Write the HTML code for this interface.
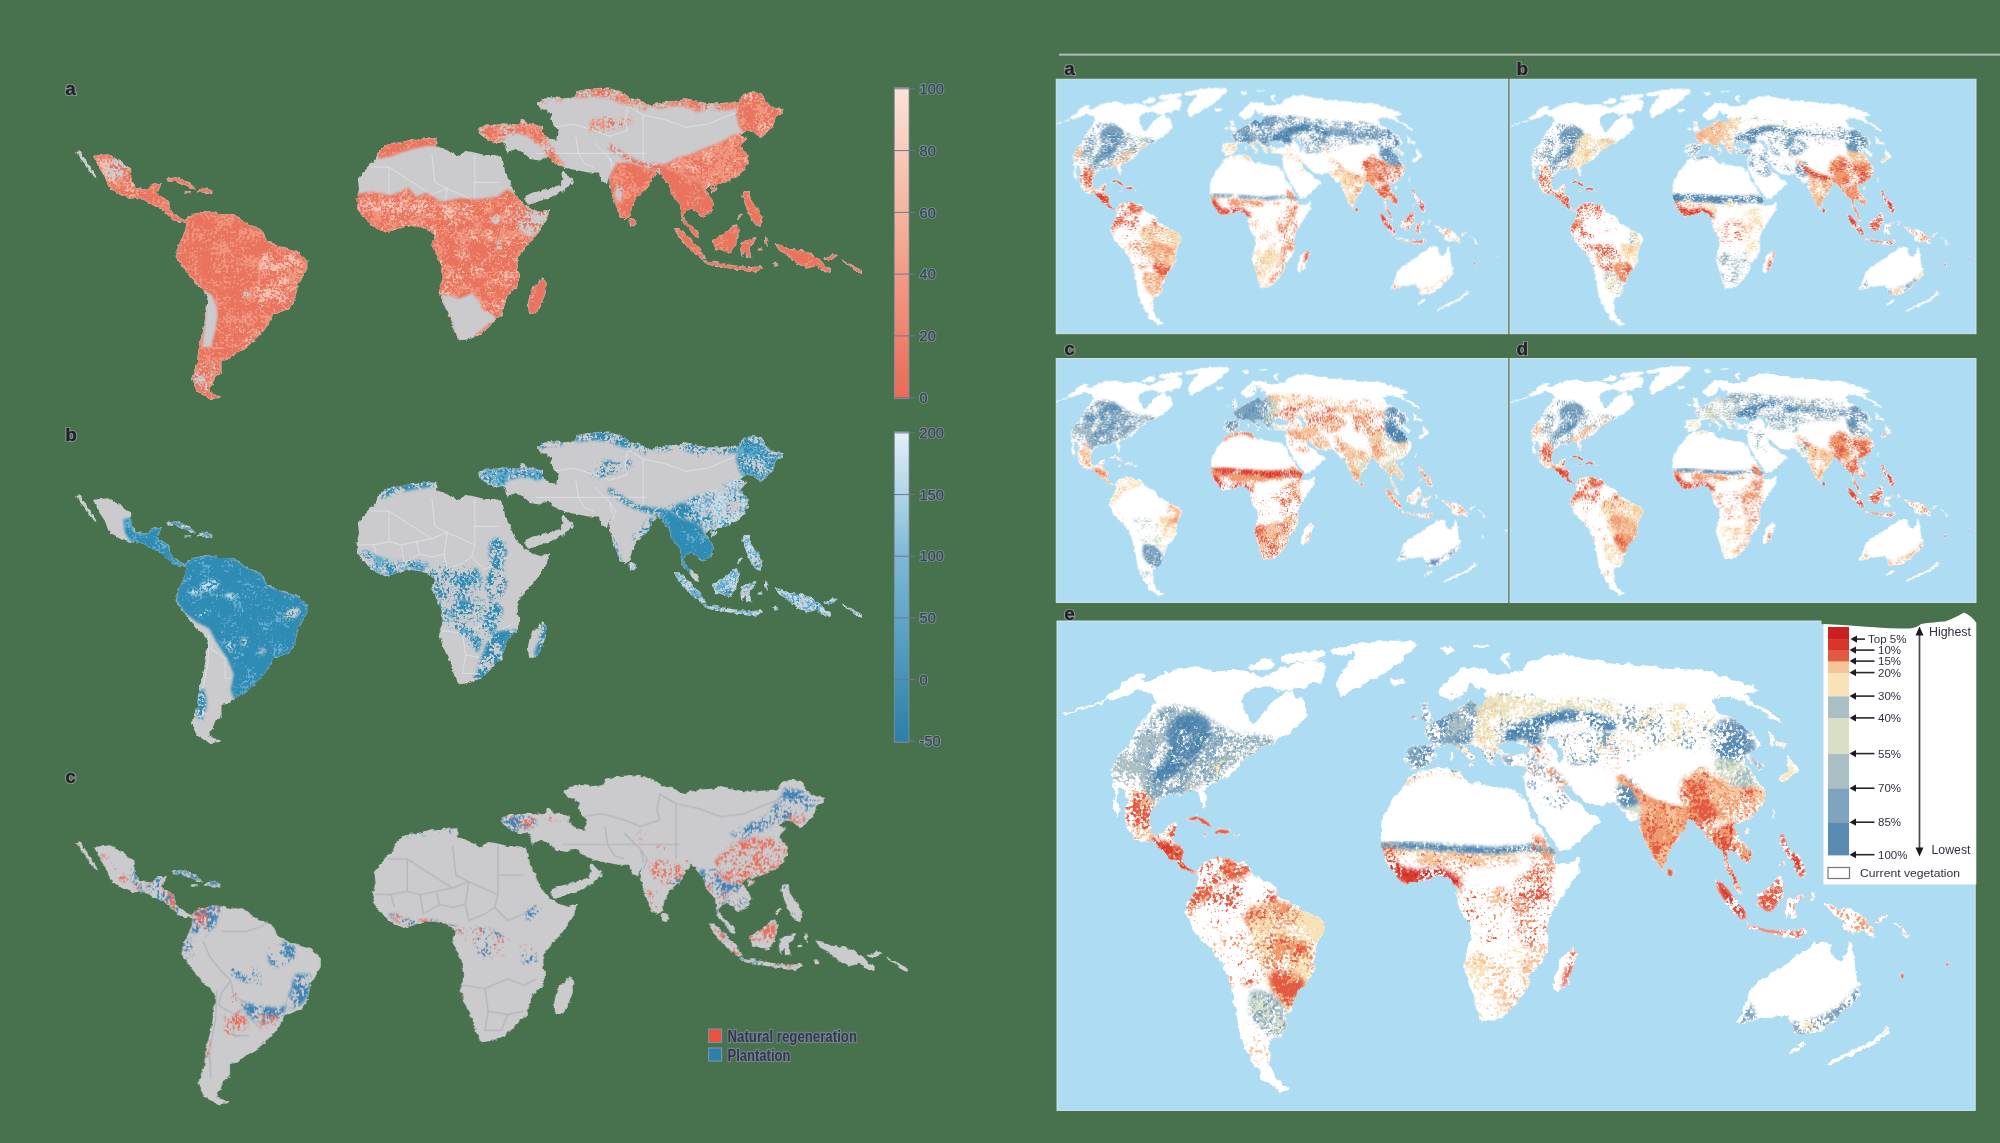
<!DOCTYPE html><html><head><meta charset="utf-8"><style>
html,body{margin:0;padding:0;background:#48714d;}
svg{display:block}
text{font-family:"Liberation Sans", sans-serif;}
</style></head><body>
<svg width="2000" height="1143" viewBox="0 0 2000 1143">
<defs>
<path id="landW" d="M1105.6,697.3 1113.0,692.4 1121.4,687.6 1120.3,683.0 1128.1,677.9 1142.4,672.5 1146.2,675.0 1140.3,680.0 1148.7,681.3 1159.2,675.8 1171.8,670.4 1184.4,668.7 1199.1,666.6 1209.6,670.4 1218.0,671.6 1230.6,670.0 1243.2,669.3 1248.4,673.7 1256.8,675.4 1266.3,675.0 1276.8,671.6 1281.0,667.5 1293.6,664.5 1308.2,661.2 1322.9,659.9 1326.3,668.3 1323.4,676.7 1319.2,681.9 1309.5,683.4 1305.3,688.4 1295.7,689.3 1288.3,690.3 1294.0,691.8 1294.8,698.9 1303.2,696.0 1305.3,708.2 1307.8,715.7 1301.9,722.9 1294.8,726.2 1291.5,731.3 1285.2,735.1 1280.5,738.0 1272.6,746.0 1266.3,744.3 1260.0,748.5 1251.6,754.4 1245.3,756.9 1239.0,764.9 1232.7,771.6 1228.5,775.8 1218.0,782.1 1209.6,786.3 1205.8,790.5 1205.8,798.9 1204.5,807.3 1201.2,807.3 1200.3,798.9 1197.0,792.6 1188.6,790.5 1180.2,794.7 1169.7,794.7 1159.2,801.0 1153.3,807.3 1151.2,813.6 1149.1,822.0 1151.2,830.4 1155.4,834.6 1163.4,832.5 1170.1,824.1 1177.2,822.0 1178.1,827.0 1174.3,832.5 1173.0,840.9 1180.2,845.1 1184.4,851.4 1183.1,854.2 1181.9,860.1 1185.4,866.0 1191.3,870.2 1196.1,871.2 1193.7,873.5 1187.8,873.1 1180.7,867.2 1173.6,861.3 1164.2,853.0 1154.7,844.7 1150.0,841.2 1142.4,842.6 1134.0,838.4 1128.1,830.0 1125.6,821.6 1123.9,809.0 1127.7,802.7 1125.6,792.6 1121.4,788.0 1113.0,783.8 1110.9,775.4 1113.0,764.9 1119.3,754.4 1127.7,746.0 1134.0,737.6 1138.2,727.1 1142.4,718.7 1150.8,710.3 1155.0,702.3 1152.9,696.0 1142.4,689.7 1129.8,693.9 1113.0,700.2ZM1113.0,784.2 1115.5,794.3 1112.1,803.1 1115.1,813.2 1117.6,816.5 1118.4,809.0 1116.3,800.6 1119.7,792.2 1117.6,785.0ZM1062.6,716.2 1077.3,710.7 1092.0,706.1 1106.7,700.8 1107.1,698.7 1092.0,704.0 1077.3,709.0 1062.6,714.9ZM1249.5,665.1 1260.0,659.9 1270.5,658.8 1275.1,664.1 1268.4,670.4 1255.8,671.6 1249.5,669.6ZM1281.0,657.0 1297.8,653.6 1310.3,651.5 1322.9,650.7 1325.5,655.7 1314.5,659.9 1301.9,662.0 1289.4,663.3 1281.0,661.2ZM1329.2,649.8 1343.9,646.5 1360.7,643.7 1364.9,646.2 1354.4,651.9 1343.9,654.9 1333.4,654.9ZM1343.9,646.5 1360.7,643.5 1377.5,641.4 1392.0,640.6 1410.9,641.0 1417.2,644.1 1409.8,651.5 1402.5,659.9 1392.0,668.3 1381.5,675.0 1368.9,681.3 1358.4,687.6 1350.0,691.0 1341.6,696.0 1336.6,685.5 1339.9,675.0 1348.3,664.5 1354.2,654.0ZM1187.5,818.4 1194.9,815.7 1203.3,818.4 1211.7,824.7 1212.7,827.9 1205.4,825.3 1197.0,820.5 1189.6,820.5ZM1213.8,832.1 1220.1,828.9 1228.5,830.0 1230.6,833.1 1222.2,834.6 1214.8,834.6ZM1202.2,833.1 1206.4,832.5 1206.4,835.2 1202.6,835.6ZM1234.8,833.1 1237.9,833.1 1237.9,835.2 1234.8,835.2ZM1196.1,870.7 1204.3,862.4 1216.1,856.5 1227.9,858.9 1239.7,861.3 1246.8,863.6 1251.6,870.7 1258.6,877.8 1270.4,882.5 1277.5,889.6 1279.9,896.7 1289.3,902.6 1301.1,908.5 1315.3,915.6 1323.6,921.5 1324.8,929.7 1320.0,939.2 1315.3,951.0 1314.1,962.8 1313.0,974.6 1305.9,984.1 1296.4,991.1 1294.1,1000.6 1291.7,1010.0 1284.6,1017.1 1287.0,1026.6 1281.1,1036.0 1272.8,1038.4 1268.1,1045.5 1270.4,1052.6 1268.1,1062.0 1272.8,1071.4 1277.5,1080.9 1289.3,1089.2 1282.3,1091.5 1270.4,1085.6 1261.0,1076.2 1253.9,1064.4 1246.8,1050.2 1239.7,1033.7 1237.4,1019.5 1235.0,1005.3 1231.5,991.1 1227.9,977.0 1223.2,965.2 1213.8,953.4 1202.0,941.6 1192.5,927.4 1186.6,915.6 1186.6,903.8 1192.5,894.3 1197.2,884.9ZM1405.6,760.7 1405.6,752.3 1407.1,748.1 1413.0,746.0 1423.5,745.6 1432.9,743.9 1428.1,737.6 1422.4,730.2 1425.6,726.0 1434.0,721.2 1442.4,717.6 1448.7,712.4 1455.0,709.2 1463.4,706.1 1467.6,702.3 1470.7,697.7 1473.9,702.9 1481.2,705.0 1487.5,700.8 1484.4,693.5 1476.0,689.3 1469.7,683.0 1466.5,691.4 1459.2,697.7 1450.8,701.0 1442.4,698.1 1438.2,693.5 1438.6,689.3 1450.8,676.7 1459.2,670.4 1471.8,667.5 1486.5,670.4 1497.0,675.0 1509.6,672.5 1524.3,668.7 1526.4,662.4 1539.0,659.9 1547.4,653.6 1560.0,654.6 1572.6,655.7 1585.2,659.1 1601.9,661.2 1622.9,664.1 1643.9,665.4 1664.9,667.5 1685.9,669.6 1700.0,668.7 1710.9,672.5 1729.8,677.9 1744.5,683.0 1755.0,687.2 1759.6,689.7 1750.8,693.9 1744.5,692.6 1748.7,698.9 1759.2,704.4 1767.6,710.7 1776.0,717.0 1782.3,723.3 1775.6,721.2 1763.4,712.8 1750.8,704.4 1740.3,700.2 1729.8,698.1 1719.3,696.8 1713.0,700.2 1713.4,706.5 1721.4,712.8 1734.0,719.1 1742.4,725.4 1752.9,733.8 1759.2,742.2 1760.4,746.4 1755.0,750.6 1750.8,748.5 1748.7,754.4 1755.0,756.9 1763.4,767.0 1759.6,771.6 1755.0,765.3 1750.8,760.7 1745.5,756.5 1744.5,762.8 1750.8,771.2 1757.1,779.6 1763.4,786.3 1765.9,794.7 1763.4,805.2 1755.0,813.6 1746.6,819.9 1738.2,824.1 1734.0,822.0 1734.4,826.8 1740.3,838.8 1748.7,849.3 1747.0,857.7 1751.1,848.3 1752.8,855.4 1748.0,863.0 1738.6,855.9 1729.1,848.8 1726.8,855.9 1731.5,867.7 1738.6,881.9 1742.4,893.7 1738.6,892.0 1729.1,874.8 1724.4,860.6 1719.7,848.8 1710.3,841.7 1703.2,832.3 1693.7,820.5 1688.5,820.0 1683.8,829.4 1674.4,843.6 1667.3,857.8 1661.8,870.1 1655.5,860.6 1648.4,846.5 1641.3,832.3 1638.9,820.0 1631.3,822.6 1628.2,817.4 1620.8,809.0 1615.0,803.1 1601.9,805.2 1587.3,803.1 1581.0,798.5 1572.6,790.1 1565.2,784.2 1561.6,784.8 1563.1,790.1 1568.4,796.8 1574.7,803.1 1583.1,805.2 1585.6,809.4 1596.1,815.7 1600.3,822.0 1587.3,834.6 1573.0,847.2 1560.4,851.4 1552.0,840.9 1539.4,822.0 1531.0,803.1 1527.4,800.1 1524.7,785.9 1524.7,767.4 1516.3,765.3 1505.8,765.3 1501.6,761.1 1501.6,754.8 1497.4,752.7 1493.2,756.9 1495.3,765.3 1489.0,763.2 1484.8,754.8 1476.4,746.4 1468.0,744.3 1464.4,746.0 1468.0,750.6 1476.4,759.0 1474.3,763.2 1468.0,756.9 1461.7,750.6 1455.4,748.5 1452.9,744.3 1448.7,744.3 1438.6,746.4 1434.0,748.5 1436.5,754.8 1430.2,763.2 1421.8,769.5 1411.3,767.4ZM1419.3,702.3 1428.1,704.4 1430.2,712.8 1432.3,721.2 1421.8,723.3 1419.7,717.0 1422.9,710.7ZM1409.2,714.9 1415.5,712.8 1416.6,719.1 1410.3,720.1ZM1388.8,680.3 1403.5,679.0 1405.0,683.2 1394.5,686.6ZM1440.3,647.7 1452.9,646.5 1455.4,651.9 1447.0,654.0ZM1501.2,655.1 1510.0,653.6 1505.8,660.3 1512.1,667.5 1504.7,665.4 1500.3,659.3ZM1472.8,645.2 1488.6,644.4 1488.6,646.5 1473.9,647.3ZM1450.8,752.3 1453.9,752.3 1453.9,759.6 1451.2,759.6ZM1467.6,764.9 1473.9,764.9 1471.8,768.0ZM1776.0,740.1 1786.9,743.9 1784.4,749.1 1777.0,746.0ZM1784.4,754.8 1795.3,763.2 1799.5,771.6 1793.2,775.8 1784.8,782.1 1778.5,782.1 1780.6,775.8 1789.0,769.5 1786.9,761.1ZM1767.6,729.2 1770.7,730.2 1776.0,746.0 1772.8,746.0ZM1771.4,810.0 1774.3,811.5 1773.9,817.4 1771.8,816.3ZM1745.5,828.9 1749.7,827.9 1750.4,832.1 1746.2,833.1ZM1402.5,786.3 1409.2,777.9 1419.7,771.6 1434.4,768.2 1449.1,767.0 1459.6,771.6 1464.4,776.4 1468.0,782.1 1484.8,784.2 1497.4,788.4 1510.0,788.4 1518.4,792.6 1524.7,798.9 1526.8,801.8 1530.1,815.7 1540.6,830.4 1549.0,843.0 1555.3,851.4 1553.9,863.9 1568.1,862.7 1579.9,858.0 1580.4,867.5 1573.3,879.3 1563.8,893.4 1554.4,907.6 1547.3,924.1 1548.5,938.3 1547.3,952.5 1540.2,964.3 1530.8,973.7 1528.4,987.9 1519.0,999.7 1507.2,1013.9 1493.0,1021.0 1481.2,1023.3 1476.5,1009.2 1472.9,995.0 1468.2,980.8 1463.5,966.7 1467.0,952.5 1471.7,938.3 1469.4,926.5 1462.3,914.7 1457.6,902.9 1457.6,888.7 1450.0,879.3 1441.0,875.9 1429.1,879.2 1417.3,882.7 1405.5,883.9 1396.1,878.0 1389.0,866.2 1383.1,854.4 1380.7,842.6 1379.4,847.2 1381.5,838.8 1380.7,826.2 1384.0,813.6 1392.4,798.9 1402.5,788.4ZM1572.8,947.8 1577.8,954.9 1573.0,969.0 1566.0,985.6 1557.7,992.6 1553.0,985.6 1556.5,971.4 1561.2,959.6 1568.3,952.5ZM1667.3,867.2 1673.2,870.8 1672.0,877.9 1667.3,875.5ZM1714.5,879.0 1721.6,881.4 1733.4,895.6 1745.2,909.7 1747.6,919.2 1740.5,919.2 1728.7,907.4 1719.2,893.2ZM1747.2,923.9 1761.4,927.5 1775.6,929.8 1789.8,931.0 1803.9,929.8 1807.5,932.2 1799.2,936.9 1785.0,935.7 1770.9,933.4 1756.7,931.0 1746.1,927.5ZM1756.7,895.6 1765.0,890.9 1775.6,879.1 1782.7,876.7 1783.9,883.8 1782.7,895.6 1778.0,905.0 1770.9,913.3 1762.6,910.9 1757.9,903.9ZM1787.4,900.3 1794.5,896.8 1803.9,895.6 1799.2,901.5 1793.3,905.0 1795.7,916.9 1792.1,919.2 1789.8,912.1 1786.2,919.2 1785.5,907.4ZM1795.7,936.9 1805.1,931.0 1807.5,933.4 1798.0,939.3ZM1811.0,893.2 1814.6,892.0 1813.4,901.5 1810.6,900.3ZM1779.1,834.2 1783.9,833.0 1786.2,843.6 1790.9,850.7 1799.2,855.4 1803.9,864.9 1806.3,874.3 1800.4,877.9 1795.7,870.8 1792.1,862.5 1787.4,855.4 1781.5,846.0ZM1778.0,867.2 1783.9,860.2 1785.0,862.5 1779.1,869.6ZM1822.8,902.7 1832.3,905.0 1841.7,909.8 1851.2,908.6 1860.6,913.3 1867.7,921.6 1872.4,931.0 1876.0,936.9 1870.1,935.7 1863.0,931.0 1853.5,933.4 1846.5,931.0 1841.7,921.6 1834.6,914.5 1827.6,909.8ZM1874.8,920.4 1886.6,914.5 1889.0,916.9 1879.5,922.8ZM1893.7,921.6 1900.8,927.5 1910.2,936.9 1907.9,938.1 1899.6,929.8 1892.5,923.5ZM1736.6,1023.1 1742.5,1013.7 1746.1,1001.9 1749.6,990.1 1759.1,980.6 1770.9,973.5 1782.7,966.5 1794.5,957.0 1806.3,951.1 1814.6,942.8 1822.8,941.7 1832.3,944.0 1828.7,952.3 1834.6,959.4 1841.7,961.7 1846.5,952.3 1850.0,940.5 1852.4,947.6 1854.7,961.7 1855.9,973.5 1859.4,985.4 1859.4,994.8 1851.2,1006.6 1841.7,1013.7 1832.3,1023.1 1822.8,1030.2 1811.0,1032.6 1799.2,1035.0 1793.3,1032.6 1792.1,1023.1 1789.8,1016.1 1778.0,1016.1 1763.8,1018.4 1752.0,1020.8 1742.5,1024.3ZM1788.6,1052.7 1794.5,1046.8 1803.9,1042.0 1806.3,1044.4 1799.2,1050.3 1790.9,1053.9ZM1900.5,974 1903.5,973 1905,977 1903.5,980 1900.8,978.5ZM1944.5,965.5 1947,963 1949.8,963.8 1948,966.5 1945.5,967ZM1826.4,1064.5 1834.6,1058.6 1851.2,1050.3 1865.4,1044.4 1874.8,1039.7 1884.3,1030.2 1889.0,1025.5 1890.2,1032.6 1886.6,1036.1 1879.5,1040.9 1870.1,1045.6 1853.5,1053.9 1839.4,1060.9 1828.7,1065.7Z"/>
<path id="holesW" d="M1241.5,698.1 1246.3,691.4 1260.0,688.0 1273.0,687.2 1281.8,691.0 1290.4,689.7 1279.9,696.0 1270.5,704.8 1262.5,713.6 1257.9,720.4 1251.1,723.3 1248.2,715.7 1243.6,706.5ZM1500.1,743.0 1509.6,740.9 1518.0,743.9 1528.5,746.0 1531.0,750.2 1524.7,754.4 1512.1,754.8 1503.7,751.4 1499.5,748.1ZM1547.4,738.8 1554.9,737.6 1558.3,743.9 1562.5,750.2 1564.6,758.6 1560.4,763.2 1557.0,756.5 1552.8,750.2 1549.5,743.9ZM1473.9,702.9 1476.0,692.4 1482.3,687.2 1486.5,689.3 1484.4,693.5 1487.5,700.8 1481.2,705.0Z"/>
<path id="landL" d="M92.9,155.8 108.2,154.2 120.4,160.4 131.2,169.5 131.2,180.3 135.8,187.9 148.0,189.4 152.6,183.3 161.8,183.3 157.2,194.0 167.9,200.2 171.0,210.9 178.6,217.0 184.8,220.1 192.4,214.0 209.3,210.9 221.5,214.0 233.8,214.0 246.0,223.1 261.3,229.3 267.5,241.5 282.8,247.6 298.1,252.2 307.3,259.9 307.3,269.1 298.1,284.4 295.0,299.7 288.9,308.9 273.6,315.0 264.4,330.3 252.1,342.6 246.0,348.7 233.8,354.8 229.2,359.4 221.5,361.0 221.5,373.2 215.4,376.3 212.3,385.5 209.3,391.6 221.5,397.7 209.3,399.2 197.0,391.6 190.9,379.3 197.0,364.0 198.5,345.7 203.1,330.3 206.2,312.0 207.7,296.6 203.1,290.5 190.9,278.3 181.7,266.0 175.6,256.8 178.6,244.6 184.8,232.3 186.3,223.1 178.6,221.6 172.5,220.1 166.4,214.0 160.3,207.8 151.1,204.8 141.9,198.6 129.6,198.6 117.4,194.0 108.2,186.4 105.1,177.2 99.0,168.0ZM76.0,151.2 80.6,152.1 88.3,163.4 95.9,175.7 96.6,178.7 91.3,174.1 83.7,163.4 78.2,155.8ZM166.4,178.7 175.6,177.2 184.8,180.3 194.0,186.4 194.6,190.1 186.3,185.8 177.1,181.8 167.9,181.8ZM197.0,190.1 204.7,187.9 212.3,190.1 212.3,193.1 203.1,193.1 197.6,193.1ZM184.8,191.0 190.9,191.0 190.9,193.4 184.8,193.4ZM388.2,143.6 400.9,142.3 411.1,139.0 426.3,138.5 436.4,138.0 436.4,146.1 446.6,149.9 459.3,156.3 464.4,150.7 474.5,152.5 484.7,155.0 494.8,155.0 502.4,157.6 505.0,171.5 510.1,181.7 515.1,194.4 521.5,202.0 529.1,208.3 540.5,212.1 549.4,209.1 546.9,219.7 540.5,229.9 532.9,240.1 522.7,250.2 517.7,257.8 517.7,270.5 520.2,275.6 517.7,285.7 507.5,295.9 505.0,303.5 502.4,313.7 492.3,323.8 482.1,334.0 469.4,339.0 459.3,340.3 454.2,331.4 451.7,321.3 446.6,311.1 441.5,298.4 439.0,288.3 442.8,278.1 441.5,265.4 436.4,255.3 431.4,245.1 433.9,235.0 428.8,229.9 421.2,227.4 411.1,226.1 398.4,228.6 385.7,232.4 375.5,227.4 365.4,219.7 357.8,209.6 356.5,199.4 359.0,189.3 357.8,179.1 365.4,169.0 375.5,158.8 378.1,151.2ZM543.0,278.1 546.9,283.2 545.6,293.4 540.5,306.0 535.4,313.7 529.1,313.7 527.8,303.5 530.4,290.8 535.4,285.7ZM526.0,195.8 532.1,192.8 542.1,190.7 552.2,187.7 560.2,184.7 562.3,178.7 561.3,172.6 564.3,170.6 567.3,175.6 573.3,178.7 572.3,182.7 566.3,188.7 556.2,194.8 546.2,198.8 536.1,202.8 528.0,204.8 525.0,200.8ZM478.3,128.9 484.7,124.6 497.4,124.6 502.4,123.3 517.7,124.6 522.7,119.5 527.8,123.3 535.4,124.6 543.0,127.1 543.0,133.5 550.7,139.0 557.2,139.4 558.6,132.4 554.2,126.3 550.2,120.3 552.2,115.3 548.2,111.3 540.1,108.2 537.1,103.2 542.1,99.2 552.2,97.2 564.3,98.2 574.3,97.2 577.4,91.1 588.4,89.1 600.5,87.7 612.6,89.1 622.6,92.1 630.7,98.2 640.7,100.2 648.8,105.2 658.8,103.2 668.9,101.2 681.0,100.2 685.0,98.2 695.1,100.2 707.1,103.2 719.2,103.2 729.3,102.2 739.3,101.2 743.4,94.1 751.4,92.1 761.5,93.1 765.5,100.2 771.5,107.2 783.6,109.2 783.6,113.3 775.6,117.3 773.5,126.3 767.5,132.4 761.5,137.4 755.4,134.4 751.4,130.4 743.4,132.4 740.3,135.4 747.4,138.4 741.4,144.5 743.4,150.5 747.4,154.5 748.4,162.6 743.4,170.6 737.3,176.7 729.3,180.7 721.2,183.7 715.2,184.7 709.2,187.7 705.1,190.7 711.2,196.8 714.2,204.8 711.2,210.9 703.1,217.9 697.1,212.9 691.0,208.8 687.0,210.9 683.0,214.9 685.0,219.9 691.0,224.9 697.1,231.0 699.1,238.0 695.1,237.0 689.0,229.0 683.0,222.9 681.0,214.9 680.0,204.8 674.9,198.8 670.9,194.8 669.9,186.7 664.9,180.7 660.9,174.6 656.8,172.6 652.8,178.7 648.8,186.7 640.7,194.8 634.7,200.8 631.7,208.8 629.7,216.9 624.6,219.9 619.6,214.9 614.6,202.8 610.6,190.7 609.5,180.7 610.6,174.6 606.5,184.7 600.5,178.7 598.5,172.6 588.4,172.6 578.4,170.6 565.9,168.0 555.7,164.4 548.1,156.8 540.5,160.6 530.4,159.3 522.7,151.7 515.1,149.2 507.5,153.8 506.2,146.1 502.4,143.6 492.3,142.3 484.7,138.0 479.1,133.5ZM629.7,217.9 634.7,218.9 636.7,223.9 632.7,227.0 629.7,223.9ZM711.2,187.7 716.2,186.7 716.2,190.7 712.2,192.8ZM672.9,228.0 679.0,228.0 691.0,239.0 701.1,249.1 705.1,259.2 699.1,258.1 689.0,249.1 679.0,237.0ZM704.1,260.2 717.2,262.2 733.3,265.2 749.4,267.2 761.5,266.2 763.5,269.2 753.4,272.2 733.3,269.2 717.2,266.2 705.1,264.2ZM712.2,240.0 721.2,235.0 731.3,227.0 737.3,224.9 740.3,229.0 737.3,237.0 736.3,245.1 731.3,253.1 723.2,252.1 715.2,249.1ZM741.4,243.1 747.4,239.0 757.5,238.0 753.4,243.1 749.4,247.1 751.4,257.1 747.4,258.1 744.4,251.1 741.4,258.1 740.3,249.1ZM743.4,191.7 749.4,190.7 750.4,198.8 754.4,204.8 758.5,208.8 762.5,216.9 760.5,227.0 755.4,224.9 751.4,218.9 747.4,210.9 744.4,202.8 742.4,196.8ZM736.9,217.9 741.8,213.3 743.0,214.9 738.1,219.3ZM765.5,237.0 768.5,241.0 766.5,247.1 764.5,243.1ZM774.6,244.1 781.6,245.1 789.6,249.1 801.7,250.1 811.8,254.1 819.8,259.2 825.9,266.2 830.9,269.2 829.9,274.2 821.8,269.2 815.8,266.2 807.8,268.2 799.7,265.2 793.7,261.2 787.6,255.1 779.6,251.1ZM823.9,259.2 833.9,253.1 836.9,256.1 829.9,261.2ZM842.0,259.2 852.0,265.2 860.1,269.2 862.1,274.2 859.1,273.2 850.0,266.2 841.6,261.2ZM757.5,248.1 761.5,247.1 762.5,250.1 758.5,250.7ZM772.5,263.2 777.6,262.8 777.6,265.6 773.1,265.6Z"/>
<filter id="rough" x="-2%" y="-2%" width="104%" height="104%"><feTurbulence type="fractalNoise" baseFrequency="0.12" numOctaves="3" seed="7" result="n"/><feDisplacementMap in="SourceGraphic" in2="n" scale="7" xChannelSelector="R" yChannelSelector="G"/><feGaussianBlur stdDeviation="0.7"/></filter>
<filter id="roughL" x="-2%" y="-2%" width="104%" height="104%"><feTurbulence type="fractalNoise" baseFrequency="0.22" numOctaves="2" seed="9" result="n"/><feDisplacementMap in="SourceGraphic" in2="n" scale="4" xChannelSelector="R" yChannelSelector="G"/><feGaussianBlur stdDeviation="0.6"/></filter>
<mask id="maskW" maskUnits="userSpaceOnUse" x="1000" y="600" width="1000" height="543"><use href="#landW" fill="#fff" filter="url(#rough)"/></mask>
<mask id="maskL" maskUnits="userSpaceOnUse" x="0" y="0" width="1000" height="500"><use href="#landL" fill="#fff" filter="url(#roughL)"/></mask>
<clipPath id="clipW"><use href="#landW"/></clipPath>
<clipPath id="clipL"><use href="#landL"/></clipPath>
<filter id="fd0" x="-15%" y="-15%" width="130%" height="130%" color-interpolation-filters="sRGB"><feGaussianBlur in="SourceGraphic" stdDeviation="2" result="b"/><feTurbulence type="fractalNoise" baseFrequency="0.30" numOctaves="2" seed="1" result="t1"/><feTurbulence type="fractalNoise" baseFrequency="0.045" numOctaves="2" seed="11" result="t2"/><feComposite in="t1" in2="t2" operator="arithmetic" k1="0" k2="0.55" k3="0.45" k4="0" result="t"/><feColorMatrix in="t" type="matrix" values="0 0 0 0 0 0 0 0 0 0 0 0 0 0 0 0 0 0 11 -4.730" result="a"/><feComposite in="b" in2="a" operator="in"/></filter><filter id="fd1" x="-15%" y="-15%" width="130%" height="130%" color-interpolation-filters="sRGB"><feGaussianBlur in="SourceGraphic" stdDeviation="2" result="b"/><feTurbulence type="fractalNoise" baseFrequency="0.30" numOctaves="2" seed="2" result="t1"/><feTurbulence type="fractalNoise" baseFrequency="0.045" numOctaves="2" seed="12" result="t2"/><feComposite in="t1" in2="t2" operator="arithmetic" k1="0" k2="0.55" k3="0.45" k4="0" result="t"/><feColorMatrix in="t" type="matrix" values="0 0 0 0 0 0 0 0 0 0 0 0 0 0 0 0 0 0 11 -4.730" result="a"/><feComposite in="b" in2="a" operator="in"/></filter><filter id="fd2" x="-15%" y="-15%" width="130%" height="130%" color-interpolation-filters="sRGB"><feGaussianBlur in="SourceGraphic" stdDeviation="2" result="b"/><feTurbulence type="fractalNoise" baseFrequency="0.30" numOctaves="2" seed="3" result="t1"/><feTurbulence type="fractalNoise" baseFrequency="0.045" numOctaves="2" seed="13" result="t2"/><feComposite in="t1" in2="t2" operator="arithmetic" k1="0" k2="0.55" k3="0.45" k4="0" result="t"/><feColorMatrix in="t" type="matrix" values="0 0 0 0 0 0 0 0 0 0 0 0 0 0 0 0 0 0 11 -4.730" result="a"/><feComposite in="b" in2="a" operator="in"/></filter><filter id="fd3" x="-15%" y="-15%" width="130%" height="130%" color-interpolation-filters="sRGB"><feGaussianBlur in="SourceGraphic" stdDeviation="2" result="b"/><feTurbulence type="fractalNoise" baseFrequency="0.30" numOctaves="2" seed="4" result="t1"/><feTurbulence type="fractalNoise" baseFrequency="0.045" numOctaves="2" seed="14" result="t2"/><feComposite in="t1" in2="t2" operator="arithmetic" k1="0" k2="0.55" k3="0.45" k4="0" result="t"/><feColorMatrix in="t" type="matrix" values="0 0 0 0 0 0 0 0 0 0 0 0 0 0 0 0 0 0 11 -4.730" result="a"/><feComposite in="b" in2="a" operator="in"/></filter><filter id="fd4" x="-15%" y="-15%" width="130%" height="130%" color-interpolation-filters="sRGB"><feGaussianBlur in="SourceGraphic" stdDeviation="2" result="b"/><feTurbulence type="fractalNoise" baseFrequency="0.30" numOctaves="2" seed="5" result="t1"/><feTurbulence type="fractalNoise" baseFrequency="0.045" numOctaves="2" seed="15" result="t2"/><feComposite in="t1" in2="t2" operator="arithmetic" k1="0" k2="0.55" k3="0.45" k4="0" result="t"/><feColorMatrix in="t" type="matrix" values="0 0 0 0 0 0 0 0 0 0 0 0 0 0 0 0 0 0 11 -4.730" result="a"/><feComposite in="b" in2="a" operator="in"/></filter><filter id="fm0" x="-15%" y="-15%" width="130%" height="130%" color-interpolation-filters="sRGB"><feGaussianBlur in="SourceGraphic" stdDeviation="2" result="b"/><feTurbulence type="fractalNoise" baseFrequency="0.30" numOctaves="2" seed="1" result="t1"/><feTurbulence type="fractalNoise" baseFrequency="0.045" numOctaves="2" seed="11" result="t2"/><feComposite in="t1" in2="t2" operator="arithmetic" k1="0" k2="0.55" k3="0.45" k4="0" result="t"/><feColorMatrix in="t" type="matrix" values="0 0 0 0 0 0 0 0 0 0 0 0 0 0 0 0 0 0 11 -5.500" result="a"/><feComposite in="b" in2="a" operator="in"/></filter><filter id="fm1" x="-15%" y="-15%" width="130%" height="130%" color-interpolation-filters="sRGB"><feGaussianBlur in="SourceGraphic" stdDeviation="2" result="b"/><feTurbulence type="fractalNoise" baseFrequency="0.30" numOctaves="2" seed="2" result="t1"/><feTurbulence type="fractalNoise" baseFrequency="0.045" numOctaves="2" seed="12" result="t2"/><feComposite in="t1" in2="t2" operator="arithmetic" k1="0" k2="0.55" k3="0.45" k4="0" result="t"/><feColorMatrix in="t" type="matrix" values="0 0 0 0 0 0 0 0 0 0 0 0 0 0 0 0 0 0 11 -5.500" result="a"/><feComposite in="b" in2="a" operator="in"/></filter><filter id="fm2" x="-15%" y="-15%" width="130%" height="130%" color-interpolation-filters="sRGB"><feGaussianBlur in="SourceGraphic" stdDeviation="2" result="b"/><feTurbulence type="fractalNoise" baseFrequency="0.30" numOctaves="2" seed="3" result="t1"/><feTurbulence type="fractalNoise" baseFrequency="0.045" numOctaves="2" seed="13" result="t2"/><feComposite in="t1" in2="t2" operator="arithmetic" k1="0" k2="0.55" k3="0.45" k4="0" result="t"/><feColorMatrix in="t" type="matrix" values="0 0 0 0 0 0 0 0 0 0 0 0 0 0 0 0 0 0 11 -5.500" result="a"/><feComposite in="b" in2="a" operator="in"/></filter><filter id="fm3" x="-15%" y="-15%" width="130%" height="130%" color-interpolation-filters="sRGB"><feGaussianBlur in="SourceGraphic" stdDeviation="2" result="b"/><feTurbulence type="fractalNoise" baseFrequency="0.30" numOctaves="2" seed="4" result="t1"/><feTurbulence type="fractalNoise" baseFrequency="0.045" numOctaves="2" seed="14" result="t2"/><feComposite in="t1" in2="t2" operator="arithmetic" k1="0" k2="0.55" k3="0.45" k4="0" result="t"/><feColorMatrix in="t" type="matrix" values="0 0 0 0 0 0 0 0 0 0 0 0 0 0 0 0 0 0 11 -5.500" result="a"/><feComposite in="b" in2="a" operator="in"/></filter><filter id="fm4" x="-15%" y="-15%" width="130%" height="130%" color-interpolation-filters="sRGB"><feGaussianBlur in="SourceGraphic" stdDeviation="2" result="b"/><feTurbulence type="fractalNoise" baseFrequency="0.30" numOctaves="2" seed="5" result="t1"/><feTurbulence type="fractalNoise" baseFrequency="0.045" numOctaves="2" seed="15" result="t2"/><feComposite in="t1" in2="t2" operator="arithmetic" k1="0" k2="0.55" k3="0.45" k4="0" result="t"/><feColorMatrix in="t" type="matrix" values="0 0 0 0 0 0 0 0 0 0 0 0 0 0 0 0 0 0 11 -5.500" result="a"/><feComposite in="b" in2="a" operator="in"/></filter><filter id="fs0" x="-15%" y="-15%" width="130%" height="130%" color-interpolation-filters="sRGB"><feGaussianBlur in="SourceGraphic" stdDeviation="2" result="b"/><feTurbulence type="fractalNoise" baseFrequency="0.30" numOctaves="2" seed="1" result="t1"/><feTurbulence type="fractalNoise" baseFrequency="0.045" numOctaves="2" seed="11" result="t2"/><feComposite in="t1" in2="t2" operator="arithmetic" k1="0" k2="0.55" k3="0.45" k4="0" result="t"/><feColorMatrix in="t" type="matrix" values="0 0 0 0 0 0 0 0 0 0 0 0 0 0 0 0 0 0 11 -6.215" result="a"/><feComposite in="b" in2="a" operator="in"/></filter><filter id="fs1" x="-15%" y="-15%" width="130%" height="130%" color-interpolation-filters="sRGB"><feGaussianBlur in="SourceGraphic" stdDeviation="2" result="b"/><feTurbulence type="fractalNoise" baseFrequency="0.30" numOctaves="2" seed="2" result="t1"/><feTurbulence type="fractalNoise" baseFrequency="0.045" numOctaves="2" seed="12" result="t2"/><feComposite in="t1" in2="t2" operator="arithmetic" k1="0" k2="0.55" k3="0.45" k4="0" result="t"/><feColorMatrix in="t" type="matrix" values="0 0 0 0 0 0 0 0 0 0 0 0 0 0 0 0 0 0 11 -6.215" result="a"/><feComposite in="b" in2="a" operator="in"/></filter><filter id="fs2" x="-15%" y="-15%" width="130%" height="130%" color-interpolation-filters="sRGB"><feGaussianBlur in="SourceGraphic" stdDeviation="2" result="b"/><feTurbulence type="fractalNoise" baseFrequency="0.30" numOctaves="2" seed="3" result="t1"/><feTurbulence type="fractalNoise" baseFrequency="0.045" numOctaves="2" seed="13" result="t2"/><feComposite in="t1" in2="t2" operator="arithmetic" k1="0" k2="0.55" k3="0.45" k4="0" result="t"/><feColorMatrix in="t" type="matrix" values="0 0 0 0 0 0 0 0 0 0 0 0 0 0 0 0 0 0 11 -6.215" result="a"/><feComposite in="b" in2="a" operator="in"/></filter><filter id="fs3" x="-15%" y="-15%" width="130%" height="130%" color-interpolation-filters="sRGB"><feGaussianBlur in="SourceGraphic" stdDeviation="2" result="b"/><feTurbulence type="fractalNoise" baseFrequency="0.30" numOctaves="2" seed="4" result="t1"/><feTurbulence type="fractalNoise" baseFrequency="0.045" numOctaves="2" seed="14" result="t2"/><feComposite in="t1" in2="t2" operator="arithmetic" k1="0" k2="0.55" k3="0.45" k4="0" result="t"/><feColorMatrix in="t" type="matrix" values="0 0 0 0 0 0 0 0 0 0 0 0 0 0 0 0 0 0 11 -6.215" result="a"/><feComposite in="b" in2="a" operator="in"/></filter><filter id="fs4" x="-15%" y="-15%" width="130%" height="130%" color-interpolation-filters="sRGB"><feGaussianBlur in="SourceGraphic" stdDeviation="2" result="b"/><feTurbulence type="fractalNoise" baseFrequency="0.30" numOctaves="2" seed="5" result="t1"/><feTurbulence type="fractalNoise" baseFrequency="0.045" numOctaves="2" seed="15" result="t2"/><feComposite in="t1" in2="t2" operator="arithmetic" k1="0" k2="0.55" k3="0.45" k4="0" result="t"/><feColorMatrix in="t" type="matrix" values="0 0 0 0 0 0 0 0 0 0 0 0 0 0 0 0 0 0 11 -6.215" result="a"/><feComposite in="b" in2="a" operator="in"/></filter><filter id="gd0" x="-15%" y="-15%" width="130%" height="130%" color-interpolation-filters="sRGB"><feGaussianBlur in="SourceGraphic" stdDeviation="1.5" result="b"/><feTurbulence type="fractalNoise" baseFrequency="0.38" numOctaves="3" seed="21" result="t1"/><feTurbulence type="fractalNoise" baseFrequency="0.07" numOctaves="2" seed="31" result="t2"/><feComposite in="t1" in2="t2" operator="arithmetic" k1="0" k2="0.55" k3="0.45" k4="0" result="t"/><feColorMatrix in="t" type="matrix" values="0 0 0 0 0 0 0 0 0 0 0 0 0 0 0 0 0 0 11 -4.730" result="a"/><feComposite in="b" in2="a" operator="in"/></filter><filter id="gd1" x="-15%" y="-15%" width="130%" height="130%" color-interpolation-filters="sRGB"><feGaussianBlur in="SourceGraphic" stdDeviation="1.5" result="b"/><feTurbulence type="fractalNoise" baseFrequency="0.38" numOctaves="3" seed="22" result="t1"/><feTurbulence type="fractalNoise" baseFrequency="0.07" numOctaves="2" seed="32" result="t2"/><feComposite in="t1" in2="t2" operator="arithmetic" k1="0" k2="0.55" k3="0.45" k4="0" result="t"/><feColorMatrix in="t" type="matrix" values="0 0 0 0 0 0 0 0 0 0 0 0 0 0 0 0 0 0 11 -4.730" result="a"/><feComposite in="b" in2="a" operator="in"/></filter><filter id="gd2" x="-15%" y="-15%" width="130%" height="130%" color-interpolation-filters="sRGB"><feGaussianBlur in="SourceGraphic" stdDeviation="1.5" result="b"/><feTurbulence type="fractalNoise" baseFrequency="0.38" numOctaves="3" seed="23" result="t1"/><feTurbulence type="fractalNoise" baseFrequency="0.07" numOctaves="2" seed="33" result="t2"/><feComposite in="t1" in2="t2" operator="arithmetic" k1="0" k2="0.55" k3="0.45" k4="0" result="t"/><feColorMatrix in="t" type="matrix" values="0 0 0 0 0 0 0 0 0 0 0 0 0 0 0 0 0 0 11 -4.730" result="a"/><feComposite in="b" in2="a" operator="in"/></filter><filter id="gd3" x="-15%" y="-15%" width="130%" height="130%" color-interpolation-filters="sRGB"><feGaussianBlur in="SourceGraphic" stdDeviation="1.5" result="b"/><feTurbulence type="fractalNoise" baseFrequency="0.38" numOctaves="3" seed="24" result="t1"/><feTurbulence type="fractalNoise" baseFrequency="0.07" numOctaves="2" seed="34" result="t2"/><feComposite in="t1" in2="t2" operator="arithmetic" k1="0" k2="0.55" k3="0.45" k4="0" result="t"/><feColorMatrix in="t" type="matrix" values="0 0 0 0 0 0 0 0 0 0 0 0 0 0 0 0 0 0 11 -4.730" result="a"/><feComposite in="b" in2="a" operator="in"/></filter><filter id="gd4" x="-15%" y="-15%" width="130%" height="130%" color-interpolation-filters="sRGB"><feGaussianBlur in="SourceGraphic" stdDeviation="1.5" result="b"/><feTurbulence type="fractalNoise" baseFrequency="0.38" numOctaves="3" seed="25" result="t1"/><feTurbulence type="fractalNoise" baseFrequency="0.07" numOctaves="2" seed="35" result="t2"/><feComposite in="t1" in2="t2" operator="arithmetic" k1="0" k2="0.55" k3="0.45" k4="0" result="t"/><feColorMatrix in="t" type="matrix" values="0 0 0 0 0 0 0 0 0 0 0 0 0 0 0 0 0 0 11 -4.730" result="a"/><feComposite in="b" in2="a" operator="in"/></filter><filter id="gm0" x="-15%" y="-15%" width="130%" height="130%" color-interpolation-filters="sRGB"><feGaussianBlur in="SourceGraphic" stdDeviation="1.5" result="b"/><feTurbulence type="fractalNoise" baseFrequency="0.38" numOctaves="3" seed="21" result="t1"/><feTurbulence type="fractalNoise" baseFrequency="0.07" numOctaves="2" seed="31" result="t2"/><feComposite in="t1" in2="t2" operator="arithmetic" k1="0" k2="0.55" k3="0.45" k4="0" result="t"/><feColorMatrix in="t" type="matrix" values="0 0 0 0 0 0 0 0 0 0 0 0 0 0 0 0 0 0 11 -5.500" result="a"/><feComposite in="b" in2="a" operator="in"/></filter><filter id="gm1" x="-15%" y="-15%" width="130%" height="130%" color-interpolation-filters="sRGB"><feGaussianBlur in="SourceGraphic" stdDeviation="1.5" result="b"/><feTurbulence type="fractalNoise" baseFrequency="0.38" numOctaves="3" seed="22" result="t1"/><feTurbulence type="fractalNoise" baseFrequency="0.07" numOctaves="2" seed="32" result="t2"/><feComposite in="t1" in2="t2" operator="arithmetic" k1="0" k2="0.55" k3="0.45" k4="0" result="t"/><feColorMatrix in="t" type="matrix" values="0 0 0 0 0 0 0 0 0 0 0 0 0 0 0 0 0 0 11 -5.500" result="a"/><feComposite in="b" in2="a" operator="in"/></filter><filter id="gm2" x="-15%" y="-15%" width="130%" height="130%" color-interpolation-filters="sRGB"><feGaussianBlur in="SourceGraphic" stdDeviation="1.5" result="b"/><feTurbulence type="fractalNoise" baseFrequency="0.38" numOctaves="3" seed="23" result="t1"/><feTurbulence type="fractalNoise" baseFrequency="0.07" numOctaves="2" seed="33" result="t2"/><feComposite in="t1" in2="t2" operator="arithmetic" k1="0" k2="0.55" k3="0.45" k4="0" result="t"/><feColorMatrix in="t" type="matrix" values="0 0 0 0 0 0 0 0 0 0 0 0 0 0 0 0 0 0 11 -5.500" result="a"/><feComposite in="b" in2="a" operator="in"/></filter><filter id="gm3" x="-15%" y="-15%" width="130%" height="130%" color-interpolation-filters="sRGB"><feGaussianBlur in="SourceGraphic" stdDeviation="1.5" result="b"/><feTurbulence type="fractalNoise" baseFrequency="0.38" numOctaves="3" seed="24" result="t1"/><feTurbulence type="fractalNoise" baseFrequency="0.07" numOctaves="2" seed="34" result="t2"/><feComposite in="t1" in2="t2" operator="arithmetic" k1="0" k2="0.55" k3="0.45" k4="0" result="t"/><feColorMatrix in="t" type="matrix" values="0 0 0 0 0 0 0 0 0 0 0 0 0 0 0 0 0 0 11 -5.500" result="a"/><feComposite in="b" in2="a" operator="in"/></filter><filter id="gm4" x="-15%" y="-15%" width="130%" height="130%" color-interpolation-filters="sRGB"><feGaussianBlur in="SourceGraphic" stdDeviation="1.5" result="b"/><feTurbulence type="fractalNoise" baseFrequency="0.38" numOctaves="3" seed="25" result="t1"/><feTurbulence type="fractalNoise" baseFrequency="0.07" numOctaves="2" seed="35" result="t2"/><feComposite in="t1" in2="t2" operator="arithmetic" k1="0" k2="0.55" k3="0.45" k4="0" result="t"/><feColorMatrix in="t" type="matrix" values="0 0 0 0 0 0 0 0 0 0 0 0 0 0 0 0 0 0 11 -5.500" result="a"/><feComposite in="b" in2="a" operator="in"/></filter><filter id="gs0" x="-15%" y="-15%" width="130%" height="130%" color-interpolation-filters="sRGB"><feGaussianBlur in="SourceGraphic" stdDeviation="1.5" result="b"/><feTurbulence type="fractalNoise" baseFrequency="0.38" numOctaves="3" seed="21" result="t1"/><feTurbulence type="fractalNoise" baseFrequency="0.07" numOctaves="2" seed="31" result="t2"/><feComposite in="t1" in2="t2" operator="arithmetic" k1="0" k2="0.55" k3="0.45" k4="0" result="t"/><feColorMatrix in="t" type="matrix" values="0 0 0 0 0 0 0 0 0 0 0 0 0 0 0 0 0 0 11 -6.215" result="a"/><feComposite in="b" in2="a" operator="in"/></filter><filter id="gs1" x="-15%" y="-15%" width="130%" height="130%" color-interpolation-filters="sRGB"><feGaussianBlur in="SourceGraphic" stdDeviation="1.5" result="b"/><feTurbulence type="fractalNoise" baseFrequency="0.38" numOctaves="3" seed="22" result="t1"/><feTurbulence type="fractalNoise" baseFrequency="0.07" numOctaves="2" seed="32" result="t2"/><feComposite in="t1" in2="t2" operator="arithmetic" k1="0" k2="0.55" k3="0.45" k4="0" result="t"/><feColorMatrix in="t" type="matrix" values="0 0 0 0 0 0 0 0 0 0 0 0 0 0 0 0 0 0 11 -6.215" result="a"/><feComposite in="b" in2="a" operator="in"/></filter><filter id="gs2" x="-15%" y="-15%" width="130%" height="130%" color-interpolation-filters="sRGB"><feGaussianBlur in="SourceGraphic" stdDeviation="1.5" result="b"/><feTurbulence type="fractalNoise" baseFrequency="0.38" numOctaves="3" seed="23" result="t1"/><feTurbulence type="fractalNoise" baseFrequency="0.07" numOctaves="2" seed="33" result="t2"/><feComposite in="t1" in2="t2" operator="arithmetic" k1="0" k2="0.55" k3="0.45" k4="0" result="t"/><feColorMatrix in="t" type="matrix" values="0 0 0 0 0 0 0 0 0 0 0 0 0 0 0 0 0 0 11 -6.215" result="a"/><feComposite in="b" in2="a" operator="in"/></filter><filter id="gs3" x="-15%" y="-15%" width="130%" height="130%" color-interpolation-filters="sRGB"><feGaussianBlur in="SourceGraphic" stdDeviation="1.5" result="b"/><feTurbulence type="fractalNoise" baseFrequency="0.38" numOctaves="3" seed="24" result="t1"/><feTurbulence type="fractalNoise" baseFrequency="0.07" numOctaves="2" seed="34" result="t2"/><feComposite in="t1" in2="t2" operator="arithmetic" k1="0" k2="0.55" k3="0.45" k4="0" result="t"/><feColorMatrix in="t" type="matrix" values="0 0 0 0 0 0 0 0 0 0 0 0 0 0 0 0 0 0 11 -6.215" result="a"/><feComposite in="b" in2="a" operator="in"/></filter><filter id="gs4" x="-15%" y="-15%" width="130%" height="130%" color-interpolation-filters="sRGB"><feGaussianBlur in="SourceGraphic" stdDeviation="1.5" result="b"/><feTurbulence type="fractalNoise" baseFrequency="0.38" numOctaves="3" seed="25" result="t1"/><feTurbulence type="fractalNoise" baseFrequency="0.07" numOctaves="2" seed="35" result="t2"/><feComposite in="t1" in2="t2" operator="arithmetic" k1="0" k2="0.55" k3="0.45" k4="0" result="t"/><feColorMatrix in="t" type="matrix" values="0 0 0 0 0 0 0 0 0 0 0 0 0 0 0 0 0 0 11 -6.215" result="a"/><feComposite in="b" in2="a" operator="in"/></filter><filter id="ff" x="-15%" y="-15%" width="130%" height="130%"><feGaussianBlur stdDeviation="1.2"/></filter><filter id="soft" x="-5%" y="-5%" width="110%" height="110%"><feGaussianBlur stdDeviation="0.7"/></filter>
<linearGradient id="cbA" x1="0" y1="0" x2="0" y2="1"><stop offset="0" stop-color="#fbe3d8"/><stop offset="0.5" stop-color="#f4a891"/><stop offset="1" stop-color="#ea6a55"/></linearGradient>
<linearGradient id="cbB" x1="0" y1="0" x2="0" y2="1"><stop offset="0" stop-color="#e4f0f9"/><stop offset="0.4" stop-color="#7db9d6"/><stop offset="1" stop-color="#2a7fa8"/></linearGradient>
</defs>
<rect width="2000" height="1143" fill="#48714d"/>

<clipPath id="cp_a"><rect x="1056.2" y="79.2" width="451.5999999999999" height="254.5"/></clipPath>
<rect x="1056.2" y="79.2" width="451.5999999999999" height="254.5" fill="#aedcf2" stroke="#dbe9f3" stroke-width="0.9"/>
<g clip-path="url(#cp_a)"><g transform="matrix(0.508 0 0 0.525 508.2 -248.4)" filter="url(#soft)"><use href="#landW" fill="#fff" filter="url(#rough)"/><g mask="url(#maskW)"><path d="M1113.0,754.4 1134.0,729.2 1155.0,712.4 1171.8,704.0 1197.0,710.3 1218.0,725.0 1239.0,733.4 1272.6,737.6 1272.6,746.0 1251.6,754.4 1239.0,764.9 1218.0,782.1 1205.8,790.5 1197.0,792.6 1180.2,794.7 1159.2,801.0 1150.8,804.8 1134.0,792.2 1113.0,783.8Z" fill="#7da3bf" filter="url(#fm0)"/><path d="M1113.0,754.4 1134.0,729.2 1155.0,712.4 1171.8,704.0 1197.0,710.3 1218.0,725.0 1239.0,733.4 1272.6,737.6 1272.6,746.0 1251.6,754.4 1239.0,764.9 1218.0,782.1 1205.8,790.5 1197.0,792.6 1180.2,794.7 1159.2,801.0 1150.8,804.8 1134.0,792.2 1113.0,783.8Z" fill="#aabfc4" filter="url(#fs1)"/><path d="M1140.3,737.6 1155.0,712.4 1171.8,704.0 1197.0,710.3 1218.0,725.0 1239.0,737.6 1251.6,746.0 1239.0,758.6 1222.2,771.2 1205.4,783.8 1184.4,792.2 1159.2,798.5 1150.8,804.8 1146.6,792.2 1134.0,767.0 1138.2,746.0Z" fill="#7da3bf" filter="url(#fs2)"/><path d="M1167.6,725.0 1180.2,716.6 1197.0,714.5 1209.6,720.8 1211.7,733.4 1203.3,746.0 1197.0,758.6 1186.5,767.0 1171.8,775.4 1159.2,783.8 1150.8,788.0 1152.9,775.4 1163.4,762.8 1169.7,750.2 1167.6,737.6Z" fill="#5a8cb3" filter="url(#fd3)"/><path d="M1167.6,725.0 1180.2,716.6 1197.0,714.5 1209.6,720.8 1211.7,733.4 1203.3,746.0 1197.0,758.6 1186.5,767.0 1171.8,775.4 1159.2,783.8 1150.8,788.0 1152.9,775.4 1163.4,762.8 1169.7,750.2 1167.6,737.6Z" fill="#7da3bf" filter="url(#fm4)"/><path d="M1110.9,775.4 1113.0,764.9 1119.3,754.4 1127.7,746.0 1134.0,754.4 1127.7,771.2 1123.5,788.0 1113.0,783.8Z" fill="#f7c49a" filter="url(#fm0)"/><path d="M1110.9,775.4 1113.0,764.9 1119.3,754.4 1127.7,746.0 1134.0,754.4 1127.7,771.2 1123.5,788.0 1113.0,783.8Z" fill="#f09a70" filter="url(#fs1)"/><path d="M1184.4,783.8 1205.4,767.0 1230.6,754.4 1251.6,746.0 1260.0,748.5 1239.0,764.9 1218.0,782.1 1205.8,790.5 1205.8,807.3 1200.3,807.3 1197.0,792.6 1188.6,790.5Z" fill="#f7c49a" filter="url(#fm2)"/><path d="M1184.4,783.8 1205.4,767.0 1230.6,754.4 1251.6,746.0 1260.0,748.5 1239.0,764.9 1218.0,782.1 1205.8,790.5 1205.8,807.3 1200.3,807.3 1197.0,792.6 1188.6,790.5Z" fill="#f09a70" filter="url(#fs3)"/><path d="M1230.6,737.6 1251.6,733.4 1272.6,737.6 1272.6,746.0 1251.6,754.4 1234.8,750.2Z" fill="#aabfc4" filter="url(#fs4)"/><path d="M1121.4,788.0 1140.3,785.9 1155.0,804.8 1152.9,830.0 1159.2,836.3 1176.0,821.6 1179.1,830.0 1173.9,840.5 1185.4,851.0 1184.4,860.0 1167.6,853.1 1150.8,842.6 1134.0,839.4 1125.6,821.6 1122.4,804.8Z" fill="#f7c49a" filter="url(#fm0)"/><path d="M1121.4,788.0 1140.3,785.9 1155.0,804.8 1152.9,830.0 1159.2,836.3 1176.0,821.6 1179.1,830.0 1173.9,840.5 1185.4,851.0 1184.4,860.0 1167.6,853.1 1150.8,842.6 1134.0,839.4 1125.6,821.6 1122.4,804.8Z" fill="#e25a42" filter="url(#fm1)"/><path d="M1150.0,837.6 1183.1,847.1 1183.1,860.1 1197.2,871.9 1193.7,874.2 1178.3,867.2 1164.2,854.2 1150.0,842.4Z" fill="#e25a42" filter="url(#fd2)"/><path d="M1150.0,837.6 1183.1,847.1 1183.1,860.1 1197.2,871.9 1193.7,874.2 1178.3,867.2 1164.2,854.2 1150.0,842.4Z" fill="#d93a2c" filter="url(#fm3)"/><path d="M1187.5,818.4 1194.9,815.7 1203.3,818.4 1211.7,824.7 1212.7,827.9 1205.4,825.3 1197.0,820.5 1189.6,820.5ZM1213.8,832.1 1220.1,828.9 1228.5,830.0 1230.6,833.1 1222.2,834.6 1214.8,834.6ZM1202.2,833.1 1206.4,832.5 1206.4,835.2 1202.6,835.6ZM1234.8,833.1 1237.9,833.1 1237.9,835.2 1234.8,835.2Z" fill="#e25a42" filter="url(#ff)"/><path d="M1196.1,870.7 1216.1,855.4 1246.8,862.4 1251.6,873.1 1230.3,880.1 1213.8,887.2 1200.8,903.8 1190.1,920.3 1185.4,915.6 1186.6,901.4 1192.5,892.0 1197.2,882.5Z" fill="#f09a70" filter="url(#fm0)"/><path d="M1196.1,870.7 1216.1,855.4 1246.8,862.4 1251.6,873.1 1230.3,880.1 1213.8,887.2 1200.8,903.8 1190.1,920.3 1185.4,915.6 1186.6,901.4 1192.5,892.0 1197.2,882.5Z" fill="#e25a42" filter="url(#fm1)"/><path d="M1185.4,910.9 1197.2,917.9 1211.4,939.2 1227.9,958.1 1235.0,981.7 1230.3,991.1 1220.9,967.5 1206.7,948.6 1192.5,929.7Z" fill="#f09a70" filter="url(#fs2)"/><path d="M1204.3,887.2 1249.2,877.8 1277.5,894.3 1277.5,910.9 1244.5,910.9 1220.9,929.7 1202.0,920.3Z" fill="#e25a42" filter="url(#fs3)"/><path d="M1249.2,906.1 1282.3,901.4 1301.1,908.5 1323.6,921.5 1324.8,929.7 1315.3,951.0 1313.0,974.6 1305.9,984.1 1296.4,991.1 1291.7,1010.0 1282.3,1005.3 1268.1,981.7 1258.6,962.8 1253.9,939.2 1244.5,920.3Z" fill="#f7c49a" filter="url(#fm4)"/><path d="M1249.2,906.1 1282.3,901.4 1301.1,908.5 1323.6,921.5 1324.8,929.7 1315.3,951.0 1313.0,974.6 1305.9,984.1 1296.4,991.1 1291.7,1010.0 1282.3,1005.3 1268.1,981.7 1258.6,962.8 1253.9,939.2 1244.5,920.3Z" fill="#f09a70" filter="url(#fm0)"/><path d="M1249.2,906.1 1282.3,901.4 1301.1,908.5 1323.6,921.5 1324.8,929.7 1315.3,951.0 1313.0,974.6 1305.9,984.1 1296.4,991.1 1291.7,1010.0 1282.3,1005.3 1268.1,981.7 1258.6,962.8 1253.9,939.2 1244.5,920.3Z" fill="#f7e3b7" filter="url(#fm1)"/><path d="M1244.5,910.9 1263.4,906.1 1282.3,901.4 1301.1,908.5 1305.9,920.3 1291.7,925.0 1272.8,922.7 1253.9,925.0 1244.5,920.3Z" fill="#e25a42" filter="url(#fs2)"/><path d="M1301.1,908.5 1323.6,921.5 1324.8,929.7 1315.3,951.0 1301.1,943.9 1296.4,925.0Z" fill="#f7c49a" filter="url(#fm3)"/><path d="M1301.1,908.5 1323.6,921.5 1324.8,929.7 1315.3,951.0 1301.1,943.9 1296.4,925.0Z" fill="#f7e3b7" filter="url(#fm4)"/><path d="M1263.4,929.7 1301.1,943.9 1315.3,951.0 1313.0,974.6 1296.4,991.1 1282.3,981.7 1268.1,962.8 1261.0,943.9Z" fill="#f7c49a" filter="url(#fd0)"/><path d="M1263.4,929.7 1301.1,943.9 1315.3,951.0 1313.0,974.6 1296.4,991.1 1282.3,981.7 1268.1,962.8 1261.0,943.9Z" fill="#f09a70" filter="url(#fm1)"/><path d="M1268.1,972.3 1296.4,972.3 1305.9,984.1 1294.1,1000.6 1291.7,1010.0 1282.3,1005.3 1272.8,991.1Z" fill="#f09a70" filter="url(#fd2)"/><path d="M1268.1,972.3 1296.4,972.3 1305.9,984.1 1294.1,1000.6 1291.7,1010.0 1282.3,1005.3 1272.8,991.1Z" fill="#e25a42" filter="url(#fm3)"/><path d="M1220.9,929.7 1249.2,925.0 1263.4,939.2 1268.1,962.8 1261.0,981.7 1244.5,986.4 1232.7,967.5 1223.2,951.0Z" fill="#f09a70" filter="url(#fm4)"/><path d="M1251.6,991.1 1272.8,993.5 1287.0,1010.0 1287.0,1026.6 1281.1,1036.0 1268.1,1038.4 1256.3,1026.6 1249.2,1010.0Z" fill="#f7c49a" filter="url(#fd0)"/><path d="M1251.6,991.1 1272.8,993.5 1287.0,1010.0 1287.0,1026.6 1281.1,1036.0 1268.1,1038.4 1256.3,1026.6 1249.2,1010.0Z" fill="#f09a70" filter="url(#fm1)"/><path d="M1237.4,1019.5 1253.9,1028.9 1268.1,1045.5 1270.4,1062.0 1261.0,1076.2 1249.2,1052.6 1239.7,1033.7Z" fill="#f7c49a" filter="url(#fs2)"/><path d="M1467.6,704.0 1484.4,695.6 1509.6,691.4 1539.0,693.5 1570.5,697.7 1601.9,699.8 1633.4,704.0 1649.8,706.1 1671.0,704.0 1692.0,706.1 1713.0,712.4 1719.3,720.8 1713.0,729.2 1710.9,746.0 1692.0,750.2 1671.0,746.0 1650.0,750.2 1622.9,754.4 1591.5,767.0 1570.5,762.8 1560.0,746.0 1547.4,737.6 1539.0,746.0 1530.6,746.0 1501.2,741.8 1497.0,752.7 1484.4,746.0 1476.0,737.6Z" fill="#7da3bf" filter="url(#fm3)"/><path d="M1467.6,704.0 1484.4,695.6 1509.6,691.4 1539.0,693.5 1570.5,697.7 1601.9,699.8 1633.4,704.0 1649.8,706.1 1671.0,704.0 1692.0,706.1 1713.0,712.4 1719.3,720.8 1713.0,729.2 1710.9,746.0 1692.0,750.2 1671.0,746.0 1650.0,750.2 1622.9,754.4 1591.5,767.0 1570.5,762.8 1560.0,746.0 1547.4,737.6 1539.0,746.0 1530.6,746.0 1501.2,741.8 1497.0,752.7 1484.4,746.0 1476.0,737.6Z" fill="#5a8cb3" filter="url(#fs4)"/><path d="M1467.6,704.0 1484.4,695.6 1509.6,691.4 1539.0,693.5 1570.5,697.7 1601.9,699.8 1633.4,704.0 1649.8,706.1 1671.0,704.0 1692.0,706.1 1713.0,712.4 1719.3,720.8 1713.0,729.2 1710.9,746.0 1692.0,750.2 1671.0,746.0 1650.0,750.2 1622.9,754.4 1591.5,767.0 1570.5,762.8 1560.0,746.0 1547.4,737.6 1539.0,746.0 1530.6,746.0 1501.2,741.8 1497.0,752.7 1484.4,746.0 1476.0,737.6Z" fill="#aabfc4" filter="url(#fs0)"/><path d="M1405.6,760.7 1405.6,752.3 1407.1,748.1 1413.0,746.0 1423.5,745.6 1432.9,743.9 1436.1,754.4 1430.2,763.2 1421.8,769.5 1411.3,767.4Z" fill="#f7c49a" filter="url(#fm1)"/><path d="M1405.6,760.7 1405.6,752.3 1407.1,748.1 1413.0,746.0 1423.5,745.6 1432.9,743.9 1436.1,754.4 1430.2,763.2 1421.8,769.5 1411.3,767.4Z" fill="#f7e3b7" filter="url(#fm2)"/><path d="M1422.4,730.2 1434.0,721.2 1448.7,712.4 1463.4,706.1 1470.7,697.7 1476.0,704.0 1484.4,708.2 1480.2,720.8 1476.0,733.4 1467.6,744.3 1455.0,748.5 1448.7,744.3 1438.2,746.4 1432.9,743.9 1428.1,737.6Z" fill="#7da3bf" filter="url(#fd3)"/><path d="M1422.4,730.2 1434.0,721.2 1448.7,712.4 1463.4,706.1 1470.7,697.7 1476.0,704.0 1484.4,708.2 1480.2,720.8 1476.0,733.4 1467.6,744.3 1455.0,748.5 1448.7,744.3 1438.2,746.4 1432.9,743.9 1428.1,737.6Z" fill="#5a8cb3" filter="url(#fm4)"/><path d="M1419.3,702.3 1428.1,704.4 1430.2,712.8 1432.3,721.2 1421.8,723.3 1419.7,717.0 1422.9,710.7ZM1409.2,714.9 1415.5,712.8 1416.6,719.1 1410.3,720.1Z" fill="#7da3bf" filter="url(#fm0)"/><path d="M1452.9,744.3 1467.6,743.9 1484.4,746.0 1497.0,752.7 1494.9,764.9 1484.4,758.6 1476.0,762.8 1463.4,752.3Z" fill="#f7c49a" filter="url(#fm1)"/><path d="M1452.9,744.3 1467.6,743.9 1484.4,746.0 1497.0,752.7 1494.9,764.9 1484.4,758.6 1476.0,762.8 1463.4,752.3Z" fill="#f7e3b7" filter="url(#fm2)"/><path d="M1476.0,704.0 1497.0,699.8 1505.4,708.2 1505.4,725.0 1501.2,741.8 1497.0,752.7 1484.4,746.0 1476.0,737.6 1478.1,720.8Z" fill="#7da3bf" filter="url(#fd3)"/><path d="M1476.0,704.0 1497.0,699.8 1505.4,708.2 1505.4,725.0 1501.2,741.8 1497.0,752.7 1484.4,746.0 1476.0,737.6 1478.1,720.8Z" fill="#5a8cb3" filter="url(#fm4)"/><path d="M1484.4,699.8 1509.6,695.6 1539.0,699.8 1560.0,704.0 1591.5,704.0 1618.7,708.2 1620.8,716.6 1597.8,712.4 1560.0,712.4 1534.8,716.6 1509.6,720.8 1501.2,710.3Z" fill="#7da3bf" filter="url(#fm0)"/><path d="M1501.2,733.4 1513.8,725.0 1530.6,718.7 1551.6,712.4 1568.4,710.3 1591.5,712.4 1612.4,718.7 1616.6,729.2 1601.9,731.3 1585.2,722.9 1564.2,720.8 1547.4,725.0 1539.0,733.4 1543.2,743.9 1530.6,746.0 1522.2,737.6 1513.8,741.8 1501.2,741.8Z" fill="#5a8cb3" filter="url(#fd1)"/><path d="M1501.2,733.4 1513.8,725.0 1530.6,718.7 1551.6,712.4 1568.4,710.3 1591.5,712.4 1612.4,718.7 1616.6,729.2 1601.9,731.3 1585.2,722.9 1564.2,720.8 1547.4,725.0 1539.0,733.4 1543.2,743.9 1530.6,746.0 1522.2,737.6 1513.8,741.8 1501.2,741.8Z" fill="#4a82ad" filter="url(#fd2)"/><path d="M1560.0,725.0 1601.9,729.2 1627.1,737.6 1643.9,750.2 1622.9,767.0 1591.5,771.2 1570.5,762.8 1564.2,746.0Z" fill="#7da3bf" filter="url(#fs3)"/><path d="M1612.2,718.7 1650.0,720.8 1681.5,725.0 1713.0,729.2 1713.0,738.6 1681.5,736.5 1650.0,732.3 1612.2,729.2Z" fill="#5a8cb3" filter="url(#fd4)"/><path d="M1612.2,718.7 1650.0,720.8 1681.5,725.0 1713.0,729.2 1713.0,738.6 1681.5,736.5 1650.0,732.3 1612.2,729.2Z" fill="#7da3bf" filter="url(#fm0)"/><path d="M1501.6,754.8 1514.2,756.9 1531.0,754.8 1539.0,756.5 1534.8,764.9 1524.7,767.4 1516.3,765.3 1505.8,765.3Z" fill="#f7e3b7" filter="url(#fm1)"/><path d="M1501.6,754.8 1514.2,756.9 1531.0,754.8 1539.0,756.5 1534.8,764.9 1524.7,767.4 1516.3,765.3 1505.8,765.3Z" fill="#f7c49a" filter="url(#fm2)"/><path d="M1530.6,743.9 1539.0,746.0 1551.6,756.5 1549.5,760.7 1539.0,756.5 1530.6,750.2Z" fill="#e25a42" filter="url(#fs3)"/><path d="M1534.8,764.9 1547.4,762.8 1560.0,775.4 1572.6,790.1 1568.4,794.3 1555.8,783.8 1539.0,775.4 1526.4,771.2 1524.7,779.6 1522.2,767.0Z" fill="#f7c49a" filter="url(#fm4)"/><path d="M1524.7,767.4 1539.0,764.9 1560.0,775.4 1572.6,790.1 1565.2,785.9 1562.1,788.0 1572.6,803.1 1560.0,809.0 1539.0,800.6 1528.5,788.0Z" fill="#f7e3b7" filter="url(#fs0)"/><path d="M1601.9,746.0 1620.8,748.1 1620.8,767.0 1610.3,771.2 1601.9,762.8Z" fill="#f7c49a" filter="url(#fs1)"/><path d="M1642.3,794.3 1641.6,798.9 1639.8,803.2 1636.9,806.5 1633.3,808.6 1629.2,809.4 1625.2,808.6 1621.6,806.5 1618.7,803.2 1616.9,798.9 1616.2,794.3 1616.9,789.6 1618.7,785.4 1621.6,782.0 1625.2,779.9 1629.2,779.1 1633.3,779.9 1636.9,782.0 1639.8,785.4 1641.6,789.6Z" fill="#f7c49a" filter="url(#fm2)"/><path d="M1620.8,809.0 1639.7,804.8 1648.1,815.3 1639.7,825.8 1631.3,822.6Z" fill="#f7e3b7" filter="url(#fm3)"/><path d="M1615.6,776.4 1622.9,775.4 1633.4,785.9 1643.9,794.3 1658.6,800.6 1673.3,805.8 1690.1,806.9 1700.0,803.7 1702.5,803.7 1710.9,798.5 1713.0,806.9 1706.7,815.3 1693.7,820.5 1688.5,820.0 1683.8,829.4 1674.4,843.6 1667.3,857.8 1661.8,870.1 1655.5,860.6 1648.4,846.5 1641.3,832.3 1638.9,820.0 1638.9,819.9 1643.9,815.3 1641.8,804.8 1631.3,788.0 1620.8,783.8Z" fill="#f7c49a" filter="url(#fd4)"/><path d="M1615.6,776.4 1622.9,775.4 1633.4,785.9 1643.9,794.3 1658.6,800.6 1673.3,805.8 1690.1,806.9 1700.0,803.7 1702.5,803.7 1710.9,798.5 1713.0,806.9 1706.7,815.3 1693.7,820.5 1688.5,820.0 1683.8,829.4 1674.4,843.6 1667.3,857.8 1661.8,870.1 1655.5,860.6 1648.4,846.5 1641.3,832.3 1638.9,820.0 1638.9,819.9 1643.9,815.3 1641.8,804.8 1631.3,788.0 1620.8,783.8Z" fill="#f7e3b7" filter="url(#fm0)"/><path d="M1615.6,776.4 1622.9,775.4 1633.4,785.9 1643.9,794.3 1658.6,800.6 1673.3,805.8 1690.1,806.9 1700.0,803.7 1702.5,803.7 1710.9,798.5 1713.0,806.9 1706.7,815.3 1693.7,820.5 1688.5,820.0 1683.8,829.4 1674.4,843.6 1667.3,857.8 1661.8,870.1 1655.5,860.6 1648.4,846.5 1641.3,832.3 1638.9,820.0 1638.9,819.9 1643.9,815.3 1641.8,804.8 1631.3,788.0 1620.8,783.8Z" fill="#f09a70" filter="url(#fs1)"/><path d="M1622.9,779.6 1643.9,794.3 1658.6,800.6 1673.3,805.8 1690.1,806.9 1706.9,802.7 1706.9,813.2 1685.9,815.3 1664.9,813.2 1648.1,806.9 1631.3,794.3Z" fill="#e25a42" filter="url(#fs2)"/><path d="M1402.5,786.3 1409.2,777.9 1419.7,771.6 1434.4,768.2 1449.1,767.0 1459.6,771.6 1467.6,781.7 1459.2,779.6 1448.7,773.3 1434.0,774.3 1419.3,777.5 1408.8,785.9Z" fill="#f7c49a" filter="url(#fm3)"/><path d="M1379.4,847.8 1413.0,847.8 1455.0,851.0 1497.0,853.1 1528.5,849.9 1555.8,853.1 1555.8,858.3 1528.5,855.2 1497.0,858.3 1455.0,856.2 1413.0,853.1 1379.4,853.1Z" fill="#f7e3b7" filter="url(#fm4)"/><path d="M1379.4,847.8 1413.0,847.8 1455.0,851.0 1497.0,853.1 1528.5,849.9 1555.8,853.1 1555.8,858.3 1528.5,855.2 1497.0,858.3 1455.0,856.2 1413.0,853.1 1379.4,853.1Z" fill="#f7c49a" filter="url(#fs0)"/><path d="M1379.4,843.0 1413.0,843.0 1455.0,846.3 1497.0,848.4 1528.5,845.1 1555.8,849.3 1555.8,853.5 1528.5,850.5 1497.0,853.5 1455.0,851.4 1413.0,848.4 1379.4,848.4Z" fill="#5a8cb3" filter="url(#fd1)"/><path d="M1379.4,843.0 1413.0,843.0 1455.0,846.3 1497.0,848.4 1528.5,845.1 1555.8,849.3 1555.8,853.5 1528.5,850.5 1497.0,853.5 1455.0,851.4 1413.0,848.4 1379.4,848.4Z" fill="#7da3bf" filter="url(#fd2)"/><path d="M1380.3,844.7 1409.8,849.4 1457.0,854.2 1500.0,856.5 1518.4,857.7 1518.4,864.8 1500.0,864.8 1466.5,868.3 1461.7,887.2 1445.2,868.3 1400.3,866.0 1386.2,856.5Z" fill="#f09a70" filter="url(#fm3)"/><path d="M1382.6,854.2 1388.5,866.0 1395.6,877.8 1405.1,883.7 1416.9,882.5 1428.7,879.0 1440.5,875.4 1449.9,882.5 1461.7,889.6 1459.4,880.1 1445.2,868.3 1428.7,868.3 1414.5,870.7 1400.3,866.0 1390.9,854.2Z" fill="#d93a2c" filter="url(#fd4)"/><path d="M1382.6,854.2 1388.5,866.0 1395.6,877.8 1405.1,883.7 1416.9,882.5 1428.7,879.0 1440.5,875.4 1449.9,882.5 1461.7,889.6 1459.4,880.1 1445.2,868.3 1428.7,868.3 1414.5,870.7 1400.3,866.0 1390.9,854.2Z" fill="#e25a42" filter="url(#fm0)"/><path d="M1450.0,887.3 1485.4,888.5 1516.1,888.5 1520.9,914.5 1511.4,942.8 1478.3,947.5 1468.9,926.3 1461.8,914.5 1457.1,902.7Z" fill="#f7c49a" filter="url(#fs1)"/><path d="M1513.8,881.4 1535.0,867.2 1553.9,864.9 1551.6,890.9 1553.9,907.4 1547.3,924.1 1548.5,938.3 1539.7,952.3 1525.6,947.5 1516.1,928.6 1513.8,905.0Z" fill="#e25a42" filter="url(#fs2)"/><path d="M1513.8,881.4 1535.0,867.2 1553.9,864.9 1551.6,890.9 1553.9,907.4 1547.3,924.1 1548.5,938.3 1539.7,952.3 1525.6,947.5 1516.1,928.6 1513.8,905.0Z" fill="#f09a70" filter="url(#fm3)"/><path d="M1533.8,834.2 1544.5,838.9 1553.9,863.9 1549.2,879.0 1539.7,881.4 1532.7,867.2 1531.5,848.3Z" fill="#e25a42" filter="url(#fm4)"/><path d="M1533.8,834.2 1544.5,838.9 1553.9,863.9 1549.2,879.0 1539.7,881.4 1532.7,867.2 1531.5,848.3Z" fill="#f09a70" filter="url(#fm0)"/><path d="M1464.2,952.3 1497.2,942.8 1527.9,952.3 1530.3,973.5 1518.5,999.5 1493.0,1021.0 1481.2,1023.3 1473.6,999.5 1464.2,971.1Z" fill="#f7c49a" filter="url(#fm1)"/><path d="M1464.2,952.3 1497.2,942.8 1527.9,952.3 1530.3,973.5 1518.5,999.5 1493.0,1021.0 1481.2,1023.3 1473.6,999.5 1464.2,971.1Z" fill="#f7e3b7" filter="url(#fm2)"/><path d="M1520.9,942.8 1547.3,942.8 1547.3,952.5 1540.2,964.3 1530.8,973.7 1528.4,987.9 1519.0,999.7 1507.2,1013.9 1497.2,1008.9 1511.4,990.0 1520.9,971.1Z" fill="#f09a70" filter="url(#fm3)"/><path d="M1520.9,942.8 1547.3,942.8 1547.3,952.5 1540.2,964.3 1530.8,973.7 1528.4,987.9 1519.0,999.7 1507.2,1013.9 1497.2,1008.9 1511.4,990.0 1520.9,971.1Z" fill="#e25a42" filter="url(#fs4)"/><path d="M1572.8,947.8 1577.8,954.9 1573.0,969.0 1566.0,985.6 1561.0,990.0 1563.4,975.9 1568.1,959.3Z" fill="#e25a42" filter="url(#fd0)"/><path d="M1713.0,729.2 1721.4,720.8 1734.0,718.7 1744.5,725.0 1752.9,737.6 1755.0,750.2 1746.6,754.4 1740.3,762.8 1727.7,767.0 1717.2,758.6 1710.9,746.0Z" fill="#5a8cb3" filter="url(#fd1)"/><path d="M1717.2,758.6 1740.3,762.8 1748.7,767.0 1759.2,779.6 1763.4,788.0 1750.8,792.2 1734.0,788.0 1721.4,779.6 1715.1,767.0Z" fill="#5a8cb3" filter="url(#fd2)"/><path d="M1717.2,758.6 1740.3,762.8 1748.7,767.0 1759.2,779.6 1763.4,788.0 1750.8,792.2 1734.0,788.0 1721.4,779.6 1715.1,767.0Z" fill="#7da3bf" filter="url(#fm3)"/><path d="M1748.7,754.4 1755.0,756.9 1763.4,767.0 1759.6,771.6 1755.0,765.3Z" fill="#f7c49a" filter="url(#fm4)"/><path d="M1681.5,779.6 1702.5,767.0 1721.4,779.6 1734.0,788.0 1763.4,788.0 1765.9,794.7 1763.4,805.2 1755.0,813.6 1746.6,819.9 1738.2,824.1 1734.0,822.0 1719.3,821.6 1704.6,809.0 1687.8,800.6Z" fill="#f09a70" filter="url(#fm0)"/><path d="M1681.5,779.6 1702.5,767.0 1721.4,779.6 1734.0,788.0 1763.4,788.0 1765.9,794.7 1763.4,805.2 1755.0,813.6 1746.6,819.9 1738.2,824.1 1734.0,822.0 1719.3,821.6 1704.6,809.0 1687.8,800.6Z" fill="#e25a42" filter="url(#fm1)"/><path d="M1681.5,779.6 1704.6,783.8 1713.0,800.6 1719.3,821.6 1713.0,830.0 1700.4,821.6 1687.8,809.0 1679.4,796.4Z" fill="#e25a42" filter="url(#fm2)"/><path d="M1681.5,779.6 1704.6,783.8 1713.0,800.6 1719.3,821.6 1713.0,830.0 1700.4,821.6 1687.8,809.0 1679.4,796.4Z" fill="#f09a70" filter="url(#fm3)"/><path d="M1687.8,809.0 1700.4,821.6 1713.0,830.0 1734.0,822.0 1734.4,826.8 1740.3,838.8 1748.7,849.3 1747.0,857.7 1751.1,848.3 1752.8,855.4 1748.0,863.0 1738.6,855.9 1729.1,848.8 1726.8,855.9 1731.5,867.7 1738.6,881.9 1742.4,893.7 1738.6,892.0 1729.1,874.8 1724.4,860.6 1719.7,848.8 1710.3,841.7 1703.2,832.3 1693.7,820.5 1685.7,829.9Z" fill="#f09a70" filter="url(#fd4)"/><path d="M1687.8,809.0 1700.4,821.6 1713.0,830.0 1734.0,822.0 1734.4,826.8 1740.3,838.8 1748.7,849.3 1747.0,857.7 1751.1,848.3 1752.8,855.4 1748.0,863.0 1738.6,855.9 1729.1,848.8 1726.8,855.9 1731.5,867.7 1738.6,881.9 1742.4,893.7 1738.6,892.0 1729.1,874.8 1724.4,860.6 1719.7,848.8 1710.3,841.7 1703.2,832.3 1693.7,820.5 1685.7,829.9Z" fill="#e25a42" filter="url(#fm0)"/><path d="M1776.0,740.1 1786.9,743.9 1784.4,749.1 1777.0,746.0ZM1784.4,754.8 1795.3,763.2 1799.5,771.6 1793.2,775.8 1784.8,782.1 1778.5,782.1 1780.6,775.8 1789.0,769.5 1786.9,761.1Z" fill="#f7c49a" filter="url(#fm1)"/><path d="M1714.5,879.0 1721.6,881.4 1733.4,895.6 1745.2,909.7 1747.6,919.2 1740.5,919.2 1728.7,907.4 1719.2,893.2Z" fill="#d93a2c" filter="url(#fd2)"/><path d="M1747.2,923.9 1761.4,927.5 1775.6,929.8 1789.8,931.0 1803.9,929.8 1807.5,932.2 1799.2,936.9 1785.0,935.7 1770.9,933.4 1756.7,931.0 1746.1,927.5ZM1795.7,936.9 1805.1,931.0 1807.5,933.4 1798.0,939.3Z" fill="#e25a42" filter="url(#fd3)"/><path d="M1756.7,895.6 1765.0,890.9 1775.6,879.1 1782.7,876.7 1783.9,883.8 1782.7,895.6 1778.0,905.0 1770.9,913.3 1762.6,910.9 1757.9,903.9Z" fill="#e25a42" filter="url(#fd4)"/><path d="M1777.8,891.1 1778.8,893.5 1779.1,895.9 1778.8,898.3 1777.7,900.2 1776.2,901.6 1774.2,902.2 1772.0,902.1 1769.8,901.3 1767.9,899.8 1766.3,897.7 1765.3,895.3 1765.0,892.9 1765.3,890.6 1766.3,888.6 1767.9,887.2 1769.9,886.6 1772.1,886.7 1774.3,887.5 1776.2,889.1Z" fill="#ffffff" filter="url(#fm0)"/><path d="M1787.4,900.3 1794.5,896.8 1803.9,895.6 1799.2,901.5 1793.3,905.0 1795.7,916.9 1792.1,919.2 1789.8,912.1 1786.2,919.2 1785.5,907.4ZM1811.0,893.2 1814.6,892.0 1813.4,901.5 1810.6,900.3Z" fill="#e25a42" filter="url(#fm1)"/><path d="M1779.1,834.2 1783.9,833.0 1786.2,843.6 1790.9,850.7 1799.2,855.4 1803.9,864.9 1806.3,874.3 1800.4,877.9 1795.7,870.8 1792.1,862.5 1787.4,855.4 1781.5,846.0ZM1778.0,867.2 1783.9,860.2 1785.0,862.5 1779.1,869.6Z" fill="#d93a2c" filter="url(#fd2)"/><path d="M1822.8,902.7 1832.3,905.0 1841.7,909.8 1851.2,908.6 1860.6,913.3 1867.7,921.6 1872.4,931.0 1876.0,936.9 1870.1,935.7 1863.0,931.0 1853.5,933.4 1846.5,931.0 1841.7,921.6 1834.6,914.5 1827.6,909.8ZM1874.8,920.4 1886.6,914.5 1889.0,916.9 1879.5,922.8ZM1893.7,921.6 1900.8,927.5 1910.2,936.9 1907.9,938.1 1899.6,929.8 1892.5,923.5Z" fill="#f09a70" filter="url(#fm3)"/><path d="M1822.8,902.7 1832.3,905.0 1841.7,909.8 1851.2,908.6 1860.6,913.3 1867.7,921.6 1872.4,931.0 1876.0,936.9 1870.1,935.7 1863.0,931.0 1853.5,933.4 1846.5,931.0 1841.7,921.6 1834.6,914.5 1827.6,909.8ZM1874.8,920.4 1886.6,914.5 1889.0,916.9 1879.5,922.8ZM1893.7,921.6 1900.8,927.5 1910.2,936.9 1907.9,938.1 1899.6,929.8 1892.5,923.5Z" fill="#e25a42" filter="url(#fs4)"/><path d="M1667.3,867.2 1673.2,870.8 1672.0,877.9 1667.3,875.5Z" fill="#e25a42" filter="url(#ff)"/><path d="M1771.4,810.0 1774.3,811.5 1773.9,817.4 1771.8,816.3ZM1745.5,828.9 1749.7,827.9 1750.4,832.1 1746.2,833.1Z" fill="#f7c49a" filter="url(#fd1)"/><path d="M1904.7,975.7 1905.0,977.6 1904.4,979.1 1903.1,979.6 1901.7,978.8 1900.7,977.1 1900.4,975.1 1901.0,973.6 1902.2,973.2 1903.6,974.0ZM1949.3,963.8 1949.2,964.8 1948.3,965.8 1946.9,966.3 1945.6,966.1 1944.9,965.4 1945.0,964.3 1945.9,963.3 1947.2,962.8 1948.6,963.0Z" fill="#e25a42" filter="url(#ff)"/><path d="M1736.6,1023.1 1742.5,1013.7 1746.1,1001.9 1753.1,1006.6 1756.7,1018.4 1752.0,1020.8 1742.5,1024.3Z" fill="#f09a70" filter="url(#fm3)"/><path d="M1793.3,1032.6 1792.1,1023.1 1803.9,1020.8 1822.8,1016.1 1837.0,1006.6 1851.2,994.8 1859.4,985.4 1859.4,994.8 1851.2,1006.6 1841.7,1013.7 1832.3,1023.1 1822.8,1030.2 1811.0,1032.6 1799.2,1035.0Z" fill="#f7c49a" filter="url(#fm4)"/><path d="M1793.3,1032.6 1792.1,1023.1 1803.9,1020.8 1822.8,1016.1 1837.0,1006.6 1851.2,994.8 1859.4,985.4 1859.4,994.8 1851.2,1006.6 1841.7,1013.7 1832.3,1023.1 1822.8,1030.2 1811.0,1032.6 1799.2,1035.0Z" fill="#f09a70" filter="url(#fs0)"/><path d="M1826.4,1064.5 1834.6,1058.6 1851.2,1050.3 1865.4,1044.4 1874.8,1039.7 1884.3,1030.2 1889.0,1025.5 1890.2,1032.6 1886.6,1036.1 1879.5,1040.9 1870.1,1045.6 1853.5,1053.9 1839.4,1060.9 1828.7,1065.7Z" fill="#f7e3b7" filter="url(#fs1)"/></g><use href="#holesW" fill="#aedcf2" filter="url(#rough)"/></g></g>
<clipPath id="cp_b"><rect x="1510" y="79.2" width="466" height="254.5"/></clipPath>
<rect x="1510" y="79.2" width="466" height="254.5" fill="#aedcf2" stroke="#dbe9f3" stroke-width="0.9"/>
<g clip-path="url(#cp_b)"><g transform="matrix(0.5233 0 0 0.525 949.8 -247.6)" filter="url(#soft)"><use href="#landW" fill="#fff" filter="url(#rough)"/><g mask="url(#maskW)"><path d="M1113.0,754.4 1134.0,729.2 1155.0,712.4 1171.8,704.0 1197.0,710.3 1218.0,725.0 1239.0,733.4 1272.6,737.6 1272.6,746.0 1251.6,754.4 1239.0,764.9 1218.0,782.1 1205.8,790.5 1197.0,792.6 1180.2,794.7 1159.2,801.0 1150.8,804.8 1134.0,792.2 1113.0,783.8Z" fill="#aabfc4" filter="url(#fs0)"/><path d="M1113.0,754.4 1134.0,729.2 1155.0,712.4 1171.8,704.0 1197.0,710.3 1218.0,725.0 1239.0,733.4 1272.6,737.6 1272.6,746.0 1251.6,754.4 1239.0,764.9 1218.0,782.1 1205.8,790.5 1197.0,792.6 1180.2,794.7 1159.2,801.0 1150.8,804.8 1134.0,792.2 1113.0,783.8Z" fill="#7da3bf" filter="url(#fs1)"/><path d="M1140.3,737.6 1155.0,712.4 1171.8,704.0 1197.0,710.3 1218.0,725.0 1239.0,737.6 1251.6,746.0 1239.0,758.6 1222.2,771.2 1205.4,783.8 1184.4,792.2 1159.2,798.5 1150.8,804.8 1146.6,792.2 1134.0,767.0 1138.2,746.0Z" fill="#7da3bf" filter="url(#fs2)"/><path d="M1167.6,725.0 1180.2,716.6 1197.0,714.5 1209.6,720.8 1211.7,733.4 1203.3,746.0 1197.0,758.6 1186.5,767.0 1171.8,775.4 1159.2,783.8 1150.8,788.0 1152.9,775.4 1163.4,762.8 1169.7,750.2 1167.6,737.6Z" fill="#5a8cb3" filter="url(#fd3)"/><path d="M1167.6,725.0 1180.2,716.6 1197.0,714.5 1209.6,720.8 1211.7,733.4 1203.3,746.0 1197.0,758.6 1186.5,767.0 1171.8,775.4 1159.2,783.8 1150.8,788.0 1152.9,775.4 1163.4,762.8 1169.7,750.2 1167.6,737.6Z" fill="#7da3bf" filter="url(#fm4)"/><path d="M1113.0,754.4 1134.0,737.6 1148.7,746.0 1144.5,788.0 1129.8,792.2 1113.0,783.8Z" fill="#aabfc4" filter="url(#fs0)"/><path d="M1197.0,737.6 1218.0,725.0 1239.0,737.6 1272.6,737.6 1272.6,746.0 1251.6,754.4 1239.0,764.9 1218.0,782.1 1205.8,790.5 1197.0,792.6 1188.6,790.5 1180.2,794.7 1184.4,779.6 1192.8,762.8Z" fill="#f7e3b7" filter="url(#fd1)"/><path d="M1197.0,737.6 1218.0,725.0 1239.0,737.6 1272.6,737.6 1272.6,746.0 1251.6,754.4 1239.0,764.9 1218.0,782.1 1205.8,790.5 1197.0,792.6 1188.6,790.5 1180.2,794.7 1184.4,779.6 1192.8,762.8Z" fill="#f7c49a" filter="url(#fs2)"/><path d="M1121.4,788.0 1140.3,785.9 1155.0,804.8 1152.9,830.0 1159.2,836.3 1176.0,821.6 1179.1,830.0 1173.9,840.5 1185.4,851.0 1184.4,860.0 1167.6,853.1 1150.8,842.6 1134.0,839.4 1125.6,821.6 1122.4,804.8Z" fill="#f7c49a" filter="url(#fm3)"/><path d="M1121.4,788.0 1140.3,785.9 1155.0,804.8 1152.9,830.0 1159.2,836.3 1176.0,821.6 1179.1,830.0 1173.9,840.5 1185.4,851.0 1184.4,860.0 1167.6,853.1 1150.8,842.6 1134.0,839.4 1125.6,821.6 1122.4,804.8Z" fill="#e25a42" filter="url(#fm4)"/><path d="M1150.0,837.6 1183.1,847.1 1183.1,860.1 1197.2,871.9 1193.7,874.2 1178.3,867.2 1164.2,854.2 1150.0,842.4Z" fill="#e25a42" filter="url(#fd0)"/><path d="M1150.0,837.6 1183.1,847.1 1183.1,860.1 1197.2,871.9 1193.7,874.2 1178.3,867.2 1164.2,854.2 1150.0,842.4Z" fill="#d93a2c" filter="url(#fm1)"/><path d="M1187.5,818.4 1194.9,815.7 1203.3,818.4 1211.7,824.7 1212.7,827.9 1205.4,825.3 1197.0,820.5 1189.6,820.5ZM1213.8,832.1 1220.1,828.9 1228.5,830.0 1230.6,833.1 1222.2,834.6 1214.8,834.6ZM1202.2,833.1 1206.4,832.5 1206.4,835.2 1202.6,835.6ZM1234.8,833.1 1237.9,833.1 1237.9,835.2 1234.8,835.2Z" fill="#e25a42" filter="url(#ff)"/><path d="M1196.1,870.7 1216.1,855.4 1246.8,862.4 1251.6,873.1 1230.3,880.1 1213.8,887.2 1200.8,903.8 1190.1,920.3 1185.4,915.6 1186.6,901.4 1192.5,892.0 1197.2,882.5Z" fill="#f09a70" filter="url(#fm3)"/><path d="M1196.1,870.7 1216.1,855.4 1246.8,862.4 1251.6,873.1 1230.3,880.1 1213.8,887.2 1200.8,903.8 1190.1,920.3 1185.4,915.6 1186.6,901.4 1192.5,892.0 1197.2,882.5Z" fill="#e25a42" filter="url(#fm4)"/><path d="M1185.4,910.9 1197.2,917.9 1211.4,939.2 1227.9,958.1 1235.0,981.7 1230.3,991.1 1220.9,967.5 1206.7,948.6 1192.5,929.7Z" fill="#f09a70" filter="url(#fs0)"/><path d="M1204.3,887.2 1249.2,877.8 1277.5,894.3 1277.5,910.9 1244.5,910.9 1220.9,929.7 1202.0,920.3Z" fill="#e25a42" filter="url(#fs1)"/><path d="M1187.8,901.4 1202.0,896.7 1211.4,917.9 1227.9,939.2 1239.7,972.3 1230.3,981.7 1216.1,953.4 1197.2,934.5 1187.8,917.9Z" fill="#e25a42" filter="url(#fs2)"/><path d="M1227.9,939.2 1263.4,934.5 1282.3,953.4 1282.3,981.7 1258.6,991.1 1239.7,977.0Z" fill="#f09a70" filter="url(#fm3)"/><path d="M1227.9,939.2 1263.4,934.5 1282.3,953.4 1282.3,981.7 1258.6,991.1 1239.7,977.0Z" fill="#e25a42" filter="url(#fm4)"/><path d="M1282.3,934.5 1315.3,939.2 1315.3,951.0 1313.0,974.6 1301.1,986.4 1287.0,972.3Z" fill="#f7e3b7" filter="url(#fd0)"/><path d="M1282.3,934.5 1315.3,939.2 1315.3,951.0 1313.0,974.6 1301.1,986.4 1287.0,972.3Z" fill="#f7c49a" filter="url(#fs1)"/><path d="M1301.1,908.5 1323.6,921.5 1324.8,929.7 1315.3,951.0 1301.1,943.9 1296.4,925.0Z" fill="#aabfc4" filter="url(#fm2)"/><path d="M1301.1,908.5 1323.6,921.5 1324.8,929.7 1315.3,951.0 1301.1,943.9 1296.4,925.0Z" fill="#f7e3b7" filter="url(#fm3)"/><path d="M1268.1,972.3 1296.4,972.3 1305.9,984.1 1294.1,1000.6 1291.7,1010.0 1282.3,1005.3 1272.8,991.1Z" fill="#e25a42" filter="url(#fd4)"/><path d="M1268.1,972.3 1296.4,972.3 1305.9,984.1 1294.1,1000.6 1291.7,1010.0 1282.3,1005.3 1272.8,991.1Z" fill="#f09a70" filter="url(#fd0)"/><path d="M1251.6,991.1 1272.8,993.5 1287.0,1010.0 1287.0,1026.6 1281.1,1036.0 1268.1,1038.4 1256.3,1026.6 1249.2,1010.0Z" fill="#aabfc4" filter="url(#fm1)"/><path d="M1251.6,991.1 1272.8,993.5 1287.0,1010.0 1287.0,1026.6 1281.1,1036.0 1268.1,1038.4 1256.3,1026.6 1249.2,1010.0Z" fill="#f7e3b7" filter="url(#fm2)"/><path d="M1467.6,704.0 1484.4,695.6 1509.6,691.4 1539.0,693.5 1570.5,697.7 1601.9,699.8 1633.4,704.0 1649.8,706.1 1671.0,704.0 1692.0,706.1 1713.0,712.4 1719.3,720.8 1713.0,729.2 1710.9,746.0 1692.0,750.2 1671.0,746.0 1650.0,750.2 1622.9,754.4 1591.5,767.0 1570.5,762.8 1560.0,746.0 1547.4,737.6 1539.0,746.0 1530.6,746.0 1501.2,741.8 1497.0,752.7 1484.4,746.0 1476.0,737.6Z" fill="#7da3bf" filter="url(#fs3)"/><path d="M1405.6,760.7 1405.6,752.3 1407.1,748.1 1413.0,746.0 1423.5,745.6 1432.9,743.9 1436.1,754.4 1430.2,763.2 1421.8,769.5 1411.3,767.4Z" fill="#7da3bf" filter="url(#fm4)"/><path d="M1405.6,760.7 1405.6,752.3 1407.1,748.1 1413.0,746.0 1423.5,745.6 1432.9,743.9 1436.1,754.4 1430.2,763.2 1421.8,769.5 1411.3,767.4Z" fill="#aabfc4" filter="url(#fm0)"/><path d="M1422.4,730.2 1434.0,721.2 1448.7,712.4 1463.4,706.1 1470.7,697.7 1476.0,704.0 1484.4,708.2 1480.2,720.8 1476.0,733.4 1467.6,744.3 1455.0,748.5 1448.7,744.3 1438.2,746.4 1432.9,743.9 1428.1,737.6Z" fill="#f09a70" filter="url(#fd1)"/><path d="M1422.4,730.2 1434.0,721.2 1448.7,712.4 1463.4,706.1 1470.7,697.7 1476.0,704.0 1484.4,708.2 1480.2,720.8 1476.0,733.4 1467.6,744.3 1455.0,748.5 1448.7,744.3 1438.2,746.4 1432.9,743.9 1428.1,737.6Z" fill="#f7c49a" filter="url(#fd2)"/><path d="M1419.3,702.3 1428.1,704.4 1430.2,712.8 1432.3,721.2 1421.8,723.3 1419.7,717.0 1422.9,710.7ZM1409.2,714.9 1415.5,712.8 1416.6,719.1 1410.3,720.1Z" fill="#f7c49a" filter="url(#fm3)"/><path d="M1452.9,744.3 1467.6,743.9 1484.4,746.0 1497.0,752.7 1494.9,764.9 1484.4,758.6 1476.0,762.8 1463.4,752.3Z" fill="#f09a70" filter="url(#fm4)"/><path d="M1452.9,744.3 1467.6,743.9 1484.4,746.0 1497.0,752.7 1494.9,764.9 1484.4,758.6 1476.0,762.8 1463.4,752.3Z" fill="#f7c49a" filter="url(#fm0)"/><path d="M1476.0,704.0 1497.0,699.8 1505.4,708.2 1505.4,725.0 1501.2,741.8 1497.0,752.7 1484.4,746.0 1476.0,737.6 1478.1,720.8Z" fill="#f7c49a" filter="url(#fd1)"/><path d="M1476.0,704.0 1497.0,699.8 1505.4,708.2 1505.4,725.0 1501.2,741.8 1497.0,752.7 1484.4,746.0 1476.0,737.6 1478.1,720.8Z" fill="#f7e3b7" filter="url(#fm2)"/><path d="M1484.4,699.8 1509.6,695.6 1539.0,699.8 1560.0,704.0 1591.5,704.0 1618.7,708.2 1620.8,716.6 1597.8,712.4 1560.0,712.4 1534.8,716.6 1509.6,720.8 1501.2,710.3Z" fill="#f7e3b7" filter="url(#fm3)"/><path d="M1501.2,733.4 1513.8,725.0 1530.6,718.7 1551.6,712.4 1568.4,710.3 1591.5,712.4 1612.4,718.7 1616.6,729.2 1601.9,731.3 1585.2,722.9 1564.2,720.8 1547.4,725.0 1539.0,733.4 1543.2,743.9 1530.6,746.0 1522.2,737.6 1513.8,741.8 1501.2,741.8Z" fill="#5a8cb3" filter="url(#fd4)"/><path d="M1501.2,733.4 1513.8,725.0 1530.6,718.7 1551.6,712.4 1568.4,710.3 1591.5,712.4 1612.4,718.7 1616.6,729.2 1601.9,731.3 1585.2,722.9 1564.2,720.8 1547.4,725.0 1539.0,733.4 1543.2,743.9 1530.6,746.0 1522.2,737.6 1513.8,741.8 1501.2,741.8Z" fill="#4a82ad" filter="url(#fm0)"/><path d="M1560.0,725.0 1601.9,729.2 1627.1,737.6 1643.9,750.2 1622.9,767.0 1591.5,771.2 1570.5,762.8 1564.2,746.0Z" fill="#7da3bf" filter="url(#fm1)"/><path d="M1612.2,718.7 1650.0,720.8 1681.5,725.0 1713.0,729.2 1713.0,738.6 1681.5,736.5 1650.0,732.3 1612.2,729.2Z" fill="#7da3bf" filter="url(#fm2)"/><path d="M1612.2,718.7 1650.0,720.8 1681.5,725.0 1713.0,729.2 1713.0,738.6 1681.5,736.5 1650.0,732.3 1612.2,729.2Z" fill="#5a8cb3" filter="url(#fs3)"/><path d="M1501.6,754.8 1514.2,756.9 1531.0,754.8 1539.0,756.5 1534.8,764.9 1524.7,767.4 1516.3,765.3 1505.8,765.3Z" fill="#7da3bf" filter="url(#fd4)"/><path d="M1534.8,764.9 1547.4,762.8 1560.0,775.4 1572.6,790.1 1568.4,794.3 1555.8,783.8 1539.0,775.4 1526.4,771.2 1524.7,779.6 1522.2,767.0Z" fill="#7da3bf" filter="url(#fm0)"/><path d="M1524.7,767.4 1539.0,764.9 1560.0,775.4 1572.6,790.1 1565.2,785.9 1562.1,788.0 1572.6,803.1 1560.0,809.0 1539.0,800.6 1528.5,788.0Z" fill="#7da3bf" filter="url(#fm1)"/><path d="M1539.0,756.5 1560.0,754.4 1581.0,767.0 1601.9,779.6 1614.5,802.7 1587.3,803.1 1572.6,790.1 1555.8,783.8 1539.0,775.4Z" fill="#7da3bf" filter="url(#fs2)"/><path d="M1601.9,746.0 1620.8,748.1 1620.8,767.0 1610.3,771.2 1601.9,762.8Z" fill="#7da3bf" filter="url(#fm3)"/><path d="M1642.3,794.3 1641.6,798.9 1639.8,803.2 1636.9,806.5 1633.3,808.6 1629.2,809.4 1625.2,808.6 1621.6,806.5 1618.7,803.2 1616.9,798.9 1616.2,794.3 1616.9,789.6 1618.7,785.4 1621.6,782.0 1625.2,779.9 1629.2,779.1 1633.3,779.9 1636.9,782.0 1639.8,785.4 1641.6,789.6Z" fill="#5a8cb3" filter="url(#fd4)"/><path d="M1642.3,794.3 1641.6,798.9 1639.8,803.2 1636.9,806.5 1633.3,808.6 1629.2,809.4 1625.2,808.6 1621.6,806.5 1618.7,803.2 1616.9,798.9 1616.2,794.3 1616.9,789.6 1618.7,785.4 1621.6,782.0 1625.2,779.9 1629.2,779.1 1633.3,779.9 1636.9,782.0 1639.8,785.4 1641.6,789.6Z" fill="#7da3bf" filter="url(#fm0)"/><path d="M1620.8,809.0 1639.7,804.8 1648.1,815.3 1639.7,825.8 1631.3,822.6Z" fill="#d8dfc6" filter="url(#fm1)"/><path d="M1615.6,776.4 1622.9,775.4 1633.4,785.9 1643.9,794.3 1658.6,800.6 1673.3,805.8 1690.1,806.9 1700.0,803.7 1702.5,803.7 1710.9,798.5 1713.0,806.9 1706.7,815.3 1693.7,820.5 1688.5,820.0 1683.8,829.4 1674.4,843.6 1667.3,857.8 1661.8,870.1 1655.5,860.6 1648.4,846.5 1641.3,832.3 1638.9,820.0 1638.9,819.9 1643.9,815.3 1641.8,804.8 1631.3,788.0 1620.8,783.8Z" fill="#f7c49a" filter="url(#fd2)"/><path d="M1615.6,776.4 1622.9,775.4 1633.4,785.9 1643.9,794.3 1658.6,800.6 1673.3,805.8 1690.1,806.9 1700.0,803.7 1702.5,803.7 1710.9,798.5 1713.0,806.9 1706.7,815.3 1693.7,820.5 1688.5,820.0 1683.8,829.4 1674.4,843.6 1667.3,857.8 1661.8,870.1 1655.5,860.6 1648.4,846.5 1641.3,832.3 1638.9,820.0 1638.9,819.9 1643.9,815.3 1641.8,804.8 1631.3,788.0 1620.8,783.8Z" fill="#f09a70" filter="url(#fm3)"/><path d="M1615.6,776.4 1622.9,775.4 1633.4,785.9 1643.9,794.3 1658.6,800.6 1673.3,805.8 1690.1,806.9 1700.0,803.7 1702.5,803.7 1710.9,798.5 1713.0,806.9 1706.7,815.3 1693.7,820.5 1688.5,820.0 1683.8,829.4 1674.4,843.6 1667.3,857.8 1661.8,870.1 1655.5,860.6 1648.4,846.5 1641.3,832.3 1638.9,820.0 1638.9,819.9 1643.9,815.3 1641.8,804.8 1631.3,788.0 1620.8,783.8Z" fill="#d8dfc6" filter="url(#fs4)"/><path d="M1622.9,779.6 1643.9,794.3 1658.6,800.6 1673.3,805.8 1690.1,806.9 1706.9,802.7 1706.9,813.2 1685.9,815.3 1664.9,813.2 1648.1,806.9 1631.3,794.3Z" fill="#d93a2c" filter="url(#fd0)"/><path d="M1622.9,779.6 1643.9,794.3 1658.6,800.6 1673.3,805.8 1690.1,806.9 1706.9,802.7 1706.9,813.2 1685.9,815.3 1664.9,813.2 1648.1,806.9 1631.3,794.3Z" fill="#e25a42" filter="url(#fm1)"/><path d="M1402.5,786.3 1409.2,777.9 1419.7,771.6 1434.4,768.2 1449.1,767.0 1459.6,771.6 1467.6,781.7 1459.2,779.6 1448.7,773.3 1434.0,774.3 1419.3,777.5 1408.8,785.9Z" fill="#7da3bf" filter="url(#fm2)"/><path d="M1379.4,840.5 1413.0,840.5 1455.0,843.6 1497.0,845.7 1528.5,842.6 1557.9,846.8 1557.9,860.0 1528.5,857.3 1497.0,860.0 1455.0,858.3 1413.0,855.2 1379.4,854.1Z" fill="#5a8cb3" filter="url(#fd3)"/><path d="M1379.4,840.5 1413.0,840.5 1455.0,843.6 1497.0,845.7 1528.5,842.6 1557.9,846.8 1557.9,860.0 1528.5,857.3 1497.0,860.0 1455.0,858.3 1413.0,855.2 1379.4,854.1Z" fill="#4a82ad" filter="url(#fm4)"/><path d="M1380.3,844.7 1409.8,849.4 1457.0,854.2 1500.0,856.5 1518.4,857.7 1518.4,864.8 1500.0,864.8 1466.5,868.3 1461.7,887.2 1445.2,868.3 1400.3,866.0 1386.2,856.5Z" fill="#f7e3b7" filter="url(#fm0)"/><path d="M1380.3,844.7 1409.8,849.4 1457.0,854.2 1500.0,856.5 1518.4,857.7 1518.4,864.8 1500.0,864.8 1466.5,868.3 1461.7,887.2 1445.2,868.3 1400.3,866.0 1386.2,856.5Z" fill="#f09a70" filter="url(#fs1)"/><path d="M1382.6,854.2 1388.5,866.0 1395.6,877.8 1405.1,883.7 1416.9,882.5 1428.7,879.0 1440.5,875.4 1449.9,882.5 1461.7,889.6 1459.4,880.1 1445.2,868.3 1428.7,868.3 1414.5,870.7 1400.3,866.0 1390.9,854.2Z" fill="#d93a2c" filter="url(#fd2)"/><path d="M1382.6,854.2 1388.5,866.0 1395.6,877.8 1405.1,883.7 1416.9,882.5 1428.7,879.0 1440.5,875.4 1449.9,882.5 1461.7,889.6 1459.4,880.1 1445.2,868.3 1428.7,868.3 1414.5,870.7 1400.3,866.0 1390.9,854.2Z" fill="#e25a42" filter="url(#fm3)"/><path d="M1450.0,887.3 1485.4,888.5 1516.1,888.5 1520.9,914.5 1511.4,942.8 1478.3,947.5 1468.9,926.3 1461.8,914.5 1457.1,902.7Z" fill="#e25a42" filter="url(#fs4)"/><path d="M1450.0,887.3 1485.4,888.5 1516.1,888.5 1520.9,914.5 1511.4,942.8 1478.3,947.5 1468.9,926.3 1461.8,914.5 1457.1,902.7Z" fill="#f09a70" filter="url(#fs0)"/><path d="M1513.8,881.4 1535.0,867.2 1553.9,864.9 1551.6,890.9 1553.9,907.4 1547.3,924.1 1548.5,938.3 1539.7,952.3 1525.6,947.5 1516.1,928.6 1513.8,905.0Z" fill="#f7e3b7" filter="url(#fm1)"/><path d="M1513.8,881.4 1535.0,867.2 1553.9,864.9 1551.6,890.9 1553.9,907.4 1547.3,924.1 1548.5,938.3 1539.7,952.3 1525.6,947.5 1516.1,928.6 1513.8,905.0Z" fill="#f7c49a" filter="url(#fs2)"/><path d="M1464.2,952.3 1497.2,942.8 1527.9,952.3 1530.3,973.5 1518.5,999.5 1493.0,1021.0 1481.2,1023.3 1473.6,999.5 1464.2,971.1Z" fill="#7da3bf" filter="url(#fs3)"/><path d="M1464.2,952.3 1497.2,942.8 1527.9,952.3 1530.3,973.5 1518.5,999.5 1493.0,1021.0 1481.2,1023.3 1473.6,999.5 1464.2,971.1Z" fill="#aabfc4" filter="url(#fs4)"/><path d="M1520.9,942.8 1547.3,942.8 1547.3,952.5 1540.2,964.3 1530.8,973.7 1528.4,987.9 1519.0,999.7 1507.2,1013.9 1497.2,1008.9 1511.4,990.0 1520.9,971.1Z" fill="#f7e3b7" filter="url(#fs0)"/><path d="M1572.8,947.8 1577.8,954.9 1573.0,969.0 1566.0,985.6 1561.0,990.0 1563.4,975.9 1568.1,959.3Z" fill="#e25a42" filter="url(#fd1)"/><path d="M1713.0,729.2 1721.4,720.8 1734.0,718.7 1744.5,725.0 1752.9,737.6 1755.0,750.2 1746.6,754.4 1740.3,762.8 1727.7,767.0 1717.2,758.6 1710.9,746.0Z" fill="#5a8cb3" filter="url(#fd2)"/><path d="M1713.0,729.2 1721.4,720.8 1734.0,718.7 1744.5,725.0 1752.9,737.6 1755.0,750.2 1746.6,754.4 1740.3,762.8 1727.7,767.0 1717.2,758.6 1710.9,746.0Z" fill="#7da3bf" filter="url(#fm3)"/><path d="M1717.2,758.6 1740.3,762.8 1748.7,767.0 1759.2,779.6 1763.4,788.0 1750.8,792.2 1734.0,788.0 1721.4,779.6 1715.1,767.0Z" fill="#f7c49a" filter="url(#fd4)"/><path d="M1717.2,758.6 1740.3,762.8 1748.7,767.0 1759.2,779.6 1763.4,788.0 1750.8,792.2 1734.0,788.0 1721.4,779.6 1715.1,767.0Z" fill="#f09a70" filter="url(#fm0)"/><path d="M1748.7,754.4 1755.0,756.9 1763.4,767.0 1759.6,771.6 1755.0,765.3Z" fill="#f7c49a" filter="url(#fm1)"/><path d="M1681.5,779.6 1702.5,767.0 1721.4,779.6 1734.0,788.0 1763.4,788.0 1765.9,794.7 1763.4,805.2 1755.0,813.6 1746.6,819.9 1738.2,824.1 1734.0,822.0 1719.3,821.6 1704.6,809.0 1687.8,800.6Z" fill="#f09a70" filter="url(#fd2)"/><path d="M1681.5,779.6 1702.5,767.0 1721.4,779.6 1734.0,788.0 1763.4,788.0 1765.9,794.7 1763.4,805.2 1755.0,813.6 1746.6,819.9 1738.2,824.1 1734.0,822.0 1719.3,821.6 1704.6,809.0 1687.8,800.6Z" fill="#e25a42" filter="url(#fm3)"/><path d="M1681.5,779.6 1704.6,783.8 1713.0,800.6 1719.3,821.6 1713.0,830.0 1700.4,821.6 1687.8,809.0 1679.4,796.4Z" fill="#f09a70" filter="url(#fd4)"/><path d="M1681.5,779.6 1704.6,783.8 1713.0,800.6 1719.3,821.6 1713.0,830.0 1700.4,821.6 1687.8,809.0 1679.4,796.4Z" fill="#e25a42" filter="url(#fm0)"/><path d="M1687.8,809.0 1700.4,821.6 1713.0,830.0 1734.0,822.0 1734.4,826.8 1740.3,838.8 1748.7,849.3 1747.0,857.7 1751.1,848.3 1752.8,855.4 1748.0,863.0 1738.6,855.9 1729.1,848.8 1726.8,855.9 1731.5,867.7 1738.6,881.9 1742.4,893.7 1738.6,892.0 1729.1,874.8 1724.4,860.6 1719.7,848.8 1710.3,841.7 1703.2,832.3 1693.7,820.5 1685.7,829.9Z" fill="#e25a42" filter="url(#fd1)"/><path d="M1687.8,809.0 1700.4,821.6 1713.0,830.0 1734.0,822.0 1734.4,826.8 1740.3,838.8 1748.7,849.3 1747.0,857.7 1751.1,848.3 1752.8,855.4 1748.0,863.0 1738.6,855.9 1729.1,848.8 1726.8,855.9 1731.5,867.7 1738.6,881.9 1742.4,893.7 1738.6,892.0 1729.1,874.8 1724.4,860.6 1719.7,848.8 1710.3,841.7 1703.2,832.3 1693.7,820.5 1685.7,829.9Z" fill="#f09a70" filter="url(#fd2)"/><path d="M1776.0,740.1 1786.9,743.9 1784.4,749.1 1777.0,746.0ZM1784.4,754.8 1795.3,763.2 1799.5,771.6 1793.2,775.8 1784.8,782.1 1778.5,782.1 1780.6,775.8 1789.0,769.5 1786.9,761.1Z" fill="#f7c49a" filter="url(#fm3)"/><path d="M1714.5,879.0 1721.6,881.4 1733.4,895.6 1745.2,909.7 1747.6,919.2 1740.5,919.2 1728.7,907.4 1719.2,893.2Z" fill="#d93a2c" filter="url(#fd4)"/><path d="M1747.2,923.9 1761.4,927.5 1775.6,929.8 1789.8,931.0 1803.9,929.8 1807.5,932.2 1799.2,936.9 1785.0,935.7 1770.9,933.4 1756.7,931.0 1746.1,927.5ZM1795.7,936.9 1805.1,931.0 1807.5,933.4 1798.0,939.3Z" fill="#e25a42" filter="url(#fd0)"/><path d="M1756.7,895.6 1765.0,890.9 1775.6,879.1 1782.7,876.7 1783.9,883.8 1782.7,895.6 1778.0,905.0 1770.9,913.3 1762.6,910.9 1757.9,903.9Z" fill="#e25a42" filter="url(#fd1)"/><path d="M1777.8,891.1 1778.8,893.5 1779.1,895.9 1778.8,898.3 1777.7,900.2 1776.2,901.6 1774.2,902.2 1772.0,902.1 1769.8,901.3 1767.9,899.8 1766.3,897.7 1765.3,895.3 1765.0,892.9 1765.3,890.6 1766.3,888.6 1767.9,887.2 1769.9,886.6 1772.1,886.7 1774.3,887.5 1776.2,889.1Z" fill="#ffffff" filter="url(#fm2)"/><path d="M1787.4,900.3 1794.5,896.8 1803.9,895.6 1799.2,901.5 1793.3,905.0 1795.7,916.9 1792.1,919.2 1789.8,912.1 1786.2,919.2 1785.5,907.4ZM1811.0,893.2 1814.6,892.0 1813.4,901.5 1810.6,900.3Z" fill="#e25a42" filter="url(#fm3)"/><path d="M1779.1,834.2 1783.9,833.0 1786.2,843.6 1790.9,850.7 1799.2,855.4 1803.9,864.9 1806.3,874.3 1800.4,877.9 1795.7,870.8 1792.1,862.5 1787.4,855.4 1781.5,846.0ZM1778.0,867.2 1783.9,860.2 1785.0,862.5 1779.1,869.6Z" fill="#d93a2c" filter="url(#fd4)"/><path d="M1822.8,902.7 1832.3,905.0 1841.7,909.8 1851.2,908.6 1860.6,913.3 1867.7,921.6 1872.4,931.0 1876.0,936.9 1870.1,935.7 1863.0,931.0 1853.5,933.4 1846.5,931.0 1841.7,921.6 1834.6,914.5 1827.6,909.8ZM1874.8,920.4 1886.6,914.5 1889.0,916.9 1879.5,922.8ZM1893.7,921.6 1900.8,927.5 1910.2,936.9 1907.9,938.1 1899.6,929.8 1892.5,923.5Z" fill="#f09a70" filter="url(#fm0)"/><path d="M1822.8,902.7 1832.3,905.0 1841.7,909.8 1851.2,908.6 1860.6,913.3 1867.7,921.6 1872.4,931.0 1876.0,936.9 1870.1,935.7 1863.0,931.0 1853.5,933.4 1846.5,931.0 1841.7,921.6 1834.6,914.5 1827.6,909.8ZM1874.8,920.4 1886.6,914.5 1889.0,916.9 1879.5,922.8ZM1893.7,921.6 1900.8,927.5 1910.2,936.9 1907.9,938.1 1899.6,929.8 1892.5,923.5Z" fill="#e25a42" filter="url(#fs1)"/><path d="M1667.3,867.2 1673.2,870.8 1672.0,877.9 1667.3,875.5Z" fill="#e25a42" filter="url(#ff)"/><path d="M1771.4,810.0 1774.3,811.5 1773.9,817.4 1771.8,816.3ZM1745.5,828.9 1749.7,827.9 1750.4,832.1 1746.2,833.1Z" fill="#f7c49a" filter="url(#fd3)"/><path d="M1904.7,975.7 1905.0,977.6 1904.4,979.1 1903.1,979.6 1901.7,978.8 1900.7,977.1 1900.4,975.1 1901.0,973.6 1902.2,973.2 1903.6,974.0ZM1949.3,963.8 1949.2,964.8 1948.3,965.8 1946.9,966.3 1945.6,966.1 1944.9,965.4 1945.0,964.3 1945.9,963.3 1947.2,962.8 1948.6,963.0Z" fill="#e25a42" filter="url(#ff)"/><path d="M1736.6,1023.1 1742.5,1013.7 1746.1,1001.9 1753.1,1006.6 1756.7,1018.4 1752.0,1020.8 1742.5,1024.3Z" fill="#7da3bf" filter="url(#fm0)"/><path d="M1793.3,1032.6 1792.1,1023.1 1803.9,1020.8 1822.8,1016.1 1837.0,1006.6 1851.2,994.8 1859.4,985.4 1859.4,994.8 1851.2,1006.6 1841.7,1013.7 1832.3,1023.1 1822.8,1030.2 1811.0,1032.6 1799.2,1035.0Z" fill="#7da3bf" filter="url(#fm1)"/><path d="M1793.3,1032.6 1792.1,1023.1 1803.9,1020.8 1822.8,1016.1 1837.0,1006.6 1851.2,994.8 1859.4,985.4 1859.4,994.8 1851.2,1006.6 1841.7,1013.7 1832.3,1023.1 1822.8,1030.2 1811.0,1032.6 1799.2,1035.0Z" fill="#f7e3b7" filter="url(#fm2)"/><path d="M1793.3,1032.6 1792.1,1023.1 1803.9,1020.8 1822.8,1016.1 1837.0,1006.6 1851.2,994.8 1859.4,985.4 1859.4,994.8 1851.2,1006.6 1841.7,1013.7 1832.3,1023.1 1822.8,1030.2 1811.0,1032.6 1799.2,1035.0Z" fill="#f7c49a" filter="url(#fs3)"/><path d="M1826.4,1064.5 1834.6,1058.6 1851.2,1050.3 1865.4,1044.4 1874.8,1039.7 1884.3,1030.2 1889.0,1025.5 1890.2,1032.6 1886.6,1036.1 1879.5,1040.9 1870.1,1045.6 1853.5,1053.9 1839.4,1060.9 1828.7,1065.7Z" fill="#f7e3b7" filter="url(#fs4)"/></g><use href="#holesW" fill="#aedcf2" filter="url(#rough)"/></g></g>
<clipPath id="cp_c"><rect x="1056.2" y="358.5" width="451.5999999999999" height="243.89999999999998"/></clipPath>
<rect x="1056.2" y="358.5" width="451.5999999999999" height="243.89999999999998" fill="#aedcf2" stroke="#dbe9f3" stroke-width="0.9"/>
<g clip-path="url(#cp_c)"><g transform="matrix(0.521 0 0 0.5066 491.6 42.6)" filter="url(#soft)"><use href="#landW" fill="#fff" filter="url(#rough)"/><g mask="url(#maskW)"><path d="M1113.0,754.4 1134.0,729.2 1155.0,712.4 1171.8,704.0 1197.0,710.3 1218.0,725.0 1239.0,733.4 1272.6,737.6 1272.6,746.0 1251.6,754.4 1239.0,764.9 1218.0,782.1 1205.8,790.5 1197.0,792.6 1180.2,794.7 1159.2,801.0 1150.8,804.8 1134.0,792.2 1113.0,783.8Z" fill="#7da3bf" filter="url(#fm0)"/><path d="M1113.0,754.4 1134.0,729.2 1155.0,712.4 1171.8,704.0 1197.0,710.3 1218.0,725.0 1239.0,733.4 1272.6,737.6 1272.6,746.0 1251.6,754.4 1239.0,764.9 1218.0,782.1 1205.8,790.5 1197.0,792.6 1180.2,794.7 1159.2,801.0 1150.8,804.8 1134.0,792.2 1113.0,783.8Z" fill="#aabfc4" filter="url(#fm1)"/><path d="M1140.3,737.6 1155.0,712.4 1171.8,704.0 1197.0,710.3 1218.0,725.0 1239.0,737.6 1251.6,746.0 1239.0,758.6 1222.2,771.2 1205.4,783.8 1184.4,792.2 1159.2,798.5 1150.8,804.8 1146.6,792.2 1134.0,767.0 1138.2,746.0Z" fill="#7da3bf" filter="url(#fm2)"/><path d="M1140.3,737.6 1155.0,712.4 1171.8,704.0 1197.0,710.3 1218.0,725.0 1239.0,737.6 1251.6,746.0 1239.0,758.6 1222.2,771.2 1205.4,783.8 1184.4,792.2 1159.2,798.5 1150.8,804.8 1146.6,792.2 1134.0,767.0 1138.2,746.0Z" fill="#5a8cb3" filter="url(#fs3)"/><path d="M1167.6,725.0 1180.2,716.6 1197.0,714.5 1209.6,720.8 1211.7,733.4 1203.3,746.0 1197.0,758.6 1186.5,767.0 1171.8,775.4 1159.2,783.8 1150.8,788.0 1152.9,775.4 1163.4,762.8 1169.7,750.2 1167.6,737.6Z" fill="#5a8cb3" filter="url(#fm4)"/><path d="M1197.0,737.6 1218.0,725.0 1239.0,737.6 1272.6,737.6 1272.6,746.0 1251.6,754.4 1239.0,764.9 1218.0,782.1 1205.8,790.5 1197.0,792.6 1188.6,790.5 1180.2,794.7 1184.4,779.6 1192.8,762.8Z" fill="#7da3bf" filter="url(#fs0)"/><path d="M1121.4,788.0 1140.3,785.9 1155.0,804.8 1152.9,830.0 1159.2,836.3 1176.0,821.6 1179.1,830.0 1173.9,840.5 1185.4,851.0 1184.4,860.0 1167.6,853.1 1150.8,842.6 1134.0,839.4 1125.6,821.6 1122.4,804.8Z" fill="#f7c49a" filter="url(#fm1)"/><path d="M1121.4,788.0 1140.3,785.9 1155.0,804.8 1152.9,830.0 1159.2,836.3 1176.0,821.6 1179.1,830.0 1173.9,840.5 1185.4,851.0 1184.4,860.0 1167.6,853.1 1150.8,842.6 1134.0,839.4 1125.6,821.6 1122.4,804.8Z" fill="#f09a70" filter="url(#fs2)"/><path d="M1150.0,837.6 1183.1,847.1 1183.1,860.1 1197.2,871.9 1193.7,874.2 1178.3,867.2 1164.2,854.2 1150.0,842.4Z" fill="#f09a70" filter="url(#fd3)"/><path d="M1150.0,837.6 1183.1,847.1 1183.1,860.1 1197.2,871.9 1193.7,874.2 1178.3,867.2 1164.2,854.2 1150.0,842.4Z" fill="#e25a42" filter="url(#fs4)"/><path d="M1187.5,818.4 1194.9,815.7 1203.3,818.4 1211.7,824.7 1212.7,827.9 1205.4,825.3 1197.0,820.5 1189.6,820.5ZM1213.8,832.1 1220.1,828.9 1228.5,830.0 1230.6,833.1 1222.2,834.6 1214.8,834.6ZM1202.2,833.1 1206.4,832.5 1206.4,835.2 1202.6,835.6ZM1234.8,833.1 1237.9,833.1 1237.9,835.2 1234.8,835.2Z" fill="#f09a70" filter="url(#fm0)"/><path d="M1196.1,870.7 1216.1,855.4 1246.8,862.4 1251.6,873.1 1230.3,880.1 1213.8,887.2 1200.8,903.8 1190.1,920.3 1185.4,915.6 1186.6,901.4 1192.5,892.0 1197.2,882.5Z" fill="#f7e3b7" filter="url(#fm1)"/><path d="M1196.1,870.7 1216.1,855.4 1246.8,862.4 1251.6,873.1 1230.3,880.1 1213.8,887.2 1200.8,903.8 1190.1,920.3 1185.4,915.6 1186.6,901.4 1192.5,892.0 1197.2,882.5Z" fill="#f7c49a" filter="url(#fs2)"/><path d="M1185.4,910.9 1197.2,917.9 1211.4,939.2 1227.9,958.1 1235.0,981.7 1230.3,991.1 1220.9,967.5 1206.7,948.6 1192.5,929.7Z" fill="#f7c49a" filter="url(#fs3)"/><path d="M1227.9,939.2 1263.4,934.5 1282.3,953.4 1282.3,981.7 1258.6,991.1 1239.7,977.0Z" fill="#aabfc4" filter="url(#fs4)"/><path d="M1227.9,939.2 1263.4,934.5 1282.3,953.4 1282.3,981.7 1258.6,991.1 1239.7,977.0Z" fill="#d8dfc6" filter="url(#fs0)"/><path d="M1282.3,934.5 1315.3,939.2 1315.3,951.0 1313.0,974.6 1301.1,986.4 1287.0,972.3Z" fill="#f7c49a" filter="url(#fm1)"/><path d="M1282.3,934.5 1315.3,939.2 1315.3,951.0 1313.0,974.6 1301.1,986.4 1287.0,972.3Z" fill="#f7e3b7" filter="url(#fm2)"/><path d="M1301.1,908.5 1323.6,921.5 1324.8,929.7 1315.3,951.0 1301.1,943.9 1296.4,925.0Z" fill="#f09a70" filter="url(#fm3)"/><path d="M1301.1,908.5 1323.6,921.5 1324.8,929.7 1315.3,951.0 1301.1,943.9 1296.4,925.0Z" fill="#f7c49a" filter="url(#fm4)"/><path d="M1268.1,972.3 1296.4,972.3 1305.9,984.1 1294.1,1000.6 1291.7,1010.0 1282.3,1005.3 1272.8,991.1Z" fill="#d8dfc6" filter="url(#fm0)"/><path d="M1251.6,991.1 1272.8,993.5 1287.0,1010.0 1287.0,1026.6 1281.1,1036.0 1268.1,1038.4 1256.3,1026.6 1249.2,1010.0Z" fill="#5a8cb3" filter="url(#fd1)"/><path d="M1251.6,991.1 1272.8,993.5 1287.0,1010.0 1287.0,1026.6 1281.1,1036.0 1268.1,1038.4 1256.3,1026.6 1249.2,1010.0Z" fill="#7da3bf" filter="url(#fd2)"/><path d="M1237.4,1019.5 1253.9,1028.9 1268.1,1045.5 1270.4,1062.0 1261.0,1076.2 1249.2,1052.6 1239.7,1033.7Z" fill="#aabfc4" filter="url(#fs3)"/><path d="M1467.6,704.0 1484.4,695.6 1509.6,691.4 1539.0,693.5 1570.5,697.7 1601.9,699.8 1633.4,704.0 1649.8,706.1 1671.0,704.0 1692.0,706.1 1713.0,712.4 1719.3,720.8 1713.0,729.2 1710.9,746.0 1692.0,750.2 1671.0,746.0 1650.0,750.2 1622.9,754.4 1591.5,767.0 1570.5,762.8 1560.0,746.0 1547.4,737.6 1539.0,746.0 1530.6,746.0 1501.2,741.8 1497.0,752.7 1484.4,746.0 1476.0,737.6Z" fill="#f09a70" filter="url(#fs4)"/><path d="M1467.6,704.0 1484.4,695.6 1509.6,691.4 1539.0,693.5 1570.5,697.7 1601.9,699.8 1633.4,704.0 1649.8,706.1 1671.0,704.0 1692.0,706.1 1713.0,712.4 1719.3,720.8 1713.0,729.2 1710.9,746.0 1692.0,750.2 1671.0,746.0 1650.0,750.2 1622.9,754.4 1591.5,767.0 1570.5,762.8 1560.0,746.0 1547.4,737.6 1539.0,746.0 1530.6,746.0 1501.2,741.8 1497.0,752.7 1484.4,746.0 1476.0,737.6Z" fill="#f7c49a" filter="url(#fs0)"/><path d="M1405.6,760.7 1405.6,752.3 1407.1,748.1 1413.0,746.0 1423.5,745.6 1432.9,743.9 1436.1,754.4 1430.2,763.2 1421.8,769.5 1411.3,767.4Z" fill="#7da3bf" filter="url(#fd1)"/><path d="M1405.6,760.7 1405.6,752.3 1407.1,748.1 1413.0,746.0 1423.5,745.6 1432.9,743.9 1436.1,754.4 1430.2,763.2 1421.8,769.5 1411.3,767.4Z" fill="#5a8cb3" filter="url(#fm2)"/><path d="M1422.4,730.2 1434.0,721.2 1448.7,712.4 1463.4,706.1 1470.7,697.7 1476.0,704.0 1497.0,699.8 1505.4,708.2 1505.4,725.0 1501.2,741.8 1497.0,752.7 1484.4,746.0 1467.6,744.3 1455.0,748.5 1448.7,744.3 1438.2,746.4 1432.9,743.9 1428.1,737.6Z" fill="#7da3bf" filter="url(#fd3)"/><path d="M1422.4,730.2 1434.0,721.2 1448.7,712.4 1463.4,706.1 1470.7,697.7 1476.0,704.0 1497.0,699.8 1505.4,708.2 1505.4,725.0 1501.2,741.8 1497.0,752.7 1484.4,746.0 1467.6,744.3 1455.0,748.5 1448.7,744.3 1438.2,746.4 1432.9,743.9 1428.1,737.6Z" fill="#5a8cb3" filter="url(#fm4)"/><path d="M1422.4,730.2 1434.0,721.2 1448.7,712.4 1463.4,706.1 1470.7,697.7 1476.0,704.0 1484.4,708.2 1480.2,720.8 1476.0,733.4 1467.6,744.3 1455.0,748.5 1448.7,744.3 1438.2,746.4 1432.9,743.9 1428.1,737.6Z" fill="#5a8cb3" filter="url(#fd0)"/><path d="M1422.4,730.2 1434.0,721.2 1448.7,712.4 1463.4,706.1 1470.7,697.7 1476.0,704.0 1484.4,708.2 1480.2,720.8 1476.0,733.4 1467.6,744.3 1455.0,748.5 1448.7,744.3 1438.2,746.4 1432.9,743.9 1428.1,737.6Z" fill="#7da3bf" filter="url(#fd1)"/><path d="M1419.3,702.3 1428.1,704.4 1430.2,712.8 1432.3,721.2 1421.8,723.3 1419.7,717.0 1422.9,710.7ZM1409.2,714.9 1415.5,712.8 1416.6,719.1 1410.3,720.1Z" fill="#5a8cb3" filter="url(#fm2)"/><path d="M1452.9,744.3 1467.6,743.9 1484.4,746.0 1497.0,752.7 1494.9,764.9 1484.4,758.6 1476.0,762.8 1463.4,752.3Z" fill="#7da3bf" filter="url(#fd3)"/><path d="M1442.4,698.1 1450.8,701.0 1459.2,697.7 1466.5,691.4 1467.6,683.0 1476.0,689.3 1484.4,693.5 1476.0,683.0 1467.6,676.7 1459.2,683.0 1448.7,689.3Z" fill="#7da3bf" filter="url(#fm4)"/><path d="M1476.0,704.0 1497.0,699.8 1505.4,708.2 1505.4,725.0 1501.2,741.8 1497.0,752.7 1484.4,746.0 1476.0,737.6 1478.1,720.8Z" fill="#d8dfc6" filter="url(#fd0)"/><path d="M1476.0,704.0 1497.0,699.8 1505.4,708.2 1505.4,725.0 1501.2,741.8 1497.0,752.7 1484.4,746.0 1476.0,737.6 1478.1,720.8Z" fill="#7da3bf" filter="url(#fm1)"/><path d="M1484.4,699.8 1509.6,695.6 1539.0,699.8 1560.0,704.0 1591.5,704.0 1618.7,708.2 1620.8,716.6 1597.8,712.4 1560.0,712.4 1534.8,716.6 1509.6,720.8 1501.2,710.3Z" fill="#f7e3b7" filter="url(#fm2)"/><path d="M1484.4,699.8 1509.6,695.6 1539.0,699.8 1560.0,704.0 1591.5,704.0 1618.7,708.2 1620.8,716.6 1597.8,712.4 1560.0,712.4 1534.8,716.6 1509.6,720.8 1501.2,710.3Z" fill="#f7c49a" filter="url(#fm3)"/><path d="M1501.2,733.4 1513.8,725.0 1530.6,718.7 1551.6,712.4 1568.4,710.3 1591.5,712.4 1612.4,718.7 1616.6,729.2 1601.9,731.3 1585.2,722.9 1564.2,720.8 1547.4,725.0 1539.0,733.4 1543.2,743.9 1530.6,746.0 1522.2,737.6 1513.8,741.8 1501.2,741.8Z" fill="#f09a70" filter="url(#fm4)"/><path d="M1501.2,733.4 1513.8,725.0 1530.6,718.7 1551.6,712.4 1568.4,710.3 1591.5,712.4 1612.4,718.7 1616.6,729.2 1601.9,731.3 1585.2,722.9 1564.2,720.8 1547.4,725.0 1539.0,733.4 1543.2,743.9 1530.6,746.0 1522.2,737.6 1513.8,741.8 1501.2,741.8Z" fill="#e25a42" filter="url(#fm0)"/><path d="M1560.0,725.0 1601.9,729.2 1627.1,737.6 1643.9,750.2 1622.9,767.0 1591.5,771.2 1570.5,762.8 1564.2,746.0Z" fill="#f09a70" filter="url(#fm1)"/><path d="M1560.0,725.0 1601.9,729.2 1627.1,737.6 1643.9,750.2 1622.9,767.0 1591.5,771.2 1570.5,762.8 1564.2,746.0Z" fill="#e25a42" filter="url(#fs2)"/><path d="M1612.2,718.7 1650.0,720.8 1681.5,725.0 1713.0,729.2 1713.0,738.6 1681.5,736.5 1650.0,732.3 1612.2,729.2Z" fill="#f09a70" filter="url(#fm3)"/><path d="M1612.2,718.7 1650.0,720.8 1681.5,725.0 1713.0,729.2 1713.0,738.6 1681.5,736.5 1650.0,732.3 1612.2,729.2Z" fill="#f7c49a" filter="url(#fm4)"/><path d="M1501.6,754.8 1514.2,756.9 1531.0,754.8 1539.0,756.5 1534.8,764.9 1524.7,767.4 1516.3,765.3 1505.8,765.3Z" fill="#d8dfc6" filter="url(#fd0)"/><path d="M1501.6,754.8 1514.2,756.9 1531.0,754.8 1539.0,756.5 1534.8,764.9 1524.7,767.4 1516.3,765.3 1505.8,765.3Z" fill="#f7c49a" filter="url(#fm1)"/><path d="M1530.6,743.9 1539.0,746.0 1551.6,756.5 1549.5,760.7 1539.0,756.5 1530.6,750.2Z" fill="#e25a42" filter="url(#fm2)"/><path d="M1534.8,764.9 1547.4,762.8 1560.0,775.4 1572.6,790.1 1568.4,794.3 1555.8,783.8 1539.0,775.4 1526.4,771.2 1524.7,779.6 1522.2,767.0Z" fill="#f09a70" filter="url(#fd3)"/><path d="M1524.7,767.4 1539.0,764.9 1560.0,775.4 1572.6,790.1 1565.2,785.9 1562.1,788.0 1572.6,803.1 1560.0,809.0 1539.0,800.6 1528.5,788.0Z" fill="#f09a70" filter="url(#fm4)"/><path d="M1539.0,756.5 1560.0,754.4 1581.0,767.0 1601.9,779.6 1614.5,802.7 1587.3,803.1 1572.6,790.1 1555.8,783.8 1539.0,775.4Z" fill="#f09a70" filter="url(#fm0)"/><path d="M1539.0,756.5 1560.0,754.4 1581.0,767.0 1601.9,779.6 1614.5,802.7 1587.3,803.1 1572.6,790.1 1555.8,783.8 1539.0,775.4Z" fill="#f7c49a" filter="url(#fm1)"/><path d="M1601.9,746.0 1620.8,748.1 1620.8,767.0 1610.3,771.2 1601.9,762.8Z" fill="#f09a70" filter="url(#fm2)"/><path d="M1642.3,794.3 1641.6,798.9 1639.8,803.2 1636.9,806.5 1633.3,808.6 1629.2,809.4 1625.2,808.6 1621.6,806.5 1618.7,803.2 1616.9,798.9 1616.2,794.3 1616.9,789.6 1618.7,785.4 1621.6,782.0 1625.2,779.9 1629.2,779.1 1633.3,779.9 1636.9,782.0 1639.8,785.4 1641.6,789.6Z" fill="#f09a70" filter="url(#fm3)"/><path d="M1620.8,809.0 1639.7,804.8 1648.1,815.3 1639.7,825.8 1631.3,822.6Z" fill="#f7c49a" filter="url(#fm4)"/><path d="M1615.6,776.4 1622.9,775.4 1633.4,785.9 1643.9,794.3 1658.6,800.6 1673.3,805.8 1690.1,806.9 1700.0,803.7 1702.5,803.7 1710.9,798.5 1713.0,806.9 1706.7,815.3 1693.7,820.5 1688.5,820.0 1683.8,829.4 1674.4,843.6 1667.3,857.8 1661.8,870.1 1655.5,860.6 1648.4,846.5 1641.3,832.3 1638.9,820.0 1638.9,819.9 1643.9,815.3 1641.8,804.8 1631.3,788.0 1620.8,783.8Z" fill="#f7c49a" filter="url(#fd0)"/><path d="M1615.6,776.4 1622.9,775.4 1633.4,785.9 1643.9,794.3 1658.6,800.6 1673.3,805.8 1690.1,806.9 1700.0,803.7 1702.5,803.7 1710.9,798.5 1713.0,806.9 1706.7,815.3 1693.7,820.5 1688.5,820.0 1683.8,829.4 1674.4,843.6 1667.3,857.8 1661.8,870.1 1655.5,860.6 1648.4,846.5 1641.3,832.3 1638.9,820.0 1638.9,819.9 1643.9,815.3 1641.8,804.8 1631.3,788.0 1620.8,783.8Z" fill="#d8dfc6" filter="url(#fm1)"/><path d="M1615.6,776.4 1622.9,775.4 1633.4,785.9 1643.9,794.3 1658.6,800.6 1673.3,805.8 1690.1,806.9 1700.0,803.7 1702.5,803.7 1710.9,798.5 1713.0,806.9 1706.7,815.3 1693.7,820.5 1688.5,820.0 1683.8,829.4 1674.4,843.6 1667.3,857.8 1661.8,870.1 1655.5,860.6 1648.4,846.5 1641.3,832.3 1638.9,820.0 1638.9,819.9 1643.9,815.3 1641.8,804.8 1631.3,788.0 1620.8,783.8Z" fill="#f09a70" filter="url(#fs2)"/><path d="M1402.5,786.3 1409.2,777.9 1419.7,771.6 1434.4,768.2 1449.1,767.0 1459.6,771.6 1467.6,781.7 1459.2,779.6 1448.7,773.3 1434.0,774.3 1419.3,777.5 1408.8,785.9Z" fill="#e25a42" filter="url(#fd3)"/><path d="M1402.5,786.3 1409.2,777.9 1419.7,771.6 1434.4,768.2 1449.1,767.0 1459.6,771.6 1467.6,781.7 1459.2,779.6 1448.7,773.3 1434.0,774.3 1419.3,777.5 1408.8,785.9Z" fill="#f09a70" filter="url(#fd4)"/><path d="M1379.4,840.5 1413.0,840.5 1455.0,843.6 1497.0,845.7 1528.5,842.6 1557.9,846.8 1557.9,860.0 1528.5,857.3 1497.0,860.0 1455.0,858.3 1413.0,855.2 1379.4,854.1Z" fill="#f09a70" filter="url(#fd0)"/><path d="M1379.4,840.5 1413.0,840.5 1455.0,843.6 1497.0,845.7 1528.5,842.6 1557.9,846.8 1557.9,860.0 1528.5,857.3 1497.0,860.0 1455.0,858.3 1413.0,855.2 1379.4,854.1Z" fill="#e25a42" filter="url(#fd1)"/><path d="M1379.4,840.5 1413.0,840.5 1455.0,843.6 1497.0,845.7 1528.5,842.6 1557.9,846.8 1557.9,860.0 1528.5,857.3 1497.0,860.0 1455.0,858.3 1413.0,855.2 1379.4,854.1Z" fill="#d93a2c" filter="url(#fd2)"/><path d="M1380.3,844.7 1409.8,849.4 1457.0,854.2 1500.0,856.5 1518.4,857.7 1518.4,864.8 1500.0,864.8 1466.5,868.3 1461.7,887.2 1445.2,868.3 1400.3,866.0 1386.2,856.5Z" fill="#f09a70" filter="url(#fd3)"/><path d="M1382.6,854.2 1388.5,866.0 1395.6,877.8 1405.1,883.7 1416.9,882.5 1428.7,879.0 1440.5,875.4 1449.9,882.5 1461.7,889.6 1459.4,880.1 1445.2,868.3 1428.7,868.3 1414.5,870.7 1400.3,866.0 1390.9,854.2Z" fill="#d93a2c" filter="url(#fd4)"/><path d="M1450.0,887.3 1485.4,888.5 1516.1,888.5 1520.9,914.5 1511.4,942.8 1478.3,947.5 1468.9,926.3 1461.8,914.5 1457.1,902.7Z" fill="#f09a70" filter="url(#fs0)"/><path d="M1513.8,881.4 1535.0,867.2 1553.9,864.9 1551.6,890.9 1553.9,907.4 1547.3,924.1 1548.5,938.3 1539.7,952.3 1525.6,947.5 1516.1,928.6 1513.8,905.0Z" fill="#f09a70" filter="url(#fm1)"/><path d="M1513.8,881.4 1535.0,867.2 1553.9,864.9 1551.6,890.9 1553.9,907.4 1547.3,924.1 1548.5,938.3 1539.7,952.3 1525.6,947.5 1516.1,928.6 1513.8,905.0Z" fill="#e25a42" filter="url(#fs2)"/><path d="M1533.8,834.2 1544.5,838.9 1553.9,863.9 1549.2,879.0 1539.7,881.4 1532.7,867.2 1531.5,848.3Z" fill="#f09a70" filter="url(#fm3)"/><path d="M1464.2,952.3 1497.2,942.8 1527.9,952.3 1530.3,973.5 1518.5,999.5 1493.0,1021.0 1481.2,1023.3 1473.6,999.5 1464.2,971.1ZM1520.9,942.8 1547.3,942.8 1547.3,952.5 1540.2,964.3 1530.8,973.7 1528.4,987.9 1519.0,999.7 1507.2,1013.9 1497.2,1008.9 1511.4,990.0 1520.9,971.1Z" fill="#f09a70" filter="url(#fm4)"/><path d="M1464.2,952.3 1497.2,942.8 1527.9,952.3 1530.3,973.5 1518.5,999.5 1493.0,1021.0 1481.2,1023.3 1473.6,999.5 1464.2,971.1ZM1520.9,942.8 1547.3,942.8 1547.3,952.5 1540.2,964.3 1530.8,973.7 1528.4,987.9 1519.0,999.7 1507.2,1013.9 1497.2,1008.9 1511.4,990.0 1520.9,971.1Z" fill="#e25a42" filter="url(#fm0)"/><path d="M1464.2,952.3 1497.2,942.8 1527.9,952.3 1530.3,973.5 1518.5,999.5 1493.0,1021.0 1481.2,1023.3 1473.6,999.5 1464.2,971.1ZM1520.9,942.8 1547.3,942.8 1547.3,952.5 1540.2,964.3 1530.8,973.7 1528.4,987.9 1519.0,999.7 1507.2,1013.9 1497.2,1008.9 1511.4,990.0 1520.9,971.1Z" fill="#f7c49a" filter="url(#fm1)"/><path d="M1482.6,971.1 1482.3,972.8 1481.3,974.2 1479.9,975.4 1478.0,976.1 1476.0,976.3 1473.9,976.1 1472.1,975.4 1470.6,974.2 1469.7,972.8 1469.4,971.1 1469.7,969.5 1470.6,968.1 1472.1,966.9 1473.9,966.2 1476.0,966.0 1478.0,966.2 1479.9,966.9 1481.3,968.1 1482.3,969.5Z" fill="#e25a42" filter="url(#fd2)"/><path d="M1572.8,947.8 1577.8,954.9 1573.0,969.0 1566.0,985.6 1561.0,990.0 1563.4,975.9 1568.1,959.3Z" fill="#f09a70" filter="url(#fm3)"/><path d="M1650.0,737.6 1681.5,729.2 1713.0,737.6 1719.3,758.6 1713.0,779.6 1681.5,779.6 1660.5,767.0 1650.0,754.4Z" fill="#f09a70" filter="url(#fm4)"/><path d="M1650.0,737.6 1681.5,729.2 1713.0,737.6 1719.3,758.6 1713.0,779.6 1681.5,779.6 1660.5,767.0 1650.0,754.4Z" fill="#e25a42" filter="url(#fs0)"/><path d="M1713.0,729.2 1721.4,720.8 1734.0,718.7 1744.5,725.0 1752.9,737.6 1755.0,750.2 1746.6,754.4 1740.3,762.8 1727.7,767.0 1717.2,758.6 1710.9,746.0Z" fill="#7da3bf" filter="url(#fd1)"/><path d="M1713.0,729.2 1721.4,720.8 1734.0,718.7 1744.5,725.0 1752.9,737.6 1755.0,750.2 1746.6,754.4 1740.3,762.8 1727.7,767.0 1717.2,758.6 1710.9,746.0Z" fill="#5a8cb3" filter="url(#fm2)"/><path d="M1717.2,758.6 1740.3,762.8 1748.7,767.0 1759.2,779.6 1763.4,788.0 1750.8,792.2 1734.0,788.0 1721.4,779.6 1715.1,767.0Z" fill="#5a8cb3" filter="url(#fd3)"/><path d="M1717.2,758.6 1740.3,762.8 1748.7,767.0 1759.2,779.6 1763.4,788.0 1750.8,792.2 1734.0,788.0 1721.4,779.6 1715.1,767.0Z" fill="#4a82ad" filter="url(#fd4)"/><path d="M1748.7,754.4 1755.0,756.9 1763.4,767.0 1759.6,771.6 1755.0,765.3Z" fill="#aabfc4" filter="url(#fm0)"/><path d="M1681.5,779.6 1702.5,767.0 1721.4,779.6 1734.0,788.0 1763.4,788.0 1765.9,794.7 1763.4,805.2 1755.0,813.6 1746.6,819.9 1738.2,824.1 1734.0,822.0 1719.3,821.6 1704.6,809.0 1687.8,800.6Z" fill="#d8dfc6" filter="url(#fm1)"/><path d="M1681.5,779.6 1702.5,767.0 1721.4,779.6 1734.0,788.0 1763.4,788.0 1765.9,794.7 1763.4,805.2 1755.0,813.6 1746.6,819.9 1738.2,824.1 1734.0,822.0 1719.3,821.6 1704.6,809.0 1687.8,800.6Z" fill="#f7c49a" filter="url(#fm2)"/><path d="M1681.5,779.6 1704.6,783.8 1713.0,800.6 1719.3,821.6 1713.0,830.0 1700.4,821.6 1687.8,809.0 1679.4,796.4Z" fill="#f09a70" filter="url(#fm3)"/><path d="M1687.8,809.0 1700.4,821.6 1713.0,830.0 1734.0,822.0 1734.4,826.8 1740.3,838.8 1748.7,849.3 1747.0,857.7 1751.1,848.3 1752.8,855.4 1748.0,863.0 1738.6,855.9 1729.1,848.8 1726.8,855.9 1731.5,867.7 1738.6,881.9 1742.4,893.7 1738.6,892.0 1729.1,874.8 1724.4,860.6 1719.7,848.8 1710.3,841.7 1703.2,832.3 1693.7,820.5 1685.7,829.9Z" fill="#f7c49a" filter="url(#fd4)"/><path d="M1687.8,809.0 1700.4,821.6 1713.0,830.0 1734.0,822.0 1734.4,826.8 1740.3,838.8 1748.7,849.3 1747.0,857.7 1751.1,848.3 1752.8,855.4 1748.0,863.0 1738.6,855.9 1729.1,848.8 1726.8,855.9 1731.5,867.7 1738.6,881.9 1742.4,893.7 1738.6,892.0 1729.1,874.8 1724.4,860.6 1719.7,848.8 1710.3,841.7 1703.2,832.3 1693.7,820.5 1685.7,829.9Z" fill="#d8dfc6" filter="url(#fm0)"/><path d="M1687.8,809.0 1700.4,821.6 1713.0,830.0 1734.0,822.0 1734.4,826.8 1740.3,838.8 1748.7,849.3 1747.0,857.7 1751.1,848.3 1752.8,855.4 1748.0,863.0 1738.6,855.9 1729.1,848.8 1726.8,855.9 1731.5,867.7 1738.6,881.9 1742.4,893.7 1738.6,892.0 1729.1,874.8 1724.4,860.6 1719.7,848.8 1710.3,841.7 1703.2,832.3 1693.7,820.5 1685.7,829.9Z" fill="#f09a70" filter="url(#fs1)"/><path d="M1714.5,879.0 1721.6,881.4 1733.4,895.6 1745.2,909.7 1747.6,919.2 1740.5,919.2 1728.7,907.4 1719.2,893.2Z" fill="#f09a70" filter="url(#fd2)"/><path d="M1714.5,879.0 1721.6,881.4 1733.4,895.6 1745.2,909.7 1747.6,919.2 1740.5,919.2 1728.7,907.4 1719.2,893.2Z" fill="#e25a42" filter="url(#fs3)"/><path d="M1747.2,923.9 1761.4,927.5 1775.6,929.8 1789.8,931.0 1803.9,929.8 1807.5,932.2 1799.2,936.9 1785.0,935.7 1770.9,933.4 1756.7,931.0 1746.1,927.5ZM1795.7,936.9 1805.1,931.0 1807.5,933.4 1798.0,939.3Z" fill="#f09a70" filter="url(#fd4)"/><path d="M1756.7,895.6 1765.0,890.9 1775.6,879.1 1782.7,876.7 1783.9,883.8 1782.7,895.6 1778.0,905.0 1770.9,913.3 1762.6,910.9 1757.9,903.9Z" fill="#f09a70" filter="url(#fm0)"/><path d="M1777.8,891.1 1778.8,893.5 1779.1,895.9 1778.8,898.3 1777.7,900.2 1776.2,901.6 1774.2,902.2 1772.0,902.1 1769.8,901.3 1767.9,899.8 1766.3,897.7 1765.3,895.3 1765.0,892.9 1765.3,890.6 1766.3,888.6 1767.9,887.2 1769.9,886.6 1772.1,886.7 1774.3,887.5 1776.2,889.1Z" fill="#ffffff" filter="url(#fm1)"/><path d="M1787.4,900.3 1794.5,896.8 1803.9,895.6 1799.2,901.5 1793.3,905.0 1795.7,916.9 1792.1,919.2 1789.8,912.1 1786.2,919.2 1785.5,907.4ZM1811.0,893.2 1814.6,892.0 1813.4,901.5 1810.6,900.3Z" fill="#f09a70" filter="url(#fm2)"/><path d="M1779.1,834.2 1783.9,833.0 1786.2,843.6 1790.9,850.7 1799.2,855.4 1803.9,864.9 1806.3,874.3 1800.4,877.9 1795.7,870.8 1792.1,862.5 1787.4,855.4 1781.5,846.0ZM1778.0,867.2 1783.9,860.2 1785.0,862.5 1779.1,869.6Z" fill="#e25a42" filter="url(#fm3)"/><path d="M1779.1,834.2 1783.9,833.0 1786.2,843.6 1790.9,850.7 1799.2,855.4 1803.9,864.9 1806.3,874.3 1800.4,877.9 1795.7,870.8 1792.1,862.5 1787.4,855.4 1781.5,846.0ZM1778.0,867.2 1783.9,860.2 1785.0,862.5 1779.1,869.6Z" fill="#f09a70" filter="url(#fm4)"/><path d="M1822.8,902.7 1832.3,905.0 1841.7,909.8 1851.2,908.6 1860.6,913.3 1867.7,921.6 1872.4,931.0 1876.0,936.9 1870.1,935.7 1863.0,931.0 1853.5,933.4 1846.5,931.0 1841.7,921.6 1834.6,914.5 1827.6,909.8ZM1874.8,920.4 1886.6,914.5 1889.0,916.9 1879.5,922.8ZM1893.7,921.6 1900.8,927.5 1910.2,936.9 1907.9,938.1 1899.6,929.8 1892.5,923.5Z" fill="#f09a70" filter="url(#fm0)"/><path d="M1667.3,867.2 1673.2,870.8 1672.0,877.9 1667.3,875.5Z" fill="#f09a70" filter="url(#ff)"/><path d="M1736.6,1023.1 1742.5,1013.7 1746.1,1001.9 1753.1,1006.6 1756.7,1018.4 1752.0,1020.8 1742.5,1024.3Z" fill="#7da3bf" filter="url(#fd2)"/><path d="M1793.3,1032.6 1792.1,1023.1 1803.9,1020.8 1822.8,1016.1 1837.0,1006.6 1851.2,994.8 1859.4,985.4 1859.4,994.8 1851.2,1006.6 1841.7,1013.7 1832.3,1023.1 1822.8,1030.2 1811.0,1032.6 1799.2,1035.0Z" fill="#5a8cb3" filter="url(#fm3)"/><path d="M1793.3,1032.6 1792.1,1023.1 1803.9,1020.8 1822.8,1016.1 1837.0,1006.6 1851.2,994.8 1859.4,985.4 1859.4,994.8 1851.2,1006.6 1841.7,1013.7 1832.3,1023.1 1822.8,1030.2 1811.0,1032.6 1799.2,1035.0Z" fill="#7da3bf" filter="url(#fm4)"/><path d="M1788.6,1052.7 1794.5,1046.8 1803.9,1042.0 1806.3,1044.4 1799.2,1050.3 1790.9,1053.9Z" fill="#aabfc4" filter="url(#fm0)"/></g><use href="#holesW" fill="#aedcf2" filter="url(#rough)"/></g></g>
<clipPath id="cp_d"><rect x="1510" y="358.5" width="466" height="243.89999999999998"/></clipPath>
<rect x="1510" y="358.5" width="466" height="243.89999999999998" fill="#aedcf2" stroke="#dbe9f3" stroke-width="0.9"/>
<g clip-path="url(#cp_d)"><g transform="matrix(0.5233 0 0 0.5066 949.8 41.8)" filter="url(#soft)"><use href="#landW" fill="#fff" filter="url(#rough)"/><g mask="url(#maskW)"><path d="M1113.0,754.4 1134.0,729.2 1155.0,712.4 1171.8,704.0 1197.0,710.3 1218.0,725.0 1239.0,733.4 1272.6,737.6 1272.6,746.0 1251.6,754.4 1239.0,764.9 1218.0,782.1 1205.8,790.5 1197.0,792.6 1180.2,794.7 1159.2,801.0 1150.8,804.8 1134.0,792.2 1113.0,783.8Z" fill="#7da3bf" filter="url(#fs0)"/><path d="M1113.0,754.4 1134.0,729.2 1155.0,712.4 1171.8,704.0 1197.0,710.3 1218.0,725.0 1239.0,733.4 1272.6,737.6 1272.6,746.0 1251.6,754.4 1239.0,764.9 1218.0,782.1 1205.8,790.5 1197.0,792.6 1180.2,794.7 1159.2,801.0 1150.8,804.8 1134.0,792.2 1113.0,783.8Z" fill="#aabfc4" filter="url(#fs1)"/><path d="M1140.3,737.6 1155.0,712.4 1171.8,704.0 1197.0,710.3 1218.0,725.0 1239.0,737.6 1251.6,746.0 1239.0,758.6 1222.2,771.2 1205.4,783.8 1184.4,792.2 1159.2,798.5 1150.8,804.8 1146.6,792.2 1134.0,767.0 1138.2,746.0Z" fill="#7da3bf" filter="url(#fs2)"/><path d="M1167.6,725.0 1180.2,716.6 1197.0,714.5 1209.6,720.8 1211.7,733.4 1203.3,746.0 1197.0,758.6 1186.5,767.0 1171.8,775.4 1159.2,783.8 1150.8,788.0 1152.9,775.4 1163.4,762.8 1169.7,750.2 1167.6,737.6Z" fill="#5a8cb3" filter="url(#fd3)"/><path d="M1167.6,725.0 1180.2,716.6 1197.0,714.5 1209.6,720.8 1211.7,733.4 1203.3,746.0 1197.0,758.6 1186.5,767.0 1171.8,775.4 1159.2,783.8 1150.8,788.0 1152.9,775.4 1163.4,762.8 1169.7,750.2 1167.6,737.6Z" fill="#7da3bf" filter="url(#fm4)"/><path d="M1110.9,775.4 1113.0,764.9 1119.3,754.4 1127.7,746.0 1134.0,754.4 1127.7,771.2 1123.5,788.0 1113.0,783.8Z" fill="#f7c49a" filter="url(#fm0)"/><path d="M1110.9,775.4 1113.0,764.9 1119.3,754.4 1127.7,746.0 1134.0,754.4 1127.7,771.2 1123.5,788.0 1113.0,783.8Z" fill="#f09a70" filter="url(#fs1)"/><path d="M1184.4,783.8 1205.4,767.0 1230.6,754.4 1251.6,746.0 1260.0,748.5 1239.0,764.9 1218.0,782.1 1205.8,790.5 1205.8,807.3 1200.3,807.3 1197.0,792.6 1188.6,790.5Z" fill="#f7c49a" filter="url(#fm2)"/><path d="M1184.4,783.8 1205.4,767.0 1230.6,754.4 1251.6,746.0 1260.0,748.5 1239.0,764.9 1218.0,782.1 1205.8,790.5 1205.8,807.3 1200.3,807.3 1197.0,792.6 1188.6,790.5Z" fill="#f09a70" filter="url(#fs3)"/><path d="M1230.6,737.6 1251.6,733.4 1272.6,737.6 1272.6,746.0 1251.6,754.4 1234.8,750.2Z" fill="#f7c49a" filter="url(#fs4)"/><path d="M1121.4,788.0 1140.3,785.9 1155.0,804.8 1152.9,830.0 1159.2,836.3 1176.0,821.6 1179.1,830.0 1173.9,840.5 1185.4,851.0 1184.4,860.0 1167.6,853.1 1150.8,842.6 1134.0,839.4 1125.6,821.6 1122.4,804.8Z" fill="#f7c49a" filter="url(#fm0)"/><path d="M1121.4,788.0 1140.3,785.9 1155.0,804.8 1152.9,830.0 1159.2,836.3 1176.0,821.6 1179.1,830.0 1173.9,840.5 1185.4,851.0 1184.4,860.0 1167.6,853.1 1150.8,842.6 1134.0,839.4 1125.6,821.6 1122.4,804.8Z" fill="#e25a42" filter="url(#fm1)"/><path d="M1150.0,837.6 1183.1,847.1 1183.1,860.1 1197.2,871.9 1193.7,874.2 1178.3,867.2 1164.2,854.2 1150.0,842.4Z" fill="#e25a42" filter="url(#fd2)"/><path d="M1150.0,837.6 1183.1,847.1 1183.1,860.1 1197.2,871.9 1193.7,874.2 1178.3,867.2 1164.2,854.2 1150.0,842.4Z" fill="#d93a2c" filter="url(#fm3)"/><path d="M1187.5,818.4 1194.9,815.7 1203.3,818.4 1211.7,824.7 1212.7,827.9 1205.4,825.3 1197.0,820.5 1189.6,820.5ZM1213.8,832.1 1220.1,828.9 1228.5,830.0 1230.6,833.1 1222.2,834.6 1214.8,834.6ZM1202.2,833.1 1206.4,832.5 1206.4,835.2 1202.6,835.6ZM1234.8,833.1 1237.9,833.1 1237.9,835.2 1234.8,835.2Z" fill="#e25a42" filter="url(#ff)"/><path d="M1196.1,870.7 1216.1,855.4 1246.8,862.4 1251.6,873.1 1230.3,880.1 1213.8,887.2 1200.8,903.8 1190.1,920.3 1185.4,915.6 1186.6,901.4 1192.5,892.0 1197.2,882.5Z" fill="#f09a70" filter="url(#fm0)"/><path d="M1196.1,870.7 1216.1,855.4 1246.8,862.4 1251.6,873.1 1230.3,880.1 1213.8,887.2 1200.8,903.8 1190.1,920.3 1185.4,915.6 1186.6,901.4 1192.5,892.0 1197.2,882.5Z" fill="#e25a42" filter="url(#fm1)"/><path d="M1185.4,910.9 1197.2,917.9 1211.4,939.2 1227.9,958.1 1235.0,981.7 1230.3,991.1 1220.9,967.5 1206.7,948.6 1192.5,929.7Z" fill="#f09a70" filter="url(#fs2)"/><path d="M1204.3,887.2 1249.2,877.8 1277.5,894.3 1277.5,910.9 1244.5,910.9 1220.9,929.7 1202.0,920.3Z" fill="#e25a42" filter="url(#fs3)"/><path d="M1249.2,906.1 1282.3,901.4 1301.1,908.5 1323.6,921.5 1324.8,929.7 1315.3,951.0 1313.0,974.6 1305.9,984.1 1296.4,991.1 1291.7,1010.0 1282.3,1005.3 1268.1,981.7 1258.6,962.8 1253.9,939.2 1244.5,920.3Z" fill="#f7c49a" filter="url(#fm4)"/><path d="M1249.2,906.1 1282.3,901.4 1301.1,908.5 1323.6,921.5 1324.8,929.7 1315.3,951.0 1313.0,974.6 1305.9,984.1 1296.4,991.1 1291.7,1010.0 1282.3,1005.3 1268.1,981.7 1258.6,962.8 1253.9,939.2 1244.5,920.3Z" fill="#f09a70" filter="url(#fm0)"/><path d="M1249.2,906.1 1282.3,901.4 1301.1,908.5 1323.6,921.5 1324.8,929.7 1315.3,951.0 1313.0,974.6 1305.9,984.1 1296.4,991.1 1291.7,1010.0 1282.3,1005.3 1268.1,981.7 1258.6,962.8 1253.9,939.2 1244.5,920.3Z" fill="#f7e3b7" filter="url(#fm1)"/><path d="M1244.5,910.9 1263.4,906.1 1282.3,901.4 1301.1,908.5 1305.9,920.3 1291.7,925.0 1272.8,922.7 1253.9,925.0 1244.5,920.3Z" fill="#e25a42" filter="url(#fs2)"/><path d="M1244.5,910.9 1263.4,906.1 1282.3,901.4 1301.1,908.5 1305.9,920.3 1291.7,925.0 1272.8,922.7 1253.9,925.0 1244.5,920.3Z" fill="#f7c49a" filter="url(#fs3)"/><path d="M1301.1,908.5 1323.6,921.5 1324.8,929.7 1315.3,951.0 1301.1,943.9 1296.4,925.0Z" fill="#f7e3b7" filter="url(#fd4)"/><path d="M1301.1,908.5 1323.6,921.5 1324.8,929.7 1315.3,951.0 1301.1,943.9 1296.4,925.0Z" fill="#f7c49a" filter="url(#fm0)"/><path d="M1263.4,929.7 1301.1,943.9 1315.3,951.0 1313.0,974.6 1296.4,991.1 1282.3,981.7 1268.1,962.8 1261.0,943.9Z" fill="#f7c49a" filter="url(#fd1)"/><path d="M1263.4,929.7 1301.1,943.9 1315.3,951.0 1313.0,974.6 1296.4,991.1 1282.3,981.7 1268.1,962.8 1261.0,943.9Z" fill="#f09a70" filter="url(#fm2)"/><path d="M1268.1,972.3 1296.4,972.3 1305.9,984.1 1294.1,1000.6 1291.7,1010.0 1282.3,1005.3 1272.8,991.1Z" fill="#e25a42" filter="url(#fd3)"/><path d="M1268.1,972.3 1296.4,972.3 1305.9,984.1 1294.1,1000.6 1291.7,1010.0 1282.3,1005.3 1272.8,991.1Z" fill="#f09a70" filter="url(#fd4)"/><path d="M1220.9,929.7 1249.2,925.0 1263.4,939.2 1268.1,962.8 1261.0,981.7 1244.5,986.4 1232.7,967.5 1223.2,951.0Z" fill="#f09a70" filter="url(#fs0)"/><path d="M1251.6,991.1 1272.8,993.5 1287.0,1010.0 1287.0,1026.6 1281.1,1036.0 1268.1,1038.4 1256.3,1026.6 1249.2,1010.0Z" fill="#f7c49a" filter="url(#fm1)"/><path d="M1251.6,991.1 1272.8,993.5 1287.0,1010.0 1287.0,1026.6 1281.1,1036.0 1268.1,1038.4 1256.3,1026.6 1249.2,1010.0Z" fill="#f7e3b7" filter="url(#fm2)"/><path d="M1237.4,1019.5 1253.9,1028.9 1268.1,1045.5 1270.4,1062.0 1261.0,1076.2 1249.2,1052.6 1239.7,1033.7Z" fill="#f7c49a" filter="url(#fs3)"/><path d="M1467.6,704.0 1484.4,695.6 1509.6,691.4 1539.0,693.5 1570.5,697.7 1601.9,699.8 1633.4,704.0 1649.8,706.1 1671.0,704.0 1692.0,706.1 1713.0,712.4 1719.3,720.8 1713.0,729.2 1710.9,746.0 1692.0,750.2 1671.0,746.0 1650.0,750.2 1622.9,754.4 1591.5,767.0 1570.5,762.8 1560.0,746.0 1547.4,737.6 1539.0,746.0 1530.6,746.0 1501.2,741.8 1497.0,752.7 1484.4,746.0 1476.0,737.6Z" fill="#7da3bf" filter="url(#fs4)"/><path d="M1467.6,704.0 1484.4,695.6 1509.6,691.4 1539.0,693.5 1570.5,697.7 1601.9,699.8 1633.4,704.0 1649.8,706.1 1671.0,704.0 1692.0,706.1 1713.0,712.4 1719.3,720.8 1713.0,729.2 1710.9,746.0 1692.0,750.2 1671.0,746.0 1650.0,750.2 1622.9,754.4 1591.5,767.0 1570.5,762.8 1560.0,746.0 1547.4,737.6 1539.0,746.0 1530.6,746.0 1501.2,741.8 1497.0,752.7 1484.4,746.0 1476.0,737.6Z" fill="#aabfc4" filter="url(#fm0)"/><path d="M1405.6,760.7 1405.6,752.3 1407.1,748.1 1413.0,746.0 1423.5,745.6 1432.9,743.9 1436.1,754.4 1430.2,763.2 1421.8,769.5 1411.3,767.4Z" fill="#f7e3b7" filter="url(#fm1)"/><path d="M1405.6,760.7 1405.6,752.3 1407.1,748.1 1413.0,746.0 1423.5,745.6 1432.9,743.9 1436.1,754.4 1430.2,763.2 1421.8,769.5 1411.3,767.4Z" fill="#f7c49a" filter="url(#fs2)"/><path d="M1422.4,730.2 1434.0,721.2 1448.7,712.4 1463.4,706.1 1470.7,697.7 1476.0,704.0 1484.4,708.2 1480.2,720.8 1476.0,733.4 1467.6,744.3 1455.0,748.5 1448.7,744.3 1438.2,746.4 1432.9,743.9 1428.1,737.6Z" fill="#aabfc4" filter="url(#fm3)"/><path d="M1422.4,730.2 1434.0,721.2 1448.7,712.4 1463.4,706.1 1470.7,697.7 1476.0,704.0 1484.4,708.2 1480.2,720.8 1476.0,733.4 1467.6,744.3 1455.0,748.5 1448.7,744.3 1438.2,746.4 1432.9,743.9 1428.1,737.6Z" fill="#d8dfc6" filter="url(#fm4)"/><path d="M1452.9,744.3 1467.6,743.9 1484.4,746.0 1497.0,752.7 1494.9,764.9 1484.4,758.6 1476.0,762.8 1463.4,752.3Z" fill="#f7e3b7" filter="url(#fm0)"/><path d="M1452.9,744.3 1467.6,743.9 1484.4,746.0 1497.0,752.7 1494.9,764.9 1484.4,758.6 1476.0,762.8 1463.4,752.3Z" fill="#aabfc4" filter="url(#fs1)"/><path d="M1476.0,704.0 1497.0,699.8 1505.4,708.2 1505.4,725.0 1501.2,741.8 1497.0,752.7 1484.4,746.0 1476.0,737.6 1478.1,720.8Z" fill="#7da3bf" filter="url(#fm2)"/><path d="M1476.0,704.0 1497.0,699.8 1505.4,708.2 1505.4,725.0 1501.2,741.8 1497.0,752.7 1484.4,746.0 1476.0,737.6 1478.1,720.8Z" fill="#d8dfc6" filter="url(#fm3)"/><path d="M1484.4,699.8 1509.6,695.6 1539.0,699.8 1560.0,704.0 1591.5,704.0 1618.7,708.2 1620.8,716.6 1597.8,712.4 1560.0,712.4 1534.8,716.6 1509.6,720.8 1501.2,710.3Z" fill="#7da3bf" filter="url(#fm4)"/><path d="M1501.2,733.4 1513.8,725.0 1530.6,718.7 1551.6,712.4 1568.4,710.3 1591.5,712.4 1612.4,718.7 1616.6,729.2 1601.9,731.3 1585.2,722.9 1564.2,720.8 1547.4,725.0 1539.0,733.4 1543.2,743.9 1530.6,746.0 1522.2,737.6 1513.8,741.8 1501.2,741.8Z" fill="#5a8cb3" filter="url(#fd0)"/><path d="M1501.2,733.4 1513.8,725.0 1530.6,718.7 1551.6,712.4 1568.4,710.3 1591.5,712.4 1612.4,718.7 1616.6,729.2 1601.9,731.3 1585.2,722.9 1564.2,720.8 1547.4,725.0 1539.0,733.4 1543.2,743.9 1530.6,746.0 1522.2,737.6 1513.8,741.8 1501.2,741.8Z" fill="#4a82ad" filter="url(#fm1)"/><path d="M1560.0,725.0 1601.9,729.2 1627.1,737.6 1643.9,750.2 1622.9,767.0 1591.5,771.2 1570.5,762.8 1564.2,746.0Z" fill="#7da3bf" filter="url(#fs2)"/><path d="M1612.2,718.7 1650.0,720.8 1681.5,725.0 1713.0,729.2 1713.0,738.6 1681.5,736.5 1650.0,732.3 1612.2,729.2Z" fill="#5a8cb3" filter="url(#fm3)"/><path d="M1612.2,718.7 1650.0,720.8 1681.5,725.0 1713.0,729.2 1713.0,738.6 1681.5,736.5 1650.0,732.3 1612.2,729.2Z" fill="#7da3bf" filter="url(#fm4)"/><path d="M1501.6,754.8 1514.2,756.9 1531.0,754.8 1539.0,756.5 1534.8,764.9 1524.7,767.4 1516.3,765.3 1505.8,765.3Z" fill="#7da3bf" filter="url(#fm0)"/><path d="M1501.6,754.8 1514.2,756.9 1531.0,754.8 1539.0,756.5 1534.8,764.9 1524.7,767.4 1516.3,765.3 1505.8,765.3Z" fill="#d8dfc6" filter="url(#fm1)"/><path d="M1534.8,764.9 1547.4,762.8 1560.0,775.4 1572.6,790.1 1568.4,794.3 1555.8,783.8 1539.0,775.4 1526.4,771.2 1524.7,779.6 1522.2,767.0Z" fill="#7da3bf" filter="url(#fs2)"/><path d="M1524.7,767.4 1539.0,764.9 1560.0,775.4 1572.6,790.1 1565.2,785.9 1562.1,788.0 1572.6,803.1 1560.0,809.0 1539.0,800.6 1528.5,788.0Z" fill="#7da3bf" filter="url(#fs3)"/><path d="M1601.9,746.0 1620.8,748.1 1620.8,767.0 1610.3,771.2 1601.9,762.8Z" fill="#7da3bf" filter="url(#fs4)"/><path d="M1642.3,794.3 1641.6,798.9 1639.8,803.2 1636.9,806.5 1633.3,808.6 1629.2,809.4 1625.2,808.6 1621.6,806.5 1618.7,803.2 1616.9,798.9 1616.2,794.3 1616.9,789.6 1618.7,785.4 1621.6,782.0 1625.2,779.9 1629.2,779.1 1633.3,779.9 1636.9,782.0 1639.8,785.4 1641.6,789.6Z" fill="#7da3bf" filter="url(#fm0)"/><path d="M1642.3,794.3 1641.6,798.9 1639.8,803.2 1636.9,806.5 1633.3,808.6 1629.2,809.4 1625.2,808.6 1621.6,806.5 1618.7,803.2 1616.9,798.9 1616.2,794.3 1616.9,789.6 1618.7,785.4 1621.6,782.0 1625.2,779.9 1629.2,779.1 1633.3,779.9 1636.9,782.0 1639.8,785.4 1641.6,789.6Z" fill="#d8dfc6" filter="url(#fm1)"/><path d="M1620.8,809.0 1639.7,804.8 1648.1,815.3 1639.7,825.8 1631.3,822.6Z" fill="#d8dfc6" filter="url(#fm2)"/><path d="M1615.6,776.4 1622.9,775.4 1633.4,785.9 1643.9,794.3 1658.6,800.6 1673.3,805.8 1690.1,806.9 1700.0,803.7 1702.5,803.7 1710.9,798.5 1713.0,806.9 1706.7,815.3 1693.7,820.5 1688.5,820.0 1683.8,829.4 1674.4,843.6 1667.3,857.8 1661.8,870.1 1655.5,860.6 1648.4,846.5 1641.3,832.3 1638.9,820.0 1638.9,819.9 1643.9,815.3 1641.8,804.8 1631.3,788.0 1620.8,783.8Z" fill="#f7c49a" filter="url(#fd3)"/><path d="M1615.6,776.4 1622.9,775.4 1633.4,785.9 1643.9,794.3 1658.6,800.6 1673.3,805.8 1690.1,806.9 1700.0,803.7 1702.5,803.7 1710.9,798.5 1713.0,806.9 1706.7,815.3 1693.7,820.5 1688.5,820.0 1683.8,829.4 1674.4,843.6 1667.3,857.8 1661.8,870.1 1655.5,860.6 1648.4,846.5 1641.3,832.3 1638.9,820.0 1638.9,819.9 1643.9,815.3 1641.8,804.8 1631.3,788.0 1620.8,783.8Z" fill="#f7e3b7" filter="url(#fm4)"/><path d="M1615.6,776.4 1622.9,775.4 1633.4,785.9 1643.9,794.3 1658.6,800.6 1673.3,805.8 1690.1,806.9 1700.0,803.7 1702.5,803.7 1710.9,798.5 1713.0,806.9 1706.7,815.3 1693.7,820.5 1688.5,820.0 1683.8,829.4 1674.4,843.6 1667.3,857.8 1661.8,870.1 1655.5,860.6 1648.4,846.5 1641.3,832.3 1638.9,820.0 1638.9,819.9 1643.9,815.3 1641.8,804.8 1631.3,788.0 1620.8,783.8Z" fill="#f09a70" filter="url(#fs0)"/><path d="M1622.9,779.6 1643.9,794.3 1658.6,800.6 1673.3,805.8 1690.1,806.9 1706.9,802.7 1706.9,813.2 1685.9,815.3 1664.9,813.2 1648.1,806.9 1631.3,794.3Z" fill="#e25a42" filter="url(#fm1)"/><path d="M1402.5,786.3 1409.2,777.9 1419.7,771.6 1434.4,768.2 1449.1,767.0 1459.6,771.6 1467.6,781.7 1459.2,779.6 1448.7,773.3 1434.0,774.3 1419.3,777.5 1408.8,785.9Z" fill="#f7c49a" filter="url(#fs2)"/><path d="M1379.4,847.8 1413.0,847.8 1455.0,851.0 1497.0,853.1 1528.5,849.9 1555.8,853.1 1555.8,858.3 1528.5,855.2 1497.0,858.3 1455.0,856.2 1413.0,853.1 1379.4,853.1Z" fill="#f7e3b7" filter="url(#fm3)"/><path d="M1379.4,847.8 1413.0,847.8 1455.0,851.0 1497.0,853.1 1528.5,849.9 1555.8,853.1 1555.8,858.3 1528.5,855.2 1497.0,858.3 1455.0,856.2 1413.0,853.1 1379.4,853.1Z" fill="#f7c49a" filter="url(#fm4)"/><path d="M1379.4,843.0 1413.0,843.0 1455.0,846.3 1497.0,848.4 1528.5,845.1 1555.8,849.3 1555.8,853.5 1528.5,850.5 1497.0,853.5 1455.0,851.4 1413.0,848.4 1379.4,848.4Z" fill="#5a8cb3" filter="url(#fd0)"/><path d="M1379.4,843.0 1413.0,843.0 1455.0,846.3 1497.0,848.4 1528.5,845.1 1555.8,849.3 1555.8,853.5 1528.5,850.5 1497.0,853.5 1455.0,851.4 1413.0,848.4 1379.4,848.4Z" fill="#7da3bf" filter="url(#fd1)"/><path d="M1379.4,843.0 1413.0,843.0 1455.0,846.3 1497.0,848.4 1528.5,845.1 1555.8,849.3 1555.8,853.5 1528.5,850.5 1497.0,853.5 1455.0,851.4 1413.0,848.4 1379.4,848.4Z" fill="#4a82ad" filter="url(#fm2)"/><path d="M1380.3,844.7 1409.8,849.4 1457.0,854.2 1500.0,856.5 1518.4,857.7 1518.4,864.8 1500.0,864.8 1466.5,868.3 1461.7,887.2 1445.2,868.3 1400.3,866.0 1386.2,856.5Z" fill="#f09a70" filter="url(#fm3)"/><path d="M1382.6,854.2 1388.5,866.0 1395.6,877.8 1405.1,883.7 1416.9,882.5 1428.7,879.0 1440.5,875.4 1449.9,882.5 1461.7,889.6 1459.4,880.1 1445.2,868.3 1428.7,868.3 1414.5,870.7 1400.3,866.0 1390.9,854.2Z" fill="#d93a2c" filter="url(#fd4)"/><path d="M1382.6,854.2 1388.5,866.0 1395.6,877.8 1405.1,883.7 1416.9,882.5 1428.7,879.0 1440.5,875.4 1449.9,882.5 1461.7,889.6 1459.4,880.1 1445.2,868.3 1428.7,868.3 1414.5,870.7 1400.3,866.0 1390.9,854.2Z" fill="#e25a42" filter="url(#fm0)"/><path d="M1450.0,887.3 1485.4,888.5 1516.1,888.5 1520.9,914.5 1511.4,942.8 1478.3,947.5 1468.9,926.3 1461.8,914.5 1457.1,902.7Z" fill="#f7c49a" filter="url(#fs1)"/><path d="M1450.0,887.3 1485.4,888.5 1516.1,888.5 1520.9,914.5 1511.4,942.8 1478.3,947.5 1468.9,926.3 1461.8,914.5 1457.1,902.7Z" fill="#e25a42" filter="url(#fs2)"/><path d="M1513.8,881.4 1535.0,867.2 1553.9,864.9 1551.6,890.9 1553.9,907.4 1547.3,924.1 1548.5,938.3 1539.7,952.3 1525.6,947.5 1516.1,928.6 1513.8,905.0Z" fill="#e25a42" filter="url(#fs3)"/><path d="M1513.8,881.4 1535.0,867.2 1553.9,864.9 1551.6,890.9 1553.9,907.4 1547.3,924.1 1548.5,938.3 1539.7,952.3 1525.6,947.5 1516.1,928.6 1513.8,905.0Z" fill="#f09a70" filter="url(#fm4)"/><path d="M1533.8,834.2 1544.5,838.9 1553.9,863.9 1549.2,879.0 1539.7,881.4 1532.7,867.2 1531.5,848.3Z" fill="#e25a42" filter="url(#fm0)"/><path d="M1533.8,834.2 1544.5,838.9 1553.9,863.9 1549.2,879.0 1539.7,881.4 1532.7,867.2 1531.5,848.3Z" fill="#f09a70" filter="url(#fm1)"/><path d="M1464.2,952.3 1497.2,942.8 1527.9,952.3 1530.3,973.5 1518.5,999.5 1493.0,1021.0 1481.2,1023.3 1473.6,999.5 1464.2,971.1Z" fill="#f7c49a" filter="url(#fs2)"/><path d="M1464.2,952.3 1497.2,942.8 1527.9,952.3 1530.3,973.5 1518.5,999.5 1493.0,1021.0 1481.2,1023.3 1473.6,999.5 1464.2,971.1Z" fill="#f7e3b7" filter="url(#fs3)"/><path d="M1520.9,942.8 1547.3,942.8 1547.3,952.5 1540.2,964.3 1530.8,973.7 1528.4,987.9 1519.0,999.7 1507.2,1013.9 1497.2,1008.9 1511.4,990.0 1520.9,971.1Z" fill="#f09a70" filter="url(#fm4)"/><path d="M1520.9,942.8 1547.3,942.8 1547.3,952.5 1540.2,964.3 1530.8,973.7 1528.4,987.9 1519.0,999.7 1507.2,1013.9 1497.2,1008.9 1511.4,990.0 1520.9,971.1Z" fill="#f7c49a" filter="url(#fm0)"/><path d="M1572.8,947.8 1577.8,954.9 1573.0,969.0 1566.0,985.6 1561.0,990.0 1563.4,975.9 1568.1,959.3Z" fill="#e25a42" filter="url(#fm1)"/><path d="M1713.0,729.2 1721.4,720.8 1734.0,718.7 1744.5,725.0 1752.9,737.6 1755.0,750.2 1746.6,754.4 1740.3,762.8 1727.7,767.0 1717.2,758.6 1710.9,746.0Z" fill="#7da3bf" filter="url(#fd2)"/><path d="M1713.0,729.2 1721.4,720.8 1734.0,718.7 1744.5,725.0 1752.9,737.6 1755.0,750.2 1746.6,754.4 1740.3,762.8 1727.7,767.0 1717.2,758.6 1710.9,746.0Z" fill="#5a8cb3" filter="url(#fm3)"/><path d="M1717.2,758.6 1740.3,762.8 1748.7,767.0 1759.2,779.6 1763.4,788.0 1750.8,792.2 1734.0,788.0 1721.4,779.6 1715.1,767.0Z" fill="#7da3bf" filter="url(#fm4)"/><path d="M1717.2,758.6 1740.3,762.8 1748.7,767.0 1759.2,779.6 1763.4,788.0 1750.8,792.2 1734.0,788.0 1721.4,779.6 1715.1,767.0Z" fill="#f7c49a" filter="url(#fm0)"/><path d="M1748.7,754.4 1755.0,756.9 1763.4,767.0 1759.6,771.6 1755.0,765.3Z" fill="#f7c49a" filter="url(#fm1)"/><path d="M1681.5,779.6 1702.5,767.0 1721.4,779.6 1734.0,788.0 1763.4,788.0 1765.9,794.7 1763.4,805.2 1755.0,813.6 1746.6,819.9 1738.2,824.1 1734.0,822.0 1719.3,821.6 1704.6,809.0 1687.8,800.6Z" fill="#f09a70" filter="url(#fd2)"/><path d="M1681.5,779.6 1702.5,767.0 1721.4,779.6 1734.0,788.0 1763.4,788.0 1765.9,794.7 1763.4,805.2 1755.0,813.6 1746.6,819.9 1738.2,824.1 1734.0,822.0 1719.3,821.6 1704.6,809.0 1687.8,800.6Z" fill="#e25a42" filter="url(#fm3)"/><path d="M1681.5,779.6 1704.6,783.8 1713.0,800.6 1719.3,821.6 1713.0,830.0 1700.4,821.6 1687.8,809.0 1679.4,796.4Z" fill="#e25a42" filter="url(#fm4)"/><path d="M1681.5,779.6 1704.6,783.8 1713.0,800.6 1719.3,821.6 1713.0,830.0 1700.4,821.6 1687.8,809.0 1679.4,796.4Z" fill="#f09a70" filter="url(#fd0)"/><path d="M1687.8,809.0 1700.4,821.6 1713.0,830.0 1734.0,822.0 1734.4,826.8 1740.3,838.8 1748.7,849.3 1747.0,857.7 1751.1,848.3 1752.8,855.4 1748.0,863.0 1738.6,855.9 1729.1,848.8 1726.8,855.9 1731.5,867.7 1738.6,881.9 1742.4,893.7 1738.6,892.0 1729.1,874.8 1724.4,860.6 1719.7,848.8 1710.3,841.7 1703.2,832.3 1693.7,820.5 1685.7,829.9Z" fill="#f09a70" filter="url(#fd1)"/><path d="M1687.8,809.0 1700.4,821.6 1713.0,830.0 1734.0,822.0 1734.4,826.8 1740.3,838.8 1748.7,849.3 1747.0,857.7 1751.1,848.3 1752.8,855.4 1748.0,863.0 1738.6,855.9 1729.1,848.8 1726.8,855.9 1731.5,867.7 1738.6,881.9 1742.4,893.7 1738.6,892.0 1729.1,874.8 1724.4,860.6 1719.7,848.8 1710.3,841.7 1703.2,832.3 1693.7,820.5 1685.7,829.9Z" fill="#e25a42" filter="url(#fm2)"/><path d="M1776.0,740.1 1786.9,743.9 1784.4,749.1 1777.0,746.0ZM1784.4,754.8 1795.3,763.2 1799.5,771.6 1793.2,775.8 1784.8,782.1 1778.5,782.1 1780.6,775.8 1789.0,769.5 1786.9,761.1Z" fill="#f09a70" filter="url(#fm3)"/><path d="M1714.5,879.0 1721.6,881.4 1733.4,895.6 1745.2,909.7 1747.6,919.2 1740.5,919.2 1728.7,907.4 1719.2,893.2Z" fill="#d93a2c" filter="url(#fd4)"/><path d="M1747.2,923.9 1761.4,927.5 1775.6,929.8 1789.8,931.0 1803.9,929.8 1807.5,932.2 1799.2,936.9 1785.0,935.7 1770.9,933.4 1756.7,931.0 1746.1,927.5ZM1795.7,936.9 1805.1,931.0 1807.5,933.4 1798.0,939.3Z" fill="#e25a42" filter="url(#fd0)"/><path d="M1756.7,895.6 1765.0,890.9 1775.6,879.1 1782.7,876.7 1783.9,883.8 1782.7,895.6 1778.0,905.0 1770.9,913.3 1762.6,910.9 1757.9,903.9Z" fill="#e25a42" filter="url(#fd1)"/><path d="M1777.8,891.1 1778.8,893.5 1779.1,895.9 1778.8,898.3 1777.7,900.2 1776.2,901.6 1774.2,902.2 1772.0,902.1 1769.8,901.3 1767.9,899.8 1766.3,897.7 1765.3,895.3 1765.0,892.9 1765.3,890.6 1766.3,888.6 1767.9,887.2 1769.9,886.6 1772.1,886.7 1774.3,887.5 1776.2,889.1Z" fill="#ffffff" filter="url(#fm2)"/><path d="M1787.4,900.3 1794.5,896.8 1803.9,895.6 1799.2,901.5 1793.3,905.0 1795.7,916.9 1792.1,919.2 1789.8,912.1 1786.2,919.2 1785.5,907.4ZM1811.0,893.2 1814.6,892.0 1813.4,901.5 1810.6,900.3Z" fill="#e25a42" filter="url(#fm3)"/><path d="M1779.1,834.2 1783.9,833.0 1786.2,843.6 1790.9,850.7 1799.2,855.4 1803.9,864.9 1806.3,874.3 1800.4,877.9 1795.7,870.8 1792.1,862.5 1787.4,855.4 1781.5,846.0ZM1778.0,867.2 1783.9,860.2 1785.0,862.5 1779.1,869.6Z" fill="#d93a2c" filter="url(#fd4)"/><path d="M1822.8,902.7 1832.3,905.0 1841.7,909.8 1851.2,908.6 1860.6,913.3 1867.7,921.6 1872.4,931.0 1876.0,936.9 1870.1,935.7 1863.0,931.0 1853.5,933.4 1846.5,931.0 1841.7,921.6 1834.6,914.5 1827.6,909.8ZM1874.8,920.4 1886.6,914.5 1889.0,916.9 1879.5,922.8ZM1893.7,921.6 1900.8,927.5 1910.2,936.9 1907.9,938.1 1899.6,929.8 1892.5,923.5Z" fill="#f09a70" filter="url(#fm0)"/><path d="M1822.8,902.7 1832.3,905.0 1841.7,909.8 1851.2,908.6 1860.6,913.3 1867.7,921.6 1872.4,931.0 1876.0,936.9 1870.1,935.7 1863.0,931.0 1853.5,933.4 1846.5,931.0 1841.7,921.6 1834.6,914.5 1827.6,909.8ZM1874.8,920.4 1886.6,914.5 1889.0,916.9 1879.5,922.8ZM1893.7,921.6 1900.8,927.5 1910.2,936.9 1907.9,938.1 1899.6,929.8 1892.5,923.5Z" fill="#e25a42" filter="url(#fs1)"/><path d="M1667.3,867.2 1673.2,870.8 1672.0,877.9 1667.3,875.5Z" fill="#e25a42" filter="url(#ff)"/><path d="M1771.4,810.0 1774.3,811.5 1773.9,817.4 1771.8,816.3ZM1745.5,828.9 1749.7,827.9 1750.4,832.1 1746.2,833.1Z" fill="#f7c49a" filter="url(#fd3)"/><path d="M1904.7,975.7 1905.0,977.6 1904.4,979.1 1903.1,979.6 1901.7,978.8 1900.7,977.1 1900.4,975.1 1901.0,973.6 1902.2,973.2 1903.6,974.0ZM1949.3,963.8 1949.2,964.8 1948.3,965.8 1946.9,966.3 1945.6,966.1 1944.9,965.4 1945.0,964.3 1945.9,963.3 1947.2,962.8 1948.6,963.0Z" fill="#e25a42" filter="url(#ff)"/><path d="M1736.6,1023.1 1742.5,1013.7 1746.1,1001.9 1753.1,1006.6 1756.7,1018.4 1752.0,1020.8 1742.5,1024.3Z" fill="#f09a70" filter="url(#fm0)"/><path d="M1793.3,1032.6 1792.1,1023.1 1803.9,1020.8 1822.8,1016.1 1837.0,1006.6 1851.2,994.8 1859.4,985.4 1859.4,994.8 1851.2,1006.6 1841.7,1013.7 1832.3,1023.1 1822.8,1030.2 1811.0,1032.6 1799.2,1035.0Z" fill="#f7c49a" filter="url(#fm1)"/><path d="M1793.3,1032.6 1792.1,1023.1 1803.9,1020.8 1822.8,1016.1 1837.0,1006.6 1851.2,994.8 1859.4,985.4 1859.4,994.8 1851.2,1006.6 1841.7,1013.7 1832.3,1023.1 1822.8,1030.2 1811.0,1032.6 1799.2,1035.0Z" fill="#f09a70" filter="url(#fs2)"/><path d="M1826.4,1064.5 1834.6,1058.6 1851.2,1050.3 1865.4,1044.4 1874.8,1039.7 1884.3,1030.2 1889.0,1025.5 1890.2,1032.6 1886.6,1036.1 1879.5,1040.9 1870.1,1045.6 1853.5,1053.9 1839.4,1060.9 1828.7,1065.7Z" fill="#f7e3b7" filter="url(#fs3)"/></g><use href="#holesW" fill="#aedcf2" filter="url(#rough)"/></g></g>
<clipPath id="cp_e"><rect x="1057" y="621" width="918.2" height="489.4000000000001"/></clipPath>
<rect x="1057" y="621" width="918.2" height="489.4000000000001" fill="#aedcf2" stroke="#dbe9f3" stroke-width="0.9"/>
<g clip-path="url(#cp_e)"><g  filter="url(#soft)"><use href="#landW" fill="#fff" filter="url(#rough)"/><g mask="url(#maskW)"><path d="M1113.0,754.4 1134.0,729.2 1155.0,712.4 1171.8,704.0 1197.0,710.3 1218.0,725.0 1239.0,733.4 1272.6,737.6 1272.6,746.0 1251.6,754.4 1239.0,764.9 1218.0,782.1 1205.8,790.5 1197.0,792.6 1180.2,794.7 1159.2,801.0 1150.8,804.8 1134.0,792.2 1113.0,783.8Z" fill="#aabfc4" filter="url(#fm0)"/><path d="M1113.0,754.4 1134.0,729.2 1155.0,712.4 1171.8,704.0 1197.0,710.3 1218.0,725.0 1239.0,733.4 1272.6,737.6 1272.6,746.0 1251.6,754.4 1239.0,764.9 1218.0,782.1 1205.8,790.5 1197.0,792.6 1180.2,794.7 1159.2,801.0 1150.8,804.8 1134.0,792.2 1113.0,783.8Z" fill="#7da3bf" filter="url(#fs1)"/><path d="M1140.3,737.6 1155.0,712.4 1171.8,704.0 1197.0,710.3 1218.0,725.0 1239.0,737.6 1251.6,746.0 1239.0,758.6 1222.2,771.2 1205.4,783.8 1184.4,792.2 1159.2,798.5 1150.8,804.8 1146.6,792.2 1134.0,767.0 1138.2,746.0Z" fill="#7da3bf" filter="url(#fm2)"/><path d="M1140.3,737.6 1155.0,712.4 1171.8,704.0 1197.0,710.3 1218.0,725.0 1239.0,737.6 1251.6,746.0 1239.0,758.6 1222.2,771.2 1205.4,783.8 1184.4,792.2 1159.2,798.5 1150.8,804.8 1146.6,792.2 1134.0,767.0 1138.2,746.0Z" fill="#aabfc4" filter="url(#fm3)"/><path d="M1167.6,725.0 1180.2,716.6 1197.0,714.5 1209.6,720.8 1211.7,733.4 1203.3,746.0 1197.0,758.6 1186.5,767.0 1171.8,775.4 1159.2,783.8 1150.8,788.0 1152.9,775.4 1163.4,762.8 1169.7,750.2 1167.6,737.6Z" fill="#5a8cb3" filter="url(#fd4)"/><path d="M1167.6,725.0 1180.2,716.6 1197.0,714.5 1209.6,720.8 1211.7,733.4 1203.3,746.0 1197.0,758.6 1186.5,767.0 1171.8,775.4 1159.2,783.8 1150.8,788.0 1152.9,775.4 1163.4,762.8 1169.7,750.2 1167.6,737.6Z" fill="#4a82ad" filter="url(#fm0)"/><path d="M1113.0,754.4 1134.0,737.6 1148.7,746.0 1144.5,788.0 1129.8,792.2 1113.0,783.8Z" fill="#aabfc4" filter="url(#fm1)"/><path d="M1184.4,783.8 1205.4,767.0 1230.6,754.4 1251.6,746.0 1260.0,748.5 1239.0,764.9 1218.0,782.1 1205.8,790.5 1205.8,807.3 1200.3,807.3 1197.0,792.6 1188.6,790.5Z" fill="#f7e3b7" filter="url(#fs2)"/><path d="M1197.0,737.6 1218.0,725.0 1239.0,737.6 1272.6,737.6 1272.6,746.0 1251.6,754.4 1239.0,764.9 1218.0,782.1 1205.8,790.5 1197.0,792.6 1188.6,790.5 1180.2,794.7 1184.4,779.6 1192.8,762.8Z" fill="#7da3bf" filter="url(#fs3)"/><path d="M1230.6,737.6 1251.6,733.4 1272.6,737.6 1272.6,746.0 1251.6,754.4 1234.8,750.2Z" fill="#aabfc4" filter="url(#fm4)"/><path d="M1121.4,788.0 1140.3,785.9 1155.0,804.8 1152.9,830.0 1159.2,836.3 1176.0,821.6 1179.1,830.0 1173.9,840.5 1185.4,851.0 1184.4,860.0 1167.6,853.1 1150.8,842.6 1134.0,839.4 1125.6,821.6 1122.4,804.8Z" fill="#f7c49a" filter="url(#fm0)"/><path d="M1121.4,788.0 1140.3,785.9 1155.0,804.8 1152.9,830.0 1159.2,836.3 1176.0,821.6 1179.1,830.0 1173.9,840.5 1185.4,851.0 1184.4,860.0 1167.6,853.1 1150.8,842.6 1134.0,839.4 1125.6,821.6 1122.4,804.8Z" fill="#e25a42" filter="url(#fm1)"/><path d="M1150.0,837.6 1183.1,847.1 1183.1,860.1 1197.2,871.9 1193.7,874.2 1178.3,867.2 1164.2,854.2 1150.0,842.4Z" fill="#e25a42" filter="url(#fd2)"/><path d="M1150.0,837.6 1183.1,847.1 1183.1,860.1 1197.2,871.9 1193.7,874.2 1178.3,867.2 1164.2,854.2 1150.0,842.4Z" fill="#d93a2c" filter="url(#fm3)"/><path d="M1187.5,818.4 1194.9,815.7 1203.3,818.4 1211.7,824.7 1212.7,827.9 1205.4,825.3 1197.0,820.5 1189.6,820.5ZM1213.8,832.1 1220.1,828.9 1228.5,830.0 1230.6,833.1 1222.2,834.6 1214.8,834.6ZM1202.2,833.1 1206.4,832.5 1206.4,835.2 1202.6,835.6ZM1234.8,833.1 1237.9,833.1 1237.9,835.2 1234.8,835.2Z" fill="#e25a42" filter="url(#ff)"/><path d="M1196.1,870.7 1216.1,855.4 1246.8,862.4 1251.6,873.1 1230.3,880.1 1213.8,887.2 1200.8,903.8 1190.1,920.3 1185.4,915.6 1186.6,901.4 1192.5,892.0 1197.2,882.5Z" fill="#f09a70" filter="url(#fm0)"/><path d="M1196.1,870.7 1216.1,855.4 1246.8,862.4 1251.6,873.1 1230.3,880.1 1213.8,887.2 1200.8,903.8 1190.1,920.3 1185.4,915.6 1186.6,901.4 1192.5,892.0 1197.2,882.5Z" fill="#e25a42" filter="url(#fm1)"/><path d="M1185.4,910.9 1197.2,917.9 1211.4,939.2 1227.9,958.1 1235.0,981.7 1230.3,991.1 1220.9,967.5 1206.7,948.6 1192.5,929.7Z" fill="#f09a70" filter="url(#fs2)"/><path d="M1204.3,887.2 1249.2,877.8 1277.5,894.3 1277.5,910.9 1244.5,910.9 1220.9,929.7 1202.0,920.3Z" fill="#e25a42" filter="url(#fs3)"/><path d="M1249.2,906.1 1282.3,901.4 1301.1,908.5 1323.6,921.5 1324.8,929.7 1315.3,951.0 1313.0,974.6 1305.9,984.1 1296.4,991.1 1291.7,1010.0 1282.3,1005.3 1268.1,981.7 1258.6,962.8 1253.9,939.2 1244.5,920.3Z" fill="#f7e3b7" filter="url(#fd4)"/><path d="M1249.2,906.1 1282.3,901.4 1301.1,908.5 1323.6,921.5 1324.8,929.7 1315.3,951.0 1313.0,974.6 1305.9,984.1 1296.4,991.1 1291.7,1010.0 1282.3,1005.3 1268.1,981.7 1258.6,962.8 1253.9,939.2 1244.5,920.3Z" fill="#f7c49a" filter="url(#fm0)"/><path d="M1249.2,906.1 1282.3,901.4 1301.1,908.5 1323.6,921.5 1324.8,929.7 1315.3,951.0 1313.0,974.6 1305.9,984.1 1296.4,991.1 1291.7,1010.0 1282.3,1005.3 1268.1,981.7 1258.6,962.8 1253.9,939.2 1244.5,920.3Z" fill="#f09a70" filter="url(#fs1)"/><path d="M1244.5,910.9 1263.4,906.1 1282.3,901.4 1301.1,908.5 1305.9,920.3 1291.7,925.0 1272.8,922.7 1253.9,925.0 1244.5,920.3Z" fill="#e25a42" filter="url(#fm2)"/><path d="M1244.5,910.9 1263.4,906.1 1282.3,901.4 1301.1,908.5 1305.9,920.3 1291.7,925.0 1272.8,922.7 1253.9,925.0 1244.5,920.3Z" fill="#f09a70" filter="url(#fm3)"/><path d="M1301.1,908.5 1323.6,921.5 1324.8,929.7 1315.3,951.0 1301.1,943.9 1296.4,925.0Z" fill="#f7e3b7" filter="url(#fd4)"/><path d="M1263.4,929.7 1301.1,943.9 1315.3,951.0 1313.0,974.6 1296.4,991.1 1282.3,981.7 1268.1,962.8 1261.0,943.9Z" fill="#f09a70" filter="url(#fm0)"/><path d="M1263.4,929.7 1301.1,943.9 1315.3,951.0 1313.0,974.6 1296.4,991.1 1282.3,981.7 1268.1,962.8 1261.0,943.9Z" fill="#e25a42" filter="url(#fs1)"/><path d="M1268.1,972.3 1296.4,972.3 1305.9,984.1 1294.1,1000.6 1291.7,1010.0 1282.3,1005.3 1272.8,991.1Z" fill="#f09a70" filter="url(#fd2)"/><path d="M1268.1,972.3 1296.4,972.3 1305.9,984.1 1294.1,1000.6 1291.7,1010.0 1282.3,1005.3 1272.8,991.1Z" fill="#e25a42" filter="url(#fd3)"/><path d="M1220.9,929.7 1249.2,925.0 1263.4,939.2 1268.1,962.8 1261.0,981.7 1244.5,986.4 1232.7,967.5 1223.2,951.0Z" fill="#f09a70" filter="url(#fs4)"/><path d="M1220.9,929.7 1249.2,925.0 1263.4,939.2 1268.1,962.8 1261.0,981.7 1244.5,986.4 1232.7,967.5 1223.2,951.0Z" fill="#e25a42" filter="url(#fs0)"/><path d="M1251.6,991.1 1272.8,993.5 1287.0,1010.0 1287.0,1026.6 1281.1,1036.0 1268.1,1038.4 1256.3,1026.6 1249.2,1010.0Z" fill="#aabfc4" filter="url(#fd1)"/><path d="M1251.6,991.1 1272.8,993.5 1287.0,1010.0 1287.0,1026.6 1281.1,1036.0 1268.1,1038.4 1256.3,1026.6 1249.2,1010.0Z" fill="#7da3bf" filter="url(#fm2)"/><path d="M1251.6,991.1 1272.8,993.5 1287.0,1010.0 1287.0,1026.6 1281.1,1036.0 1268.1,1038.4 1256.3,1026.6 1249.2,1010.0Z" fill="#d8dfc6" filter="url(#fm3)"/><path d="M1237.4,1019.5 1253.9,1028.9 1268.1,1045.5 1270.4,1062.0 1261.0,1076.2 1249.2,1052.6 1239.7,1033.7Z" fill="#f7c49a" filter="url(#fs4)"/><path d="M1467.6,704.0 1484.4,695.6 1509.6,691.4 1539.0,693.5 1570.5,697.7 1601.9,699.8 1633.4,704.0 1649.8,706.1 1671.0,704.0 1692.0,706.1 1713.0,712.4 1719.3,720.8 1713.0,729.2 1710.9,746.0 1692.0,750.2 1671.0,746.0 1650.0,750.2 1622.9,754.4 1591.5,767.0 1570.5,762.8 1560.0,746.0 1547.4,737.6 1539.0,746.0 1530.6,746.0 1501.2,741.8 1497.0,752.7 1484.4,746.0 1476.0,737.6Z" fill="#7da3bf" filter="url(#fs0)"/><path d="M1467.6,704.0 1484.4,695.6 1509.6,691.4 1539.0,693.5 1570.5,697.7 1601.9,699.8 1633.4,704.0 1649.8,706.1 1671.0,704.0 1692.0,706.1 1713.0,712.4 1719.3,720.8 1713.0,729.2 1710.9,746.0 1692.0,750.2 1671.0,746.0 1650.0,750.2 1622.9,754.4 1591.5,767.0 1570.5,762.8 1560.0,746.0 1547.4,737.6 1539.0,746.0 1530.6,746.0 1501.2,741.8 1497.0,752.7 1484.4,746.0 1476.0,737.6Z" fill="#f7e3b7" filter="url(#fs1)"/><path d="M1405.6,760.7 1405.6,752.3 1407.1,748.1 1413.0,746.0 1423.5,745.6 1432.9,743.9 1436.1,754.4 1430.2,763.2 1421.8,769.5 1411.3,767.4Z" fill="#7da3bf" filter="url(#fd2)"/><path d="M1405.6,760.7 1405.6,752.3 1407.1,748.1 1413.0,746.0 1423.5,745.6 1432.9,743.9 1436.1,754.4 1430.2,763.2 1421.8,769.5 1411.3,767.4Z" fill="#5a8cb3" filter="url(#fm3)"/><path d="M1422.4,730.2 1434.0,721.2 1448.7,712.4 1463.4,706.1 1470.7,697.7 1476.0,704.0 1484.4,708.2 1480.2,720.8 1476.0,733.4 1467.6,744.3 1455.0,748.5 1448.7,744.3 1438.2,746.4 1432.9,743.9 1428.1,737.6Z" fill="#7da3bf" filter="url(#fd4)"/><path d="M1422.4,730.2 1434.0,721.2 1448.7,712.4 1463.4,706.1 1470.7,697.7 1476.0,704.0 1484.4,708.2 1480.2,720.8 1476.0,733.4 1467.6,744.3 1455.0,748.5 1448.7,744.3 1438.2,746.4 1432.9,743.9 1428.1,737.6Z" fill="#aabfc4" filter="url(#fm0)"/><path d="M1422.4,730.2 1434.0,721.2 1448.7,712.4 1463.4,706.1 1470.7,697.7 1476.0,704.0 1484.4,708.2 1480.2,720.8 1476.0,733.4 1467.6,744.3 1455.0,748.5 1448.7,744.3 1438.2,746.4 1432.9,743.9 1428.1,737.6Z" fill="#5a8cb3" filter="url(#fs1)"/><path d="M1419.3,702.3 1428.1,704.4 1430.2,712.8 1432.3,721.2 1421.8,723.3 1419.7,717.0 1422.9,710.7ZM1409.2,714.9 1415.5,712.8 1416.6,719.1 1410.3,720.1Z" fill="#7da3bf" filter="url(#fd2)"/><path d="M1442.4,698.1 1450.8,701.0 1459.2,697.7 1466.5,691.4 1467.6,683.0 1476.0,689.3 1484.4,693.5 1476.0,683.0 1467.6,676.7 1459.2,683.0 1448.7,689.3Z" fill="#7da3bf" filter="url(#fs3)"/><path d="M1452.9,744.3 1467.6,743.9 1484.4,746.0 1497.0,752.7 1494.9,764.9 1484.4,758.6 1476.0,762.8 1463.4,752.3Z" fill="#f7e3b7" filter="url(#fm4)"/><path d="M1452.9,744.3 1467.6,743.9 1484.4,746.0 1497.0,752.7 1494.9,764.9 1484.4,758.6 1476.0,762.8 1463.4,752.3Z" fill="#7da3bf" filter="url(#fm0)"/><path d="M1476.0,704.0 1497.0,699.8 1505.4,708.2 1505.4,725.0 1501.2,741.8 1497.0,752.7 1484.4,746.0 1476.0,737.6 1478.1,720.8Z" fill="#f7e3b7" filter="url(#fd1)"/><path d="M1476.0,704.0 1497.0,699.8 1505.4,708.2 1505.4,725.0 1501.2,741.8 1497.0,752.7 1484.4,746.0 1476.0,737.6 1478.1,720.8Z" fill="#d8dfc6" filter="url(#fm2)"/><path d="M1476.0,704.0 1497.0,699.8 1505.4,708.2 1505.4,725.0 1501.2,741.8 1497.0,752.7 1484.4,746.0 1476.0,737.6 1478.1,720.8Z" fill="#f7c49a" filter="url(#fs3)"/><path d="M1484.4,699.8 1509.6,695.6 1539.0,699.8 1560.0,704.0 1591.5,704.0 1618.7,708.2 1620.8,716.6 1597.8,712.4 1560.0,712.4 1534.8,716.6 1509.6,720.8 1501.2,710.3Z" fill="#d8dfc6" filter="url(#fm4)"/><path d="M1484.4,699.8 1509.6,695.6 1539.0,699.8 1560.0,704.0 1591.5,704.0 1618.7,708.2 1620.8,716.6 1597.8,712.4 1560.0,712.4 1534.8,716.6 1509.6,720.8 1501.2,710.3Z" fill="#f7e3b7" filter="url(#fm0)"/><path d="M1501.2,733.4 1513.8,725.0 1530.6,718.7 1551.6,712.4 1568.4,710.3 1591.5,712.4 1612.4,718.7 1616.6,729.2 1601.9,731.3 1585.2,722.9 1564.2,720.8 1547.4,725.0 1539.0,733.4 1543.2,743.9 1530.6,746.0 1522.2,737.6 1513.8,741.8 1501.2,741.8Z" fill="#5a8cb3" filter="url(#fd1)"/><path d="M1501.2,733.4 1513.8,725.0 1530.6,718.7 1551.6,712.4 1568.4,710.3 1591.5,712.4 1612.4,718.7 1616.6,729.2 1601.9,731.3 1585.2,722.9 1564.2,720.8 1547.4,725.0 1539.0,733.4 1543.2,743.9 1530.6,746.0 1522.2,737.6 1513.8,741.8 1501.2,741.8Z" fill="#4a82ad" filter="url(#fm2)"/><path d="M1560.0,725.0 1601.9,729.2 1627.1,737.6 1643.9,750.2 1622.9,767.0 1591.5,771.2 1570.5,762.8 1564.2,746.0Z" fill="#7da3bf" filter="url(#fs3)"/><path d="M1612.2,718.7 1650.0,720.8 1681.5,725.0 1713.0,729.2 1713.0,738.6 1681.5,736.5 1650.0,732.3 1612.2,729.2Z" fill="#f7e3b7" filter="url(#fs4)"/><path d="M1612.2,718.7 1650.0,720.8 1681.5,725.0 1713.0,729.2 1713.0,738.6 1681.5,736.5 1650.0,732.3 1612.2,729.2Z" fill="#7da3bf" filter="url(#fs0)"/><path d="M1501.6,754.8 1514.2,756.9 1531.0,754.8 1539.0,756.5 1534.8,764.9 1524.7,767.4 1516.3,765.3 1505.8,765.3Z" fill="#7da3bf" filter="url(#fd1)"/><path d="M1501.6,754.8 1514.2,756.9 1531.0,754.8 1539.0,756.5 1534.8,764.9 1524.7,767.4 1516.3,765.3 1505.8,765.3Z" fill="#f09a70" filter="url(#fs2)"/><path d="M1530.6,743.9 1539.0,746.0 1551.6,756.5 1549.5,760.7 1539.0,756.5 1530.6,750.2Z" fill="#e25a42" filter="url(#fm3)"/><path d="M1534.8,764.9 1547.4,762.8 1560.0,775.4 1572.6,790.1 1568.4,794.3 1555.8,783.8 1539.0,775.4 1526.4,771.2 1524.7,779.6 1522.2,767.0Z" fill="#7da3bf" filter="url(#fm4)"/><path d="M1534.8,764.9 1547.4,762.8 1560.0,775.4 1572.6,790.1 1568.4,794.3 1555.8,783.8 1539.0,775.4 1526.4,771.2 1524.7,779.6 1522.2,767.0Z" fill="#f09a70" filter="url(#fm0)"/><path d="M1524.7,767.4 1539.0,764.9 1560.0,775.4 1572.6,790.1 1565.2,785.9 1562.1,788.0 1572.6,803.1 1560.0,809.0 1539.0,800.6 1528.5,788.0Z" fill="#7da3bf" filter="url(#fs1)"/><path d="M1601.9,746.0 1620.8,748.1 1620.8,767.0 1610.3,771.2 1601.9,762.8Z" fill="#f09a70" filter="url(#fs2)"/><path d="M1642.3,794.3 1641.6,798.9 1639.8,803.2 1636.9,806.5 1633.3,808.6 1629.2,809.4 1625.2,808.6 1621.6,806.5 1618.7,803.2 1616.9,798.9 1616.2,794.3 1616.9,789.6 1618.7,785.4 1621.6,782.0 1625.2,779.9 1629.2,779.1 1633.3,779.9 1636.9,782.0 1639.8,785.4 1641.6,789.6Z" fill="#5a8cb3" filter="url(#fd3)"/><path d="M1636.0,798.5 1635.7,800.4 1635.0,802.2 1633.9,803.6 1632.5,804.5 1630.9,804.8 1629.4,804.5 1628.0,803.6 1626.8,802.2 1626.1,800.4 1625.9,798.5 1626.1,796.5 1626.8,794.8 1628.0,793.4 1629.4,792.5 1630.9,792.2 1632.5,792.5 1633.9,793.4 1635.0,794.8 1635.7,796.5Z" fill="#ffffff" filter="url(#fm4)"/><path d="M1620.8,809.0 1639.7,804.8 1648.1,815.3 1639.7,825.8 1631.3,822.6Z" fill="#d8dfc6" filter="url(#fd0)"/><path d="M1615.6,776.4 1622.9,775.4 1633.4,785.9 1643.9,794.3 1658.6,800.6 1673.3,805.8 1690.1,806.9 1700.0,803.7 1702.5,803.7 1710.9,798.5 1713.0,806.9 1706.7,815.3 1693.7,820.5 1688.5,820.0 1683.8,829.4 1674.4,843.6 1667.3,857.8 1661.8,870.1 1655.5,860.6 1648.4,846.5 1641.3,832.3 1638.9,820.0 1638.9,819.9 1643.9,815.3 1641.8,804.8 1631.3,788.0 1620.8,783.8Z" fill="#f09a70" filter="url(#ff)"/><path d="M1615.6,776.4 1622.9,775.4 1633.4,785.9 1643.9,794.3 1658.6,800.6 1673.3,805.8 1690.1,806.9 1700.0,803.7 1702.5,803.7 1710.9,798.5 1713.0,806.9 1706.7,815.3 1693.7,820.5 1688.5,820.0 1683.8,829.4 1674.4,843.6 1667.3,857.8 1661.8,870.1 1655.5,860.6 1648.4,846.5 1641.3,832.3 1638.9,820.0 1638.9,819.9 1643.9,815.3 1641.8,804.8 1631.3,788.0 1620.8,783.8Z" fill="#e25a42" filter="url(#fm2)"/><path d="M1615.6,776.4 1622.9,775.4 1633.4,785.9 1643.9,794.3 1658.6,800.6 1673.3,805.8 1690.1,806.9 1700.0,803.7 1702.5,803.7 1710.9,798.5 1713.0,806.9 1706.7,815.3 1693.7,820.5 1688.5,820.0 1683.8,829.4 1674.4,843.6 1667.3,857.8 1661.8,870.1 1655.5,860.6 1648.4,846.5 1641.3,832.3 1638.9,820.0 1638.9,819.9 1643.9,815.3 1641.8,804.8 1631.3,788.0 1620.8,783.8Z" fill="#f7c49a" filter="url(#fm3)"/><path d="M1402.5,786.3 1409.2,777.9 1419.7,771.6 1434.4,768.2 1449.1,767.0 1459.6,771.6 1467.6,781.7 1459.2,779.6 1448.7,773.3 1434.0,774.3 1419.3,777.5 1408.8,785.9Z" fill="#f7c49a" filter="url(#fm4)"/><path d="M1402.5,786.3 1409.2,777.9 1419.7,771.6 1434.4,768.2 1449.1,767.0 1459.6,771.6 1467.6,781.7 1459.2,779.6 1448.7,773.3 1434.0,774.3 1419.3,777.5 1408.8,785.9Z" fill="#7da3bf" filter="url(#fs0)"/><path d="M1379.4,847.8 1413.0,847.8 1455.0,851.0 1497.0,853.1 1528.5,849.9 1555.8,853.1 1555.8,858.3 1528.5,855.2 1497.0,858.3 1455.0,856.2 1413.0,853.1 1379.4,853.1Z" fill="#f7e3b7" filter="url(#fd1)"/><path d="M1379.4,847.8 1413.0,847.8 1455.0,851.0 1497.0,853.1 1528.5,849.9 1555.8,853.1 1555.8,858.3 1528.5,855.2 1497.0,858.3 1455.0,856.2 1413.0,853.1 1379.4,853.1Z" fill="#f7c49a" filter="url(#fm2)"/><path d="M1379.4,843.0 1413.0,843.0 1455.0,846.3 1497.0,848.4 1528.5,845.1 1555.8,849.3 1555.8,853.5 1528.5,850.5 1497.0,853.5 1455.0,851.4 1413.0,848.4 1379.4,848.4Z" fill="#7da3bf" filter="url(#fd3)"/><path d="M1379.4,843.0 1413.0,843.0 1455.0,846.3 1497.0,848.4 1528.5,845.1 1555.8,849.3 1555.8,853.5 1528.5,850.5 1497.0,853.5 1455.0,851.4 1413.0,848.4 1379.4,848.4Z" fill="#5a8cb3" filter="url(#fd4)"/><path d="M1379.4,843.0 1413.0,843.0 1455.0,846.3 1497.0,848.4 1528.5,845.1 1555.8,849.3 1555.8,853.5 1528.5,850.5 1497.0,853.5 1455.0,851.4 1413.0,848.4 1379.4,848.4Z" fill="#4a82ad" filter="url(#fd0)"/><path d="M1379.4,843.0 1413.0,843.0 1455.0,846.3 1497.0,848.4 1528.5,845.1 1555.8,849.3 1555.8,853.5 1528.5,850.5 1497.0,853.5 1455.0,851.4 1413.0,848.4 1379.4,848.4Z" fill="#d8dfc6" filter="url(#fs1)"/><path d="M1380.3,844.7 1409.8,849.4 1457.0,854.2 1500.0,856.5 1518.4,857.7 1518.4,864.8 1500.0,864.8 1466.5,868.3 1461.7,887.2 1445.2,868.3 1400.3,866.0 1386.2,856.5Z" fill="#f09a70" filter="url(#fs2)"/><path d="M1380.3,844.7 1409.8,849.4 1457.0,854.2 1500.0,856.5 1518.4,857.7 1518.4,864.8 1500.0,864.8 1466.5,868.3 1461.7,887.2 1445.2,868.3 1400.3,866.0 1386.2,856.5Z" fill="#f7c49a" filter="url(#fm3)"/><path d="M1380.3,844.7 1409.8,849.4 1457.0,854.2 1500.0,856.5 1518.4,857.7 1518.4,864.8 1500.0,864.8 1466.5,868.3 1461.7,887.2 1445.2,868.3 1400.3,866.0 1386.2,856.5Z" fill="#e25a42" filter="url(#fs4)"/><path d="M1382.6,854.2 1388.5,866.0 1395.6,877.8 1405.1,883.7 1416.9,882.5 1428.7,879.0 1440.5,875.4 1449.9,882.5 1461.7,889.6 1459.4,880.1 1445.2,868.3 1428.7,868.3 1414.5,870.7 1400.3,866.0 1390.9,854.2Z" fill="#d93a2c" filter="url(#fd0)"/><path d="M1382.6,854.2 1388.5,866.0 1395.6,877.8 1405.1,883.7 1416.9,882.5 1428.7,879.0 1440.5,875.4 1449.9,882.5 1461.7,889.6 1459.4,880.1 1445.2,868.3 1428.7,868.3 1414.5,870.7 1400.3,866.0 1390.9,854.2Z" fill="#cc2222" filter="url(#fm1)"/><path d="M1450.0,887.3 1485.4,888.5 1516.1,888.5 1520.9,914.5 1511.4,942.8 1478.3,947.5 1468.9,926.3 1461.8,914.5 1457.1,902.7Z" fill="#e25a42" filter="url(#fs2)"/><path d="M1450.0,887.3 1485.4,888.5 1516.1,888.5 1520.9,914.5 1511.4,942.8 1478.3,947.5 1468.9,926.3 1461.8,914.5 1457.1,902.7Z" fill="#f7c49a" filter="url(#fs3)"/><path d="M1513.8,881.4 1535.0,867.2 1553.9,864.9 1551.6,890.9 1553.9,907.4 1547.3,924.1 1548.5,938.3 1539.7,952.3 1525.6,947.5 1516.1,928.6 1513.8,905.0Z" fill="#e25a42" filter="url(#fs4)"/><path d="M1513.8,881.4 1535.0,867.2 1553.9,864.9 1551.6,890.9 1553.9,907.4 1547.3,924.1 1548.5,938.3 1539.7,952.3 1525.6,947.5 1516.1,928.6 1513.8,905.0Z" fill="#f09a70" filter="url(#fs0)"/><path d="M1513.8,881.4 1535.0,867.2 1553.9,864.9 1551.6,890.9 1553.9,907.4 1547.3,924.1 1548.5,938.3 1539.7,952.3 1525.6,947.5 1516.1,928.6 1513.8,905.0Z" fill="#e25a42" filter="url(#fs1)"/><path d="M1533.8,834.2 1544.5,838.9 1553.9,863.9 1549.2,879.0 1539.7,881.4 1532.7,867.2 1531.5,848.3Z" fill="#e25a42" filter="url(#fm2)"/><path d="M1533.8,834.2 1544.5,838.9 1553.9,863.9 1549.2,879.0 1539.7,881.4 1532.7,867.2 1531.5,848.3Z" fill="#f09a70" filter="url(#fm3)"/><path d="M1464.2,952.3 1497.2,942.8 1527.9,952.3 1530.3,973.5 1518.5,999.5 1493.0,1021.0 1481.2,1023.3 1473.6,999.5 1464.2,971.1Z" fill="#f7c49a" filter="url(#fs4)"/><path d="M1464.2,952.3 1497.2,942.8 1527.9,952.3 1530.3,973.5 1518.5,999.5 1493.0,1021.0 1481.2,1023.3 1473.6,999.5 1464.2,971.1Z" fill="#f7e3b7" filter="url(#fs0)"/><path d="M1520.9,942.8 1547.3,942.8 1547.3,952.5 1540.2,964.3 1530.8,973.7 1528.4,987.9 1519.0,999.7 1507.2,1013.9 1497.2,1008.9 1511.4,990.0 1520.9,971.1Z" fill="#f09a70" filter="url(#fs1)"/><path d="M1520.9,942.8 1547.3,942.8 1547.3,952.5 1540.2,964.3 1530.8,973.7 1528.4,987.9 1519.0,999.7 1507.2,1013.9 1497.2,1008.9 1511.4,990.0 1520.9,971.1Z" fill="#f7c49a" filter="url(#fm2)"/><path d="M1572.8,947.8 1577.8,954.9 1573.0,969.0 1566.0,985.6 1561.0,990.0 1563.4,975.9 1568.1,959.3Z" fill="#e25a42" filter="url(#fd3)"/><path d="M1608.0,710.3 1650.0,708.2 1681.5,704.0 1713.0,712.4 1713.0,729.2 1681.5,737.6 1650.0,733.4 1608.0,729.2Z" fill="#f7e3b7" filter="url(#fs4)"/><path d="M1713.0,729.2 1721.4,720.8 1734.0,718.7 1744.5,725.0 1752.9,737.6 1755.0,750.2 1746.6,754.4 1740.3,762.8 1727.7,767.0 1717.2,758.6 1710.9,746.0Z" fill="#5a8cb3" filter="url(#fd0)"/><path d="M1713.0,729.2 1721.4,720.8 1734.0,718.7 1744.5,725.0 1752.9,737.6 1755.0,750.2 1746.6,754.4 1740.3,762.8 1727.7,767.0 1717.2,758.6 1710.9,746.0Z" fill="#7da3bf" filter="url(#fm1)"/><path d="M1717.2,758.6 1740.3,762.8 1748.7,767.0 1759.2,779.6 1763.4,788.0 1750.8,792.2 1734.0,788.0 1721.4,779.6 1715.1,767.0Z" fill="#d8dfc6" filter="url(#fd2)"/><path d="M1717.2,758.6 1740.3,762.8 1748.7,767.0 1759.2,779.6 1763.4,788.0 1750.8,792.2 1734.0,788.0 1721.4,779.6 1715.1,767.0Z" fill="#aabfc4" filter="url(#fm3)"/><path d="M1748.7,754.4 1755.0,756.9 1763.4,767.0 1759.6,771.6 1755.0,765.3Z" fill="#7da3bf" filter="url(#fd4)"/><path d="M1681.5,779.6 1702.5,767.0 1721.4,779.6 1734.0,788.0 1763.4,788.0 1765.9,794.7 1763.4,805.2 1755.0,813.6 1746.6,819.9 1738.2,824.1 1734.0,822.0 1719.3,821.6 1704.6,809.0 1687.8,800.6Z" fill="#f7c49a" filter="url(#fd0)"/><path d="M1681.5,779.6 1702.5,767.0 1721.4,779.6 1734.0,788.0 1763.4,788.0 1765.9,794.7 1763.4,805.2 1755.0,813.6 1746.6,819.9 1738.2,824.1 1734.0,822.0 1719.3,821.6 1704.6,809.0 1687.8,800.6Z" fill="#f09a70" filter="url(#fm1)"/><path d="M1681.5,779.6 1702.5,767.0 1721.4,779.6 1734.0,788.0 1763.4,788.0 1765.9,794.7 1763.4,805.2 1755.0,813.6 1746.6,819.9 1738.2,824.1 1734.0,822.0 1719.3,821.6 1704.6,809.0 1687.8,800.6Z" fill="#e25a42" filter="url(#fs2)"/><path d="M1681.5,779.6 1704.6,783.8 1713.0,800.6 1719.3,821.6 1713.0,830.0 1700.4,821.6 1687.8,809.0 1679.4,796.4Z" fill="#f09a70" filter="url(#fd3)"/><path d="M1681.5,779.6 1704.6,783.8 1713.0,800.6 1719.3,821.6 1713.0,830.0 1700.4,821.6 1687.8,809.0 1679.4,796.4Z" fill="#e25a42" filter="url(#fm4)"/><path d="M1687.8,809.0 1700.4,821.6 1713.0,830.0 1734.0,822.0 1734.4,826.8 1740.3,838.8 1748.7,849.3 1747.0,857.7 1751.1,848.3 1752.8,855.4 1748.0,863.0 1738.6,855.9 1729.1,848.8 1726.8,855.9 1731.5,867.7 1738.6,881.9 1742.4,893.7 1738.6,892.0 1729.1,874.8 1724.4,860.6 1719.7,848.8 1710.3,841.7 1703.2,832.3 1693.7,820.5 1685.7,829.9Z" fill="#f09a70" filter="url(#fd0)"/><path d="M1687.8,809.0 1700.4,821.6 1713.0,830.0 1734.0,822.0 1734.4,826.8 1740.3,838.8 1748.7,849.3 1747.0,857.7 1751.1,848.3 1752.8,855.4 1748.0,863.0 1738.6,855.9 1729.1,848.8 1726.8,855.9 1731.5,867.7 1738.6,881.9 1742.4,893.7 1738.6,892.0 1729.1,874.8 1724.4,860.6 1719.7,848.8 1710.3,841.7 1703.2,832.3 1693.7,820.5 1685.7,829.9Z" fill="#e25a42" filter="url(#fm1)"/><path d="M1687.8,809.0 1700.4,821.6 1713.0,830.0 1734.0,822.0 1734.4,826.8 1740.3,838.8 1748.7,849.3 1747.0,857.7 1751.1,848.3 1752.8,855.4 1748.0,863.0 1738.6,855.9 1729.1,848.8 1726.8,855.9 1731.5,867.7 1738.6,881.9 1742.4,893.7 1738.6,892.0 1729.1,874.8 1724.4,860.6 1719.7,848.8 1710.3,841.7 1703.2,832.3 1693.7,820.5 1685.7,829.9Z" fill="#d93a2c" filter="url(#fs2)"/><path d="M1776.0,740.1 1786.9,743.9 1784.4,749.1 1777.0,746.0ZM1784.4,754.8 1795.3,763.2 1799.5,771.6 1793.2,775.8 1784.8,782.1 1778.5,782.1 1780.6,775.8 1789.0,769.5 1786.9,761.1Z" fill="#f7e3b7" filter="url(#fd3)"/><path d="M1714.5,879.0 1721.6,881.4 1733.4,895.6 1745.2,909.7 1747.6,919.2 1740.5,919.2 1728.7,907.4 1719.2,893.2Z" fill="#d93a2c" filter="url(#fd4)"/><path d="M1747.2,923.9 1761.4,927.5 1775.6,929.8 1789.8,931.0 1803.9,929.8 1807.5,932.2 1799.2,936.9 1785.0,935.7 1770.9,933.4 1756.7,931.0 1746.1,927.5ZM1795.7,936.9 1805.1,931.0 1807.5,933.4 1798.0,939.3Z" fill="#e25a42" filter="url(#fd0)"/><path d="M1756.7,895.6 1765.0,890.9 1775.6,879.1 1782.7,876.7 1783.9,883.8 1782.7,895.6 1778.0,905.0 1770.9,913.3 1762.6,910.9 1757.9,903.9Z" fill="#e25a42" filter="url(#fd1)"/><path d="M1777.8,891.1 1778.8,893.5 1779.1,895.9 1778.8,898.3 1777.7,900.2 1776.2,901.6 1774.2,902.2 1772.0,902.1 1769.8,901.3 1767.9,899.8 1766.3,897.7 1765.3,895.3 1765.0,892.9 1765.3,890.6 1766.3,888.6 1767.9,887.2 1769.9,886.6 1772.1,886.7 1774.3,887.5 1776.2,889.1Z" fill="#ffffff" filter="url(#fm2)"/><path d="M1787.4,900.3 1794.5,896.8 1803.9,895.6 1799.2,901.5 1793.3,905.0 1795.7,916.9 1792.1,919.2 1789.8,912.1 1786.2,919.2 1785.5,907.4ZM1811.0,893.2 1814.6,892.0 1813.4,901.5 1810.6,900.3Z" fill="#e25a42" filter="url(#fm3)"/><path d="M1779.1,834.2 1783.9,833.0 1786.2,843.6 1790.9,850.7 1799.2,855.4 1803.9,864.9 1806.3,874.3 1800.4,877.9 1795.7,870.8 1792.1,862.5 1787.4,855.4 1781.5,846.0ZM1778.0,867.2 1783.9,860.2 1785.0,862.5 1779.1,869.6Z" fill="#d93a2c" filter="url(#fd4)"/><path d="M1822.8,902.7 1832.3,905.0 1841.7,909.8 1851.2,908.6 1860.6,913.3 1867.7,921.6 1872.4,931.0 1876.0,936.9 1870.1,935.7 1863.0,931.0 1853.5,933.4 1846.5,931.0 1841.7,921.6 1834.6,914.5 1827.6,909.8ZM1874.8,920.4 1886.6,914.5 1889.0,916.9 1879.5,922.8ZM1893.7,921.6 1900.8,927.5 1910.2,936.9 1907.9,938.1 1899.6,929.8 1892.5,923.5Z" fill="#f09a70" filter="url(#fm0)"/><path d="M1822.8,902.7 1832.3,905.0 1841.7,909.8 1851.2,908.6 1860.6,913.3 1867.7,921.6 1872.4,931.0 1876.0,936.9 1870.1,935.7 1863.0,931.0 1853.5,933.4 1846.5,931.0 1841.7,921.6 1834.6,914.5 1827.6,909.8ZM1874.8,920.4 1886.6,914.5 1889.0,916.9 1879.5,922.8ZM1893.7,921.6 1900.8,927.5 1910.2,936.9 1907.9,938.1 1899.6,929.8 1892.5,923.5Z" fill="#e25a42" filter="url(#fs1)"/><path d="M1667.3,867.2 1673.2,870.8 1672.0,877.9 1667.3,875.5Z" fill="#e25a42" filter="url(#ff)"/><path d="M1771.4,810.0 1774.3,811.5 1773.9,817.4 1771.8,816.3ZM1745.5,828.9 1749.7,827.9 1750.4,832.1 1746.2,833.1Z" fill="#f7c49a" filter="url(#fd3)"/><path d="M1904.7,975.7 1905.0,977.6 1904.4,979.1 1903.1,979.6 1901.7,978.8 1900.7,977.1 1900.4,975.1 1901.0,973.6 1902.2,973.2 1903.6,974.0ZM1949.3,963.8 1949.2,964.8 1948.3,965.8 1946.9,966.3 1945.6,966.1 1944.9,965.4 1945.0,964.3 1945.9,963.3 1947.2,962.8 1948.6,963.0Z" fill="#e25a42" filter="url(#ff)"/><path d="M1736.6,1023.1 1742.5,1013.7 1746.1,1001.9 1753.1,1006.6 1756.7,1018.4 1752.0,1020.8 1742.5,1024.3Z" fill="#7da3bf" filter="url(#fd0)"/><path d="M1793.3,1032.6 1792.1,1023.1 1803.9,1020.8 1822.8,1016.1 1837.0,1006.6 1851.2,994.8 1859.4,985.4 1859.4,994.8 1851.2,1006.6 1841.7,1013.7 1832.3,1023.1 1822.8,1030.2 1811.0,1032.6 1799.2,1035.0Z" fill="#7da3bf" filter="url(#fm1)"/><path d="M1793.3,1032.6 1792.1,1023.1 1803.9,1020.8 1822.8,1016.1 1837.0,1006.6 1851.2,994.8 1859.4,985.4 1859.4,994.8 1851.2,1006.6 1841.7,1013.7 1832.3,1023.1 1822.8,1030.2 1811.0,1032.6 1799.2,1035.0Z" fill="#5a8cb3" filter="url(#fs2)"/><path d="M1793.3,1032.6 1792.1,1023.1 1803.9,1020.8 1822.8,1016.1 1837.0,1006.6 1851.2,994.8 1859.4,985.4 1859.4,994.8 1851.2,1006.6 1841.7,1013.7 1832.3,1023.1 1822.8,1030.2 1811.0,1032.6 1799.2,1035.0Z" fill="#f7e3b7" filter="url(#fs3)"/><path d="M1788.6,1052.7 1794.5,1046.8 1803.9,1042.0 1806.3,1044.4 1799.2,1050.3 1790.9,1053.9Z" fill="#aabfc4" filter="url(#fm4)"/><path d="M1826.4,1064.5 1834.6,1058.6 1851.2,1050.3 1865.4,1044.4 1874.8,1039.7 1884.3,1030.2 1889.0,1025.5 1890.2,1032.6 1886.6,1036.1 1879.5,1040.9 1870.1,1045.6 1853.5,1053.9 1839.4,1060.9 1828.7,1065.7Z" fill="#f7e3b7" filter="url(#fs0)"/></g><use href="#holesW" fill="#aedcf2" filter="url(#rough)"/></g></g>
<rect x="1059" y="53.6" width="941" height="2.1" fill="#d9d9dc" opacity="0.7"/>
<g transform="translate(0 0)" filter="url(#soft)"><use href="#landL" fill="#cbcbce" filter="url(#roughL)"/><g mask="url(#maskL)"><path d="M370.6,167.1 389.0,167.1 389.0,182.4 389.0,197.7 373.7,200.8M389.0,167.1 410.4,180.9 431.9,194.6 447.2,188.5M431.9,154.8 435.0,182.4 447.2,188.5 474.8,200.8M474.8,154.8 474.8,182.4 499.3,182.4M474.8,182.4 474.8,200.8 471.7,213.0M447.2,188.5 444.1,210.0 431.9,213.0 419.6,210.0 416.6,197.7 431.9,194.6M389.0,197.7 401.3,200.8 416.6,197.7M444.1,210.0 447.2,225.3 462.5,219.1 471.7,213.0 484.0,225.3 499.3,219.1 511.5,210.0M358.4,200.8 373.7,200.8 376.8,213.0M401.3,200.8 404.3,219.1 419.6,210.0M554.4,127.3 572.8,124.2 594.2,130.3 609.5,136.4 627.9,130.3M627.9,105.8 643.2,115.0 664.7,119.6 686.1,127.3 707.6,124.2 725.9,116.5 738.2,111.9M627.9,105.8 624.9,121.1 627.9,130.3M575.8,136.4 578.9,154.8 585.0,164.0 594.2,167.1M594.2,142.6 603.4,151.8 609.5,157.9 612.6,170.1M609.5,157.9 615.7,167.1 612.6,176.3M643.2,115.0 643.2,167.1M536.0,153.3 646.3,153.3M441.1,286.5 462.5,289.6 465.6,311.0 484.0,314.1M462.5,289.6 484.0,280.4 499.3,286.5 511.5,280.4M465.6,311.0 462.5,329.4 477.8,329.4 484.0,314.1 499.3,311.0M196.1,244.4 202.0,258.9 213.5,273.3 222.2,282.0 225.1,296.5 239.6,305.2 242.4,319.6 251.1,328.3M209.2,290.7 207.8,319.6 202.0,348.6 203.4,374.6M213.5,235.7 236.7,235.7 254.1,229.9M222.2,282.0 213.5,293.6 210.7,305.2 225.1,313.9 239.6,305.2M225.1,313.9 225.1,334.2 239.6,334.2" fill="none" stroke="#e1e6ec" stroke-width="1.0" stroke-opacity="0.75" stroke-linejoin="round"/><path d="M92.9,155.8 108.2,154.2 120.4,160.4 131.2,169.5 131.2,180.3 135.8,187.9 148.0,189.4 152.6,183.3 161.8,183.3 157.2,194.0 167.9,200.2 171.0,210.9 178.6,217.0 184.8,220.1 192.4,214.0 209.3,210.9 221.5,214.0 233.8,214.0 246.0,223.1 261.3,229.3 267.5,241.5 282.8,247.6 298.1,252.2 307.3,259.9 307.3,269.1 298.1,284.4 295.0,299.7 288.9,308.9 273.6,315.0 264.4,330.3 252.1,342.6 246.0,348.7 233.8,354.8 229.2,359.4 221.5,361.0 221.5,373.2 215.4,376.3 212.3,385.5 209.3,391.6 221.5,397.7 209.3,399.2 197.0,391.6 190.9,379.3 197.0,364.0 198.5,345.7 203.1,330.3 206.2,312.0 207.7,296.6 203.1,290.5 190.9,278.3 181.7,266.0 175.6,256.8 178.6,244.6 184.8,232.3 186.3,223.1 178.6,221.6 172.5,220.1 166.4,214.0 160.3,207.8 151.1,204.8 141.9,198.6 129.6,198.6 117.4,194.0 108.2,186.4 105.1,177.2 99.0,168.0ZM166.4,178.7 175.6,177.2 184.8,180.3 194.0,186.4 194.6,190.1 186.3,185.8 177.1,181.8 167.9,181.8ZM197.0,190.1 204.7,187.9 212.3,190.1 212.3,193.1 203.1,193.1 197.6,193.1ZM184.8,191.0 190.9,191.0 190.9,193.4 184.8,193.4Z" fill="#e9735d" filter="url(#ff)"/><path d="M378.1,158.8 378.1,151.2 388.2,143.6 400.9,142.3 411.1,139.0 426.3,138.5 436.4,138.0 436.4,146.1 426.3,146.1 413.6,148.7 400.9,152.5 390.8,156.3Z" fill="#e9735d" filter="url(#ff)"/><path d="M355.2,194.4 370.5,191.8 390.8,195.6 408.5,188.0 416.1,196.9 426.3,193.1 441.5,202.0 459.3,198.2 477.1,199.4 497.4,196.9 507.5,189.3 515.1,194.4 521.5,202.0 529.1,208.3 540.5,212.1 550.7,209.1 546.9,219.7 540.5,229.9 532.9,240.1 522.7,250.2 517.7,257.8 517.7,270.5 521.5,275.6 517.7,285.7 507.5,295.9 505.0,303.5 502.4,313.7 492.3,323.8 482.1,334.0 469.4,340.3 459.3,341.6 454.2,331.4 451.7,321.3 446.6,311.1 441.5,298.4 437.7,288.3 441.5,278.1 440.3,265.4 435.2,255.3 430.1,245.1 432.6,235.0 428.8,229.9 421.2,227.9 411.1,226.9 398.4,229.4 385.7,233.7 375.5,228.6 365.4,219.7 356.5,209.6 354.0,199.4Z" fill="#e9735d" filter="url(#ff)"/><path d="M543.0,278.1 546.9,283.2 545.6,293.4 540.5,306.0 535.4,313.7 529.1,313.7 527.8,303.5 530.4,290.8 535.4,285.7Z" fill="#e9735d" filter="url(#ff)"/><path d="M478.3,128.9 484.7,124.6 497.4,124.6 502.4,123.3 517.7,124.6 522.7,119.5 527.8,123.3 535.4,124.6 543.0,127.1 543.0,133.5 538.0,136.0 527.8,133.5 517.7,133.5 507.5,136.0 502.4,143.6 492.3,142.3 484.7,138.0 479.1,133.5Z" fill="#f0957f" filter="url(#gd4)"/><path d="M478.3,128.9 484.7,124.6 497.4,124.6 502.4,123.3 517.7,124.6 522.7,119.5 527.8,123.3 535.4,124.6 543.0,127.1 543.0,133.5 538.0,136.0 527.8,133.5 517.7,133.5 507.5,136.0 502.4,143.6 492.3,142.3 484.7,138.0 479.1,133.5Z" fill="#e9735d" filter="url(#gm0)"/><path d="M516.0,120.3 532.1,122.7 542.1,130.4 546.2,138.4 554.2,150.5 565.3,165.6 556.2,165.0 546.2,154.5 538.1,144.5 528.0,136.4 516.0,131.4Z" fill="#f0957f" filter="url(#gd1)"/><path d="M516.0,120.3 532.1,122.7 542.1,130.4 546.2,138.4 554.2,150.5 565.3,165.6 556.2,165.0 546.2,154.5 538.1,144.5 528.0,136.4 516.0,131.4Z" fill="#e9735d" filter="url(#gm2)"/><path d="M574.3,97.2 577.4,91.1 588.4,89.1 600.5,87.7 612.6,89.1 622.6,92.1 630.7,98.2 640.7,100.2 648.8,105.2 644.8,110.2 632.7,106.2 620.6,102.2 608.5,98.2 596.5,96.2 584.4,97.2Z" fill="#e9735d" filter="url(#gd3)"/><path d="M574.3,97.2 577.4,91.1 588.4,89.1 600.5,87.7 612.6,89.1 622.6,92.1 630.7,98.2 640.7,100.2 648.8,105.2 644.8,110.2 632.7,106.2 620.6,102.2 608.5,98.2 596.5,96.2 584.4,97.2Z" fill="#f0957f" filter="url(#gm4)"/><path d="M537.1,103.2 542.1,99.2 552.2,97.2 564.3,98.2 560.2,102.2 550.2,102.2 542.1,105.2Z" fill="#f0957f" filter="url(#gm0)"/><path d="M590.4,120.3 604.5,116.3 620.6,118.3 628.7,115.3 633.7,121.3 620.6,128.4 608.5,130.4 600.5,134.4 592.4,134.4 589.4,128.4Z" fill="#f0957f" filter="url(#gm1)"/><path d="M590.4,120.3 604.5,116.3 620.6,118.3 628.7,115.3 633.7,121.3 620.6,128.4 608.5,130.4 600.5,134.4 592.4,134.4 589.4,128.4Z" fill="#e9735d" filter="url(#gs2)"/><path d="M648.8,105.2 658.8,103.2 668.9,101.2 681.0,100.2 685.0,98.2 695.1,100.2 707.1,103.2 719.2,103.2 729.3,102.2 739.3,101.2 737.3,108.2 721.2,110.2 709.2,109.2 697.1,112.3 691.0,108.2 681.0,105.2 668.9,106.2 660.9,108.2Z" fill="#e9735d" filter="url(#gd3)"/><path d="M648.8,105.2 658.8,103.2 668.9,101.2 681.0,100.2 685.0,98.2 695.1,100.2 707.1,103.2 719.2,103.2 729.3,102.2 739.3,101.2 737.3,108.2 721.2,110.2 709.2,109.2 697.1,112.3 691.0,108.2 681.0,105.2 668.9,106.2 660.9,108.2Z" fill="#f0957f" filter="url(#gm4)"/><path d="M739.3,101.2 743.4,94.1 751.4,92.1 761.5,93.1 765.5,100.2 771.5,107.2 783.6,109.2 783.6,113.3 775.6,117.3 773.5,126.3 767.5,132.4 761.5,137.4 755.4,134.4 751.4,130.4 743.4,132.4 739.3,126.3 736.3,114.3Z" fill="#e9735d" filter="url(#ff)"/><path d="M740.3,133.4 748.4,138.4 742.4,144.5 743.8,150.5 748.4,154.5 749.4,162.6 744.4,170.6 738.3,176.7 730.3,181.1 722.2,184.3 716.2,185.7 710.2,188.7 705.1,190.7 701.1,182.7 693.1,178.7 681.0,174.6 668.9,170.6 664.9,164.6 677.0,158.5 691.0,154.5 705.1,148.5 721.2,142.4 733.3,135.4Z" fill="#e9735d" filter="url(#ff)"/><path d="M608.5,143.4 614.6,146.1 624.6,154.1 636.7,160.2 648.8,163.2 660.9,164.2 668.9,166.2 664.9,174.6 652.8,170.6 640.7,166.6 628.7,162.6 616.6,154.5 608.5,148.5Z" fill="#e9735d" filter="url(#gd2)"/><path d="M610.6,174.6 616.6,163.6 628.7,162.2 640.7,166.2 652.8,170.6 660.9,174.6 656.8,173.0 653.2,179.1 649.2,187.1 641.1,195.2 635.1,201.2 632.1,209.3 630.1,217.3 624.6,220.5 619.2,215.3 614.2,203.2 610.2,191.1 609.1,181.1Z" fill="#e9735d" filter="url(#ff)"/><path d="M660.9,166.6 668.9,166.6 681.0,174.6 693.1,178.7 701.1,182.7 705.1,190.7 711.6,196.8 714.8,204.8 711.6,211.3 703.5,218.5 697.1,213.3 691.0,209.3 687.0,211.3 683.4,215.3 685.4,219.9 691.4,224.9 697.5,231.0 699.7,238.6 695.1,237.4 688.6,229.4 682.6,223.3 680.6,215.3 679.6,205.2 674.5,199.2 670.5,195.2 669.5,187.1 664.5,181.1 660.5,175.0Z" fill="#e9735d" filter="url(#ff)"/><path d="M629.7,217.9 634.7,218.9 636.7,223.9 632.7,227.0 629.7,223.9ZM711.2,187.7 716.2,186.7 716.2,190.7 712.2,192.8ZM672.9,228.0 679.0,228.0 691.0,239.0 701.1,249.1 705.1,259.2 699.1,258.1 689.0,249.1 679.0,237.0ZM704.1,260.2 717.2,262.2 733.3,265.2 749.4,267.2 761.5,266.2 763.5,269.2 753.4,272.2 733.3,269.2 717.2,266.2 705.1,264.2ZM712.2,240.0 721.2,235.0 731.3,227.0 737.3,224.9 740.3,229.0 737.3,237.0 736.3,245.1 731.3,253.1 723.2,252.1 715.2,249.1ZM741.4,243.1 747.4,239.0 757.5,238.0 753.4,243.1 749.4,247.1 751.4,257.1 747.4,258.1 744.4,251.1 741.4,258.1 740.3,249.1ZM743.4,191.7 749.4,190.7 750.4,198.8 754.4,204.8 758.5,208.8 762.5,216.9 760.5,227.0 755.4,224.9 751.4,218.9 747.4,210.9 744.4,202.8 742.4,196.8ZM736.9,217.9 741.8,213.3 743.0,214.9 738.1,219.3ZM765.5,237.0 768.5,241.0 766.5,247.1 764.5,243.1ZM774.6,244.1 781.6,245.1 789.6,249.1 801.7,250.1 811.8,254.1 819.8,259.2 825.9,266.2 830.9,269.2 829.9,274.2 821.8,269.2 815.8,266.2 807.8,268.2 799.7,265.2 793.7,261.2 787.6,255.1 779.6,251.1ZM823.9,259.2 833.9,253.1 836.9,256.1 829.9,261.2ZM842.0,259.2 852.0,265.2 860.1,269.2 862.1,274.2 859.1,273.2 850.0,266.2 841.6,261.2ZM757.5,248.1 761.5,247.1 762.5,250.1 758.5,250.7ZM772.5,263.2 777.6,262.8 777.6,265.6 773.1,265.6Z" fill="#e9735d" filter="url(#ff)"/><path d="M525.0,200.8 528.0,205.2 536.1,203.2 546.2,199.2 546.2,195.8 536.1,198.8 528.0,200.8Z" fill="#f0957f" filter="url(#gs1)"/><path d="M92.9,155.8 108.2,154.2 120.4,160.4 131.2,169.5 131.2,180.3 135.8,187.9 148.0,189.4 152.6,183.3 161.8,183.3 157.2,194.0 167.9,200.2 171.0,210.9 178.6,217.0 184.8,220.1 192.4,214.0 209.3,210.9 221.5,214.0 233.8,214.0 246.0,223.1 261.3,229.3 267.5,241.5 282.8,247.6 298.1,252.2 307.3,259.9 307.3,269.1 298.1,284.4 295.0,299.7 288.9,308.9 273.6,315.0 264.4,330.3 252.1,342.6 246.0,348.7 233.8,354.8 229.2,359.4 221.5,361.0 221.5,373.2 215.4,376.3 212.3,385.5 209.3,391.6 221.5,397.7 209.3,399.2 197.0,391.6 190.9,379.3 197.0,364.0 198.5,345.7 203.1,330.3 206.2,312.0 207.7,296.6 203.1,290.5 190.9,278.3 181.7,266.0 175.6,256.8 178.6,244.6 184.8,232.3 186.3,223.1 178.6,221.6 172.5,220.1 166.4,214.0 160.3,207.8 151.1,204.8 141.9,198.6 129.6,198.6 117.4,194.0 108.2,186.4 105.1,177.2 99.0,168.0ZM166.4,178.7 175.6,177.2 184.8,180.3 194.0,186.4 194.6,190.1 186.3,185.8 177.1,181.8 167.9,181.8ZM197.0,190.1 204.7,187.9 212.3,190.1 212.3,193.1 203.1,193.1 197.6,193.1ZM184.8,191.0 190.9,191.0 190.9,193.4 184.8,193.4Z" fill="#f0957f" filter="url(#gm2)"/><path d="M355.2,194.4 370.5,191.8 390.8,195.6 408.5,188.0 416.1,196.9 426.3,193.1 441.5,202.0 459.3,198.2 477.1,199.4 497.4,196.9 507.5,189.3 515.1,194.4 521.5,202.0 529.1,208.3 540.5,212.1 550.7,209.1 546.9,219.7 540.5,229.9 532.9,240.1 522.7,250.2 517.7,257.8 517.7,270.5 521.5,275.6 517.7,285.7 507.5,295.9 505.0,303.5 502.4,313.7 492.3,323.8 482.1,334.0 469.4,340.3 459.3,341.6 454.2,331.4 451.7,321.3 446.6,311.1 441.5,298.4 437.7,288.3 441.5,278.1 440.3,265.4 435.2,255.3 430.1,245.1 432.6,235.0 428.8,229.9 421.2,227.9 411.1,226.9 398.4,229.4 385.7,233.7 375.5,228.6 365.4,219.7 356.5,209.6 354.0,199.4Z" fill="#f0957f" filter="url(#gm3)"/><path d="M740.3,133.4 748.4,138.4 742.4,144.5 743.8,150.5 748.4,154.5 749.4,162.6 744.4,170.6 738.3,176.7 730.3,181.1 722.2,184.3 716.2,185.7 710.2,188.7 705.1,190.7 701.1,182.7 693.1,178.7 681.0,174.6 668.9,170.6 664.9,164.6 677.0,158.5 691.0,154.5 705.1,148.5 721.2,142.4 733.3,135.4Z" fill="#f0957f" filter="url(#gd4)"/><path d="M739.3,101.2 743.4,94.1 751.4,92.1 761.5,93.1 765.5,100.2 771.5,107.2 783.6,109.2 783.6,113.3 775.6,117.3 773.5,126.3 767.5,132.4 761.5,137.4 755.4,134.4 751.4,130.4 743.4,132.4 739.3,126.3 736.3,114.3Z" fill="#f0957f" filter="url(#gm0)"/><path d="M610.6,174.6 616.6,163.6 628.7,162.2 640.7,166.2 652.8,170.6 660.9,174.6 656.8,173.0 653.2,179.1 649.2,187.1 641.1,195.2 635.1,201.2 632.1,209.3 630.1,217.3 624.6,220.5 619.2,215.3 614.2,203.2 610.2,191.1 609.1,181.1Z" fill="#f0957f" filter="url(#gm1)"/><path d="M660.9,166.6 668.9,166.6 681.0,174.6 693.1,178.7 701.1,182.7 705.1,190.7 711.6,196.8 714.8,204.8 711.6,211.3 703.5,218.5 697.1,213.3 691.0,209.3 687.0,211.3 683.4,215.3 685.4,219.9 691.4,224.9 697.5,231.0 699.7,238.6 695.1,237.4 688.6,229.4 682.6,223.3 680.6,215.3 679.6,205.2 674.5,199.2 670.5,195.2 669.5,187.1 664.5,181.1 660.5,175.0Z" fill="#f0957f" filter="url(#gs2)"/><path d="M629.7,217.9 634.7,218.9 636.7,223.9 632.7,227.0 629.7,223.9ZM711.2,187.7 716.2,186.7 716.2,190.7 712.2,192.8ZM672.9,228.0 679.0,228.0 691.0,239.0 701.1,249.1 705.1,259.2 699.1,258.1 689.0,249.1 679.0,237.0ZM704.1,260.2 717.2,262.2 733.3,265.2 749.4,267.2 761.5,266.2 763.5,269.2 753.4,272.2 733.3,269.2 717.2,266.2 705.1,264.2ZM712.2,240.0 721.2,235.0 731.3,227.0 737.3,224.9 740.3,229.0 737.3,237.0 736.3,245.1 731.3,253.1 723.2,252.1 715.2,249.1ZM741.4,243.1 747.4,239.0 757.5,238.0 753.4,243.1 749.4,247.1 751.4,257.1 747.4,258.1 744.4,251.1 741.4,258.1 740.3,249.1ZM743.4,191.7 749.4,190.7 750.4,198.8 754.4,204.8 758.5,208.8 762.5,216.9 760.5,227.0 755.4,224.9 751.4,218.9 747.4,210.9 744.4,202.8 742.4,196.8ZM736.9,217.9 741.8,213.3 743.0,214.9 738.1,219.3ZM765.5,237.0 768.5,241.0 766.5,247.1 764.5,243.1ZM774.6,244.1 781.6,245.1 789.6,249.1 801.7,250.1 811.8,254.1 819.8,259.2 825.9,266.2 830.9,269.2 829.9,274.2 821.8,269.2 815.8,266.2 807.8,268.2 799.7,265.2 793.7,261.2 787.6,255.1 779.6,251.1ZM823.9,259.2 833.9,253.1 836.9,256.1 829.9,261.2ZM842.0,259.2 852.0,265.2 860.1,269.2 862.1,274.2 859.1,273.2 850.0,266.2 841.6,261.2ZM757.5,248.1 761.5,247.1 762.5,250.1 758.5,250.7ZM772.5,263.2 777.6,262.8 777.6,265.6 773.1,265.6Z" fill="#f0957f" filter="url(#gs3)"/><path d="M261.3,253.8 295.0,253.8 304.2,266.0 295.0,290.5 288.9,308.9 264.4,315.0 252.1,296.6 258.3,272.1Z" fill="#f6c3b3" filter="url(#gm4)"/><path d="M221.5,321.1 252.1,315.0 264.4,330.3 246.0,348.7 227.6,345.7Z" fill="#f6c3b3" filter="url(#gs0)"/><path d="M95.9,158.8 111.3,158.8 129.6,177.2 141.9,192.5 129.6,198.6 111.3,189.4Z" fill="#f6c3b3" filter="url(#gm1)"/><path d="M355.2,196.9 390.8,198.2 416.1,199.4 441.5,204.5 477.1,202.0 477.1,217.2 441.5,219.7 416.1,214.7 390.8,212.1 360.3,212.1Z" fill="#f6c3b3" filter="url(#gm2)"/><path d="M740.3,133.4 748.4,138.4 742.4,144.5 743.8,150.5 748.4,154.5 749.4,162.6 744.4,170.6 738.3,176.7 730.3,181.1 722.2,184.3 716.2,185.7 710.2,188.7 705.1,190.7 701.1,182.7 693.1,178.7 681.0,174.6 668.9,170.6 664.9,164.6 677.0,158.5 691.0,154.5 705.1,148.5 721.2,142.4 733.3,135.4Z" fill="#f6c3b3" filter="url(#gs3)"/><path d="M739.3,101.2 743.4,94.1 751.4,92.1 761.5,93.1 765.5,100.2 771.5,107.2 783.6,109.2 783.6,113.3 775.6,117.3 773.5,126.3 767.5,132.4 761.5,137.4 755.4,134.4 751.4,130.4 743.4,132.4 739.3,126.3 736.3,114.3Z" fill="#f6c3b3" filter="url(#gs4)"/><path d="M355.2,194.4 370.5,191.8 390.8,195.6 408.5,188.0 416.1,196.9 426.3,193.1 441.5,202.0 459.3,198.2 477.1,199.4 497.4,196.9 507.5,189.3 515.1,194.4 521.5,202.0 529.1,208.3 540.5,212.1 550.7,209.1 546.9,219.7 540.5,229.9 532.9,240.1 522.7,250.2 517.7,257.8 517.7,270.5 521.5,275.6 517.7,285.7 507.5,295.9 505.0,303.5 502.4,313.7 492.3,323.8 482.1,334.0 469.4,340.3 459.3,341.6 454.2,331.4 451.7,321.3 446.6,311.1 441.5,298.4 437.7,288.3 441.5,278.1 440.3,265.4 435.2,255.3 430.1,245.1 432.6,235.0 428.8,229.9 421.2,227.9 411.1,226.9 398.4,229.4 385.7,233.7 375.5,228.6 365.4,219.7 356.5,209.6 354.0,199.4Z" fill="#f6c3b3" filter="url(#gs0)"/><path d="M378.1,158.8 378.1,151.2 388.2,143.6 400.9,142.3 411.1,139.0 426.3,138.5 436.4,138.0 436.4,146.1 426.3,146.1 413.6,148.7 400.9,152.5 390.8,156.3Z" fill="#f0957f" filter="url(#gm1)"/><path d="M128.7,168.6 128.1,171.7 126.3,174.4 123.4,176.6 119.8,177.9 115.8,178.4 111.9,177.9 108.3,176.6 105.4,174.4 103.6,171.7 103.0,168.6 103.6,165.6 105.4,162.9 108.3,160.7 111.9,159.3 115.8,158.8 119.8,159.3 123.4,160.7 126.3,162.9 128.1,165.6Z" fill="#cbcbce" filter="url(#gd2)"/><path d="M203.1,290.5 212.3,295.1 217.8,312.0 215.4,330.3 210.8,347.2 202.5,347.2 204.1,330.3 206.2,312.0Z" fill="#cbcbce" filter="url(#ff)"/><path d="M189.4,278.3 203.1,290.5 207.7,296.6 203.1,302.8 194.0,290.5Z" fill="#cbcbce" filter="url(#gd4)"/><path d="M192.4,377.8 203.1,361.0 216.9,364.0 216.9,376.3 210.8,391.6 200.1,393.1Z" fill="#cbcbce" filter="url(#gm0)"/><path d="M299.0,270.6 298.7,271.9 298.0,273.1 296.7,274.1 295.2,274.7 293.5,274.9 291.8,274.7 290.3,274.1 289.0,273.1 288.2,271.9 288.0,270.6 288.2,269.3 289.0,268.1 290.3,267.1 291.8,266.5 293.5,266.3 295.2,266.5 296.7,267.1 298.0,268.1 298.7,269.3Z" fill="#cbcbce" filter="url(#gd1)"/><path d="M250.3,293.6 250.1,294.7 249.5,295.7 248.5,296.6 247.3,297.1 246.0,297.3 244.7,297.1 243.5,296.6 242.5,295.7 241.9,294.7 241.7,293.6 241.9,292.4 242.5,291.4 243.5,290.6 244.7,290.1 246.0,289.9 247.3,290.1 248.5,290.6 249.5,291.4 250.1,292.4Z" fill="#cbcbce" filter="url(#gd2)"/><path d="M515.1,212.1 522.7,204.5 532.9,210.9 550.7,209.1 546.9,219.7 540.5,229.9 530.4,237.5 522.7,232.4 515.1,224.8Z" fill="#cbcbce" filter="url(#gd3)"/><path d="M439.5,293.4 449.1,295.9 459.3,298.4 472.0,293.4 478.3,299.7 482.1,309.8 492.3,313.7 497.4,320.0 488.5,323.8 478.3,332.7 469.4,340.3 459.3,341.6 454.2,331.4 451.7,321.3 446.6,311.1 441.5,298.4Z" fill="#cbcbce" filter="url(#ff)"/><path d="M501.2,245.1 501.0,247.0 500.7,248.7 500.1,250.1 499.4,250.9 498.6,251.2 497.8,250.9 497.1,250.1 496.6,248.7 496.2,247.0 496.1,245.1 496.2,243.2 496.6,241.5 497.1,240.2 497.8,239.3 498.6,239.0 499.4,239.3 500.1,240.2 500.7,241.5 501.0,243.2ZM500.4,219.7 500.1,221.0 499.3,222.1 498.1,223.0 496.5,223.6 494.8,223.8 493.1,223.6 491.5,223.0 490.3,222.1 489.5,221.0 489.2,219.7 489.5,218.5 490.3,217.4 491.5,216.5 493.1,215.9 494.8,215.7 496.5,215.9 498.1,216.5 499.3,217.4 500.1,218.5Z" fill="#cbcbce" filter="url(#gd0)"/><path d="M529.1,313.7 527.8,303.5 530.4,290.8 534.9,286.2 535.9,298.4 533.4,311.1Z" fill="#cbcbce" filter="url(#gm1)"/><path d="M623.0,193.2 622.8,195.8 622.3,198.1 621.4,200.0 620.2,201.2 619.0,201.6 617.8,201.2 616.6,200.0 615.7,198.1 615.2,195.8 615.0,193.2 615.2,190.5 615.7,188.2 616.6,186.3 617.8,185.1 619.0,184.7 620.2,185.1 621.4,186.3 622.3,188.2 622.8,190.5Z" fill="#cbcbce" filter="url(#gd2)"/><path d="M701.7,197.8 701.5,198.6 701.0,199.3 700.2,199.9 699.2,200.3 698.1,200.4 697.0,200.3 696.0,199.9 695.2,199.3 694.6,198.6 694.5,197.8 694.6,197.0 695.2,196.2 696.0,195.7 697.0,195.3 698.1,195.2 699.2,195.3 700.2,195.7 701.0,196.2 701.5,197.0Z" fill="#cbcbce" filter="url(#gm3)"/></g></g>
<g transform="translate(0 344)" filter="url(#soft)"><use href="#landL" fill="#cbcbce" filter="url(#roughL)"/><g mask="url(#maskL)"><path d="M370.6,167.1 389.0,167.1 389.0,182.4 389.0,197.7 373.7,200.8M389.0,167.1 410.4,180.9 431.9,194.6 447.2,188.5M431.9,154.8 435.0,182.4 447.2,188.5 474.8,200.8M474.8,154.8 474.8,182.4 499.3,182.4M474.8,182.4 474.8,200.8 471.7,213.0M447.2,188.5 444.1,210.0 431.9,213.0 419.6,210.0 416.6,197.7 431.9,194.6M389.0,197.7 401.3,200.8 416.6,197.7M444.1,210.0 447.2,225.3 462.5,219.1 471.7,213.0 484.0,225.3 499.3,219.1 511.5,210.0M358.4,200.8 373.7,200.8 376.8,213.0M401.3,200.8 404.3,219.1 419.6,210.0M554.4,127.3 572.8,124.2 594.2,130.3 609.5,136.4 627.9,130.3M627.9,105.8 643.2,115.0 664.7,119.6 686.1,127.3 707.6,124.2 725.9,116.5 738.2,111.9M627.9,105.8 624.9,121.1 627.9,130.3M575.8,136.4 578.9,154.8 585.0,164.0 594.2,167.1M594.2,142.6 603.4,151.8 609.5,157.9 612.6,170.1M609.5,157.9 615.7,167.1 612.6,176.3M643.2,115.0 643.2,167.1M536.0,153.3 646.3,153.3M441.1,286.5 462.5,289.6 465.6,311.0 484.0,314.1M462.5,289.6 484.0,280.4 499.3,286.5 511.5,280.4M465.6,311.0 462.5,329.4 477.8,329.4 484.0,314.1 499.3,311.0M196.1,244.4 202.0,258.9 213.5,273.3 222.2,282.0 225.1,296.5 239.6,305.2 242.4,319.6 251.1,328.3M209.2,290.7 207.8,319.6 202.0,348.6 203.4,374.6M213.5,235.7 236.7,235.7 254.1,229.9M222.2,282.0 213.5,293.6 210.7,305.2 225.1,313.9 239.6,305.2M225.1,313.9 225.1,334.2 239.6,334.2" fill="none" stroke="#e1e6ec" stroke-width="1.0" stroke-opacity="0.75" stroke-linejoin="round"/><path d="M184.8,220.1 192.4,214.0 209.3,210.9 233.8,214.0 246.0,223.1 261.3,229.3 267.5,241.5 282.8,247.6 298.1,252.2 307.9,259.9 307.9,269.1 298.7,284.4 295.6,299.7 289.5,309.5 274.2,315.6 265.0,330.9 252.8,343.2 246.0,349.3 234.4,355.5 230.7,345.7 233.8,330.3 227.6,315.0 221.5,305.8 215.4,296.6 209.3,284.4 197.0,278.3 184.8,269.1 176.2,256.8 178.0,244.6 184.2,232.3Z" fill="#2e8bb4" filter="url(#ff)"/><path d="M184.8,220.1 192.4,214.0 209.3,210.9 233.8,214.0 246.0,223.1 261.3,229.3 267.5,241.5 282.8,247.6 298.1,252.2 307.9,259.9 307.9,269.1 298.7,284.4 295.6,299.7 289.5,309.5 274.2,315.6 265.0,330.9 252.8,343.2 246.0,349.3 234.4,355.5 230.7,345.7 233.8,330.3 227.6,315.0 221.5,305.8 215.4,296.6 209.3,284.4 197.0,278.3 184.8,269.1 176.2,256.8 178.0,244.6 184.2,232.3Z" fill="#66add0" filter="url(#gs1)"/><path d="M219.3,237.8 219.4,239.6 218.5,241.6 216.7,243.6 214.2,245.3 211.2,246.7 207.9,247.6 204.9,247.9 202.2,247.5 200.3,246.6 199.2,245.2 199.1,243.4 200.0,241.4 201.8,239.5 204.4,237.7 207.4,236.3 210.6,235.5 213.7,235.2 216.3,235.5 218.3,236.4ZM200.1,247.6 199.8,248.8 198.9,249.8 197.6,250.6 195.8,251.1 194.0,251.3 192.1,251.1 190.4,250.6 189.0,249.8 188.1,248.8 187.8,247.6 188.1,246.5 189.0,245.5 190.4,244.7 192.1,244.1 194.0,244.0 195.8,244.1 197.6,244.7 198.9,245.5 199.8,246.5ZM236.2,252.2 235.9,253.2 235.2,254.0 233.9,254.7 232.4,255.1 230.7,255.3 229.0,255.1 227.5,254.7 226.2,254.0 225.5,253.2 225.2,252.2 225.5,251.3 226.2,250.4 227.5,249.8 229.0,249.3 230.7,249.2 232.4,249.3 233.9,249.8 235.2,250.4 235.9,251.3ZM210.5,265.7 210.7,266.7 210.3,267.9 209.3,269.2 207.9,270.6 206.2,271.7 204.3,272.6 202.5,273.2 200.8,273.4 199.6,273.1 198.8,272.5 198.6,271.5 199.0,270.2 200.0,268.9 201.4,267.6 203.1,266.4 205.0,265.5 206.9,265.0 208.5,264.8 209.7,265.1ZM235.0,302.8 234.8,304.5 234.2,306.0 233.2,307.2 232.0,308.0 230.7,308.3 229.4,308.0 228.2,307.2 227.2,306.0 226.6,304.5 226.4,302.8 226.6,301.1 227.2,299.5 228.2,298.3 229.4,297.5 230.7,297.3 232.0,297.5 233.2,298.3 234.2,299.5 234.8,301.1Z" fill="#c3deec" filter="url(#gd2)"/><path d="M299.9,265.1 300.3,266.7 299.9,268.6 298.7,270.6 296.9,272.6 294.6,274.2 292.0,275.4 289.4,276.0 287.1,276.1 285.2,275.5 284.0,274.3 283.6,272.7 284.0,270.8 285.2,268.7 287.0,266.8 289.4,265.2 291.9,264.0 294.5,263.3 296.9,263.3 298.7,263.9ZM251.5,298.2 251.3,299.5 250.5,300.7 249.3,301.6 247.7,302.3 246.0,302.5 244.3,302.3 242.8,301.6 241.6,300.7 240.8,299.5 240.5,298.2 240.8,296.9 241.6,295.7 242.8,294.7 244.3,294.1 246.0,293.9 247.7,294.1 249.3,294.7 250.5,295.7 251.3,296.9ZM266.5,307.4 266.4,308.3 265.8,309.2 265.0,309.8 264.0,310.3 262.9,310.4 261.7,310.3 260.7,309.8 259.9,309.2 259.4,308.3 259.2,307.4 259.4,306.4 259.9,305.6 260.7,304.9 261.7,304.5 262.9,304.3 264.0,304.5 265.0,304.9 265.8,305.6 266.4,306.4Z" fill="#cbcbce" filter="url(#gd3)"/><path d="M123.5,175.7 132.1,173.5 133.3,187.9 148.0,189.4 152.6,183.3 162.4,183.9 157.8,194.0 168.5,200.2 171.6,210.9 179.2,217.0 185.4,220.1 178.6,223.8 166.4,216.1 154.1,206.9 141.9,200.8 131.2,198.0 125.0,188.8Z" fill="#2e8bb4" filter="url(#ff)"/><path d="M123.5,175.7 132.1,173.5 133.3,187.9 148.0,189.4 152.6,183.3 162.4,183.9 157.8,194.0 168.5,200.2 171.6,210.9 179.2,217.0 185.4,220.1 178.6,223.8 166.4,216.1 154.1,206.9 141.9,200.8 131.2,198.0 125.0,188.8Z" fill="#66add0" filter="url(#gm0)"/><path d="M166.4,178.7 175.6,177.2 184.8,180.3 194.0,186.4 194.6,190.1 186.3,185.8 177.1,181.8 167.9,181.8ZM197.0,190.1 204.7,187.9 212.3,190.1 212.3,193.1 203.1,193.1 197.6,193.1ZM184.8,191.0 190.9,191.0 190.9,193.4 184.8,193.4Z" fill="#2e8bb4" filter="url(#gd1)"/><path d="M196.4,347.2 204.7,345.0 206.8,361.0 202.2,376.9 197.0,373.8 195.8,357.9Z" fill="#2e8bb4" filter="url(#gd2)"/><path d="M196.4,347.2 204.7,345.0 206.8,361.0 202.2,376.9 197.0,373.8 195.8,357.9Z" fill="#c3deec" filter="url(#gs3)"/><path d="M230.7,342.6 246.0,339.5 247.5,350.2 233.8,356.4Z" fill="#66add0" filter="url(#gm4)"/><path d="M378.1,151.7 388.2,143.1 400.9,141.8 411.1,138.5 426.3,138.0 437.0,137.5 437.0,142.6 426.3,143.6 413.6,145.4 400.9,147.9 390.8,151.2 380.6,155.5Z" fill="#2e8bb4" filter="url(#gd0)"/><path d="M359.0,208.3 367.9,207.1 375.5,212.1 388.2,214.7 400.9,217.2 413.6,215.9 426.3,217.2 428.8,222.3 421.2,227.9 411.1,226.9 398.4,229.4 385.7,233.7 375.5,228.6 365.4,219.7Z" fill="#2e8bb4" filter="url(#gm1)"/><path d="M359.0,208.3 367.9,207.1 375.5,212.1 388.2,214.7 400.9,217.2 413.6,215.9 426.3,217.2 428.8,222.3 421.2,227.9 411.1,226.9 398.4,229.4 385.7,233.7 375.5,228.6 365.4,219.7Z" fill="#66add0" filter="url(#gm2)"/><path d="M428.8,224.8 441.5,219.7 459.3,222.3 477.1,224.8 482.1,235.0 482.1,252.7 472.0,257.8 459.3,255.3 446.6,257.8 436.4,252.7 431.4,242.6Z" fill="#2e8bb4" filter="url(#gm3)"/><path d="M428.8,224.8 441.5,219.7 459.3,222.3 477.1,224.8 482.1,235.0 482.1,252.7 472.0,257.8 459.3,255.3 446.6,257.8 436.4,252.7 431.4,242.6Z" fill="#66add0" filter="url(#gs4)"/><path d="M489.7,202.0 502.4,196.9 507.5,207.1 502.4,222.3 507.5,237.5 502.4,252.7 492.3,257.8 484.7,247.7 487.2,232.4 489.7,217.2Z" fill="#2e8bb4" filter="url(#gm0)"/><path d="M489.7,198.2 497.4,193.1 505.0,196.9 502.4,212.1 492.3,217.2 488.5,208.3Z" fill="#2e8bb4" filter="url(#gd1)"/><path d="M433.9,257.8 446.6,257.8 459.3,255.3 477.1,257.8 492.3,255.3 502.4,262.9 502.4,278.1 492.3,288.3 482.1,298.4 477.1,308.6 466.9,298.4 456.8,288.3 446.6,283.2 439.0,273.0Z" fill="#2e8bb4" filter="url(#gm2)"/><path d="M433.9,257.8 446.6,257.8 459.3,255.3 477.1,257.8 492.3,255.3 502.4,262.9 502.4,278.1 492.3,288.3 482.1,298.4 477.1,308.6 466.9,298.4 456.8,288.3 446.6,283.2 439.0,273.0Z" fill="#66add0" filter="url(#gs3)"/><path d="M492.3,288.3 507.5,285.7 518.9,285.7 508.0,296.4 505.5,304.0 502.9,314.2 492.8,324.3 482.6,334.5 472.0,337.8 477.1,323.8 482.1,311.1 487.2,298.4Z" fill="#2e8bb4" filter="url(#gd4)"/><path d="M543.0,278.1 547.6,283.2 546.1,293.4 541.0,306.0 535.9,314.2 534.2,308.6 538.0,298.4 540.5,288.3Z" fill="#2e8bb4" filter="url(#gd0)"/><path d="M478.3,128.9 484.7,124.6 497.4,124.6 502.4,123.3 517.7,124.6 522.7,119.5 527.8,123.3 535.4,124.6 543.0,127.1 543.0,133.5 538.0,136.0 527.8,133.5 517.7,133.5 507.5,136.0 502.4,143.6 492.3,142.3 484.7,138.0 479.1,133.5Z" fill="#66add0" filter="url(#gd1)"/><path d="M478.3,128.9 484.7,124.6 497.4,124.6 502.4,123.3 517.7,124.6 522.7,119.5 527.8,123.3 535.4,124.6 543.0,127.1 543.0,133.5 538.0,136.0 527.8,133.5 517.7,133.5 507.5,136.0 502.4,143.6 492.3,142.3 484.7,138.0 479.1,133.5Z" fill="#2e8bb4" filter="url(#gm2)"/><path d="M574.3,97.2 577.4,91.1 588.4,89.1 600.5,87.7 612.6,89.1 622.6,92.1 630.7,98.2 640.7,100.2 648.8,105.2 644.8,110.2 632.7,106.2 620.6,102.2 608.5,98.2 596.5,96.2 584.4,97.2Z" fill="#2e8bb4" filter="url(#gd3)"/><path d="M537.1,103.2 542.1,99.2 552.2,97.2 564.3,98.2 560.2,102.2 550.2,102.2 542.1,105.2Z" fill="#2e8bb4" filter="url(#gm4)"/><path d="M590.4,120.3 604.5,116.3 620.6,118.3 628.7,115.3 633.7,121.3 620.6,128.4 608.5,130.4 600.5,134.4 592.4,134.4 589.4,128.4Z" fill="#2e8bb4" filter="url(#gm0)"/><path d="M648.8,105.2 658.8,103.2 668.9,101.2 681.0,100.2 685.0,98.2 695.1,100.2 707.1,103.2 719.2,103.2 729.3,102.2 739.3,101.2 737.3,108.2 721.2,110.2 709.2,109.2 697.1,112.3 691.0,108.2 681.0,105.2 668.9,106.2 660.9,108.2Z" fill="#2e8bb4" filter="url(#gm1)"/><path d="M739.3,101.2 743.4,94.1 751.4,92.1 761.5,93.1 765.5,100.2 771.5,107.2 783.6,109.2 783.6,113.3 775.6,117.3 773.5,126.3 767.5,132.4 761.5,137.4 755.4,134.4 751.4,130.4 743.4,132.4 739.3,126.3 736.3,114.3Z" fill="#2e8bb4" filter="url(#gd2)"/><path d="M739.3,101.2 743.4,94.1 751.4,92.1 761.5,93.1 765.5,100.2 771.5,107.2 783.6,109.2 783.6,113.3 775.6,117.3 773.5,126.3 767.5,132.4 761.5,137.4 755.4,134.4 751.4,130.4 743.4,132.4 739.3,126.3 736.3,114.3Z" fill="#66add0" filter="url(#gm3)"/><path d="M608.5,143.4 614.6,146.1 624.6,154.1 636.7,160.2 648.8,163.2 660.9,164.2 668.9,166.2 664.9,174.6 652.8,170.6 640.7,166.6 628.7,162.6 616.6,154.5 608.5,148.5Z" fill="#2e8bb4" filter="url(#gd4)"/><path d="M740.3,133.4 748.4,138.4 742.4,144.5 743.8,150.5 748.4,154.5 749.4,162.6 744.4,170.6 738.3,176.7 730.3,181.1 722.2,184.3 716.2,185.7 710.2,188.7 705.1,190.7 701.1,182.7 693.1,178.7 681.0,174.6 668.9,170.6 664.9,164.6 677.0,158.5 691.0,154.5 705.1,148.5 721.2,142.4 733.3,135.4Z" fill="#66add0" filter="url(#gm0)"/><path d="M740.3,133.4 748.4,138.4 742.4,144.5 743.8,150.5 748.4,154.5 749.4,162.6 744.4,170.6 738.3,176.7 730.3,181.1 722.2,184.3 716.2,185.7 710.2,188.7 705.1,190.7 701.1,182.7 693.1,178.7 681.0,174.6 668.9,170.6 664.9,164.6 677.0,158.5 691.0,154.5 705.1,148.5 721.2,142.4 733.3,135.4Z" fill="#c3deec" filter="url(#gm1)"/><path d="M740.3,133.4 748.4,138.4 742.4,144.5 743.8,150.5 748.4,154.5 749.4,162.6 744.4,170.6 738.3,176.7 730.3,181.1 722.2,184.3 716.2,185.7 710.2,188.7 705.1,190.7 701.1,182.7 693.1,178.7 681.0,174.6 668.9,170.6 664.9,164.6 677.0,158.5 691.0,154.5 705.1,148.5 721.2,142.4 733.3,135.4Z" fill="#2e8bb4" filter="url(#gs2)"/><path d="M632.7,190.7 640.7,182.7 648.8,174.6 660.9,174.6 656.8,173.0 653.2,179.1 649.2,187.1 641.1,195.2 635.1,201.2ZM611.6,190.7 616.6,198.8 621.6,216.9 624.6,220.5 619.2,215.3 614.2,203.2Z" fill="#2e8bb4" filter="url(#gm3)"/><path d="M668.9,166.6 681.0,158.5 693.1,162.6 701.1,174.6 701.1,182.7 693.1,178.7 681.0,174.6Z" fill="#2e8bb4" filter="url(#gd4)"/><path d="M660.9,166.6 668.9,166.6 681.0,174.6 693.1,178.7 701.1,182.7 705.1,190.7 711.6,196.8 714.8,204.8 711.6,211.3 703.5,218.5 697.1,213.3 691.0,209.3 687.0,211.3 683.4,215.3 685.4,219.9 691.4,224.9 689.0,229.0 682.6,223.3 680.6,215.3 679.6,205.2 674.5,199.2 670.5,195.2 669.5,187.1 664.5,181.1 660.5,175.0Z" fill="#2e8bb4" filter="url(#ff)"/><path d="M660.9,166.6 668.9,166.6 681.0,174.6 693.1,178.7 701.1,182.7 705.1,190.7 711.6,196.8 714.8,204.8 711.6,211.3 703.5,218.5 697.1,213.3 691.0,209.3 687.0,211.3 683.4,215.3 685.4,219.9 691.4,224.9 689.0,229.0 682.6,223.3 680.6,215.3 679.6,205.2 674.5,199.2 670.5,195.2 669.5,187.1 664.5,181.1 660.5,175.0Z" fill="#66add0" filter="url(#gs1)"/><path d="M629.7,217.9 634.7,218.9 636.7,223.9 632.7,227.0 629.7,223.9ZM711.2,187.7 716.2,186.7 716.2,190.7 712.2,192.8ZM672.9,228.0 679.0,228.0 691.0,239.0 701.1,249.1 705.1,259.2 699.1,258.1 689.0,249.1 679.0,237.0ZM704.1,260.2 717.2,262.2 733.3,265.2 749.4,267.2 761.5,266.2 763.5,269.2 753.4,272.2 733.3,269.2 717.2,266.2 705.1,264.2ZM712.2,240.0 721.2,235.0 731.3,227.0 737.3,224.9 740.3,229.0 737.3,237.0 736.3,245.1 731.3,253.1 723.2,252.1 715.2,249.1ZM741.4,243.1 747.4,239.0 757.5,238.0 753.4,243.1 749.4,247.1 751.4,257.1 747.4,258.1 744.4,251.1 741.4,258.1 740.3,249.1ZM743.4,191.7 749.4,190.7 750.4,198.8 754.4,204.8 758.5,208.8 762.5,216.9 760.5,227.0 755.4,224.9 751.4,218.9 747.4,210.9 744.4,202.8 742.4,196.8ZM736.9,217.9 741.8,213.3 743.0,214.9 738.1,219.3ZM765.5,237.0 768.5,241.0 766.5,247.1 764.5,243.1ZM774.6,244.1 781.6,245.1 789.6,249.1 801.7,250.1 811.8,254.1 819.8,259.2 825.9,266.2 830.9,269.2 829.9,274.2 821.8,269.2 815.8,266.2 807.8,268.2 799.7,265.2 793.7,261.2 787.6,255.1 779.6,251.1ZM823.9,259.2 833.9,253.1 836.9,256.1 829.9,261.2ZM842.0,259.2 852.0,265.2 860.1,269.2 862.1,274.2 859.1,273.2 850.0,266.2 841.6,261.2ZM757.5,248.1 761.5,247.1 762.5,250.1 758.5,250.7ZM772.5,263.2 777.6,262.8 777.6,265.6 773.1,265.6Z" fill="#c3deec" filter="url(#gd2)"/><path d="M629.7,217.9 634.7,218.9 636.7,223.9 632.7,227.0 629.7,223.9ZM711.2,187.7 716.2,186.7 716.2,190.7 712.2,192.8ZM672.9,228.0 679.0,228.0 691.0,239.0 701.1,249.1 705.1,259.2 699.1,258.1 689.0,249.1 679.0,237.0ZM704.1,260.2 717.2,262.2 733.3,265.2 749.4,267.2 761.5,266.2 763.5,269.2 753.4,272.2 733.3,269.2 717.2,266.2 705.1,264.2ZM712.2,240.0 721.2,235.0 731.3,227.0 737.3,224.9 740.3,229.0 737.3,237.0 736.3,245.1 731.3,253.1 723.2,252.1 715.2,249.1ZM741.4,243.1 747.4,239.0 757.5,238.0 753.4,243.1 749.4,247.1 751.4,257.1 747.4,258.1 744.4,251.1 741.4,258.1 740.3,249.1ZM743.4,191.7 749.4,190.7 750.4,198.8 754.4,204.8 758.5,208.8 762.5,216.9 760.5,227.0 755.4,224.9 751.4,218.9 747.4,210.9 744.4,202.8 742.4,196.8ZM736.9,217.9 741.8,213.3 743.0,214.9 738.1,219.3ZM765.5,237.0 768.5,241.0 766.5,247.1 764.5,243.1ZM774.6,244.1 781.6,245.1 789.6,249.1 801.7,250.1 811.8,254.1 819.8,259.2 825.9,266.2 830.9,269.2 829.9,274.2 821.8,269.2 815.8,266.2 807.8,268.2 799.7,265.2 793.7,261.2 787.6,255.1 779.6,251.1ZM823.9,259.2 833.9,253.1 836.9,256.1 829.9,261.2ZM842.0,259.2 852.0,265.2 860.1,269.2 862.1,274.2 859.1,273.2 850.0,266.2 841.6,261.2ZM757.5,248.1 761.5,247.1 762.5,250.1 758.5,250.7ZM772.5,263.2 777.6,262.8 777.6,265.6 773.1,265.6Z" fill="#66add0" filter="url(#gm3)"/><path d="M629.7,217.9 634.7,218.9 636.7,223.9 632.7,227.0 629.7,223.9ZM711.2,187.7 716.2,186.7 716.2,190.7 712.2,192.8ZM672.9,228.0 679.0,228.0 691.0,239.0 701.1,249.1 705.1,259.2 699.1,258.1 689.0,249.1 679.0,237.0ZM704.1,260.2 717.2,262.2 733.3,265.2 749.4,267.2 761.5,266.2 763.5,269.2 753.4,272.2 733.3,269.2 717.2,266.2 705.1,264.2ZM712.2,240.0 721.2,235.0 731.3,227.0 737.3,224.9 740.3,229.0 737.3,237.0 736.3,245.1 731.3,253.1 723.2,252.1 715.2,249.1ZM741.4,243.1 747.4,239.0 757.5,238.0 753.4,243.1 749.4,247.1 751.4,257.1 747.4,258.1 744.4,251.1 741.4,258.1 740.3,249.1ZM743.4,191.7 749.4,190.7 750.4,198.8 754.4,204.8 758.5,208.8 762.5,216.9 760.5,227.0 755.4,224.9 751.4,218.9 747.4,210.9 744.4,202.8 742.4,196.8ZM736.9,217.9 741.8,213.3 743.0,214.9 738.1,219.3ZM765.5,237.0 768.5,241.0 766.5,247.1 764.5,243.1ZM774.6,244.1 781.6,245.1 789.6,249.1 801.7,250.1 811.8,254.1 819.8,259.2 825.9,266.2 830.9,269.2 829.9,274.2 821.8,269.2 815.8,266.2 807.8,268.2 799.7,265.2 793.7,261.2 787.6,255.1 779.6,251.1ZM823.9,259.2 833.9,253.1 836.9,256.1 829.9,261.2ZM842.0,259.2 852.0,265.2 860.1,269.2 862.1,274.2 859.1,273.2 850.0,266.2 841.6,261.2ZM757.5,248.1 761.5,247.1 762.5,250.1 758.5,250.7ZM772.5,263.2 777.6,262.8 777.6,265.6 773.1,265.6Z" fill="#2e8bb4" filter="url(#gs4)"/></g></g>
<g transform="translate(-4.41 682.13) scale(1.058)" filter="url(#soft)"><use href="#landL" fill="#cbcbce" filter="url(#roughL)"/><g mask="url(#maskL)"><path d="M370.6,167.1 389.0,167.1 389.0,182.4 389.0,197.7 373.7,200.8M389.0,167.1 410.4,180.9 431.9,194.6 447.2,188.5M431.9,154.8 435.0,182.4 447.2,188.5 474.8,200.8M474.8,154.8 474.8,182.4 499.3,182.4M474.8,182.4 474.8,200.8 471.7,213.0M447.2,188.5 444.1,210.0 431.9,213.0 419.6,210.0 416.6,197.7 431.9,194.6M389.0,197.7 401.3,200.8 416.6,197.7M444.1,210.0 447.2,225.3 462.5,219.1 471.7,213.0 484.0,225.3 499.3,219.1 511.5,210.0M358.4,200.8 373.7,200.8 376.8,213.0M401.3,200.8 404.3,219.1 419.6,210.0M554.4,127.3 572.8,124.2 594.2,130.3 609.5,136.4 627.9,130.3M627.9,105.8 643.2,115.0 664.7,119.6 686.1,127.3 707.6,124.2 725.9,116.5 738.2,111.9M627.9,105.8 624.9,121.1 627.9,130.3M575.8,136.4 578.9,154.8 585.0,164.0 594.2,167.1M594.2,142.6 603.4,151.8 609.5,157.9 612.6,170.1M609.5,157.9 615.7,167.1 612.6,176.3M643.2,115.0 643.2,167.1M536.0,153.3 646.3,153.3M441.1,286.5 462.5,289.6 465.6,311.0 484.0,314.1M462.5,289.6 484.0,280.4 499.3,286.5 511.5,280.4M465.6,311.0 462.5,329.4 477.8,329.4 484.0,314.1 499.3,311.0M196.1,244.4 202.0,258.9 213.5,273.3 222.2,282.0 225.1,296.5 239.6,305.2 242.4,319.6 251.1,328.3M209.2,290.7 207.8,319.6 202.0,348.6 203.4,374.6M213.5,235.7 236.7,235.7 254.1,229.9M222.2,282.0 213.5,293.6 210.7,305.2 225.1,313.9 239.6,305.2M225.1,313.9 225.1,334.2 239.6,334.2" fill="none" stroke="#b3b3ba" stroke-width="1.3" stroke-opacity="0.9" stroke-linejoin="round"/><path d="M97.7,163.3 109.4,177.9 118.0,188.0 132.5,195.2 138.3,196.7 135.4,189.4 123.8,185.0 112.2,173.5 103.5,163.3Z" fill="#e8705c" filter="url(#gm0)"/><path d="M125.2,176.3 131.0,177.9 138.3,190.8 144.1,196.7 138.3,198.1 129.6,189.4Z" fill="#3f83b5" filter="url(#gm1)"/><path d="M141.1,192.3 151.3,183.6 160.0,183.1 159.1,196.7 170.1,201.0 171.6,212.5 178.8,218.3 173.0,221.2 162.9,212.5 152.7,205.4 144.1,201.0Z" fill="#3f83b5" filter="url(#gm2)"/><path d="M141.1,192.3 151.3,183.6 160.0,183.1 159.1,196.7 170.1,201.0 171.6,212.5 178.8,218.3 173.0,221.2 162.9,212.5 152.7,205.4 144.1,201.0Z" fill="#e8705c" filter="url(#gs3)"/><path d="M167.2,178.4 178.8,177.9 190.4,182.2 196.1,187.1 187.5,187.1 178.8,182.2 168.6,181.3ZM199.1,188.0 210.7,187.1 212.1,191.7 202.0,192.3Z" fill="#3f83b5" filter="url(#gd4)"/><path d="M186.0,212.5 202.0,209.7 213.5,212.5 207.8,229.9 196.1,241.5 184.6,235.7Z" fill="#e8705c" filter="url(#gm0)"/><path d="M186.0,212.5 202.0,209.7 213.5,212.5 207.8,229.9 196.1,241.5 184.6,235.7Z" fill="#3f83b5" filter="url(#gm1)"/><path d="M175.9,244.4 184.6,241.5 187.5,258.9 180.3,261.8Z" fill="#3f83b5" filter="url(#gm2)"/><path d="M259.8,247.3 271.5,244.4 283.0,250.2 283.0,261.8 271.5,267.6 262.8,270.5 257.0,261.8Z" fill="#3f83b5" filter="url(#gm3)"/><path d="M220.8,267.6 236.7,267.6 254.1,273.3 259.8,282.0 248.3,287.8 230.9,282.0 222.2,276.2Z" fill="#3f83b5" filter="url(#gs4)"/><path d="M283.0,276.2 297.5,276.2 297.5,293.6 288.8,305.2 274.3,310.9 277.2,296.5Z" fill="#3f83b5" filter="url(#gd0)"/><path d="M230.9,302.3 248.3,305.2 265.6,308.1 274.3,305.2 271.5,316.8 254.1,322.6 239.6,316.8Z" fill="#3f83b5" filter="url(#gd1)"/><path d="M216.5,313.9 233.8,310.9 239.6,325.5 225.1,334.2 216.5,334.2Z" fill="#e8705c" filter="url(#gm2)"/><path d="M248.3,313.9 265.6,313.9 265.6,325.5 251.1,325.5Z" fill="#e8705c" filter="url(#gm3)"/><path d="M216.5,284.9 228.0,287.8 230.9,305.2 219.3,305.2Z" fill="#e8705c" filter="url(#gs4)"/><path d="M196.1,340.0 202.6,338.4 202.0,360.2 196.1,363.1Z" fill="#3f83b5" filter="url(#gs0)"/><path d="M196.1,340.0 202.6,338.4 202.0,360.2 196.1,363.1Z" fill="#e8705c" filter="url(#gs1)"/><path d="M369.8,218.3 378.4,219.8 392.9,224.2 410.2,224.2 433.4,229.9 445.0,234.3 442.1,238.6 430.5,234.3 410.2,229.9 392.9,229.9 378.4,227.0Z" fill="#e8705c" filter="url(#gm2)"/><path d="M369.8,218.3 378.4,219.8 392.9,224.2 410.2,224.2 433.4,229.9 445.0,234.3 442.1,238.6 430.5,234.3 410.2,229.9 392.9,229.9 378.4,227.0Z" fill="#3f83b5" filter="url(#gs3)"/><path d="M442.1,234.3 456.5,229.9 473.9,235.7 485.5,244.4 479.7,258.9 462.4,261.8 447.9,253.1Z" fill="#e8705c" filter="url(#gs4)"/><path d="M442.1,234.3 456.5,229.9 473.9,235.7 485.5,244.4 479.7,258.9 462.4,261.8 447.9,253.1Z" fill="#3f83b5" filter="url(#gs0)"/><path d="M500.0,209.7 513.1,206.8 518.8,218.3 511.5,229.9 501.4,224.2Z" fill="#3f83b5" filter="url(#gs1)"/><path d="M495.7,247.3 511.5,244.4 511.5,264.7 498.6,266.1Z" fill="#3f83b5" filter="url(#gs2)"/><path d="M495.7,247.3 511.5,244.4 511.5,264.7 498.6,266.1Z" fill="#e8705c" filter="url(#gs3)"/><path d="M387.1,143.1 410.2,140.1 432.0,139.6 432.0,143.1 410.2,144.5 388.6,146.6Z" fill="#3f83b5" filter="url(#gs4)"/><path d="M477.4,125.7 491.3,124.3 508.7,127.2 511.5,135.9 497.1,141.7 482.6,140.1 478.3,133.0Z" fill="#3f83b5" filter="url(#gm0)"/><path d="M477.4,125.7 491.3,124.3 508.7,127.2 511.5,135.9 497.1,141.7 482.6,140.1 478.3,133.0Z" fill="#e8705c" filter="url(#gs1)"/><path d="M514.5,121.3 537.6,124.3 543.4,131.5 526.1,131.5 515.9,127.2Z" fill="#e8705c" filter="url(#gs2)"/><path d="M604.3,138.7 612.9,140.1 630.3,154.7 653.4,166.2 665.0,169.2 662.1,173.5 641.9,167.6 621.6,157.5 607.1,146.0Z" fill="#e8705c" filter="url(#gs3)"/><path d="M617.2,169.2 630.3,167.6 647.6,173.5 650.6,183.6 641.9,195.2 630.3,192.3 620.1,183.6Z" fill="#e8705c" filter="url(#gm4)"/><path d="M633.2,188.0 646.2,183.6 647.6,189.4 637.5,196.7Z" fill="#3f83b5" filter="url(#gm0)"/><path d="M612.9,195.2 624.5,198.1 630.3,224.2 624.5,218.3 615.8,203.8Z" fill="#e8705c" filter="url(#gs1)"/><path d="M694.0,143.1 711.3,134.4 728.7,125.7 740.3,111.2 746.0,99.7 763.4,102.5 780.8,109.8 769.2,119.9 757.7,125.7 740.3,133.0 722.9,141.7 705.6,149.4Z" fill="#3f83b5" filter="url(#gm2)"/><path d="M746.0,124.3 763.4,121.3 766.4,131.5 751.9,135.9Z" fill="#e8705c" filter="url(#gm3)"/><path d="M679.5,169.2 696.9,151.8 720.0,146.0 740.3,148.8 748.4,160.5 740.8,175.5 729.3,187.1 711.3,192.9 696.9,190.0 682.4,184.2Z" fill="#e8705c" filter="url(#gm4)"/><path d="M679.5,169.2 696.9,151.8 720.0,146.0 740.3,148.8 748.4,160.5 740.8,175.5 729.3,187.1 711.3,192.9 696.9,190.0 682.4,184.2Z" fill="#e8705c" filter="url(#gs0)"/><path d="M665.0,177.9 682.4,174.9 694.0,189.4 691.0,206.8 682.4,218.3 670.8,209.7 665.0,195.2Z" fill="#3f83b5" filter="url(#gm1)"/><path d="M665.0,177.9 682.4,174.9 694.0,189.4 691.0,206.8 682.4,218.3 670.8,209.7 665.0,195.2Z" fill="#e8705c" filter="url(#gs2)"/><path d="M691.0,189.4 708.4,189.4 711.3,206.8 699.7,215.5 691.0,206.8Z" fill="#e8705c" filter="url(#gs3)"/><path d="M691.0,189.4 708.4,189.4 711.3,206.8 699.7,215.5 691.0,206.8Z" fill="#3f83b5" filter="url(#gs4)"/><path d="M679.5,218.3 688.2,224.2 696.9,244.4 691.0,244.4 680.9,229.9Z" fill="#3f83b5" filter="url(#gs0)"/><path d="M672.2,227.0 682.4,231.4 699.7,250.2 705.6,258.9 696.9,258.9 682.4,244.4Z" fill="#e8705c" filter="url(#gm1)"/><path d="M709.9,240.0 722.9,231.4 737.4,225.6 737.4,241.6 728.7,253.1 714.2,251.7Z" fill="#e8705c" filter="url(#gm2)"/><path d="M701.2,260.4 720.0,263.2 740.3,266.1 760.6,266.1 760.6,270.5 740.3,270.5 720.0,268.1 702.1,264.7Z" fill="#e8705c" filter="url(#gs3)"/><path d="M701.2,260.4 720.0,263.2 740.3,266.1 760.6,266.1 760.6,270.5 740.3,270.5 720.0,268.1 702.1,264.7Z" fill="#3f83b5" filter="url(#gs4)"/><path d="M740.3,192.3 747.6,191.7 751.9,206.8 759.1,218.3 756.2,227.0 749.0,218.3 743.2,203.8Z" fill="#3f83b5" filter="url(#gs0)"/></g></g>
<rect x="894.3" y="87.8" width="14.7" height="310.9" fill="url(#cbA)" stroke="#8a8fa5" stroke-width="0.8"/>
<line x1="894" x2="915" y1="88.8" y2="88.8" stroke="#6d7896" stroke-width="1"/>
<text x="919.6" y="93.9" font-size="14.5" fill="none" stroke="#a9bccb" stroke-opacity="0.5" stroke-width="2.2">100</text>
<text x="919.6" y="93.9" font-size="14.5" fill="#3a3f5c" stroke="#3a3f5c" stroke-width="0.25">100</text>
<line x1="894" x2="915" y1="150.6" y2="150.6" stroke="#6d7896" stroke-width="1"/>
<text x="919.6" y="155.7" font-size="14.5" fill="none" stroke="#a9bccb" stroke-opacity="0.5" stroke-width="2.2">80</text>
<text x="919.6" y="155.7" font-size="14.5" fill="#3a3f5c" stroke="#3a3f5c" stroke-width="0.25">80</text>
<line x1="894" x2="915" y1="212.4" y2="212.4" stroke="#6d7896" stroke-width="1"/>
<text x="919.6" y="217.5" font-size="14.5" fill="none" stroke="#a9bccb" stroke-opacity="0.5" stroke-width="2.2">60</text>
<text x="919.6" y="217.5" font-size="14.5" fill="#3a3f5c" stroke="#3a3f5c" stroke-width="0.25">60</text>
<line x1="894" x2="915" y1="274.1" y2="274.1" stroke="#6d7896" stroke-width="1"/>
<text x="919.6" y="279.2" font-size="14.5" fill="none" stroke="#a9bccb" stroke-opacity="0.5" stroke-width="2.2">40</text>
<text x="919.6" y="279.2" font-size="14.5" fill="#3a3f5c" stroke="#3a3f5c" stroke-width="0.25">40</text>
<line x1="894" x2="915" y1="335.9" y2="335.9" stroke="#6d7896" stroke-width="1"/>
<text x="919.6" y="341.0" font-size="14.5" fill="none" stroke="#a9bccb" stroke-opacity="0.5" stroke-width="2.2">20</text>
<text x="919.6" y="341.0" font-size="14.5" fill="#3a3f5c" stroke="#3a3f5c" stroke-width="0.25">20</text>
<line x1="894" x2="915" y1="397.7" y2="397.7" stroke="#6d7896" stroke-width="1"/>
<text x="919.6" y="402.8" font-size="14.5" fill="none" stroke="#a9bccb" stroke-opacity="0.5" stroke-width="2.2">0</text>
<text x="919.6" y="402.8" font-size="14.5" fill="#3a3f5c" stroke="#3a3f5c" stroke-width="0.25">0</text>
<rect x="894.3" y="431.9" width="14.7" height="310.30000000000007" fill="url(#cbB)" stroke="#8a8fa5" stroke-width="0.8"/>
<line x1="894" x2="915" y1="432.9" y2="432.9" stroke="#6d7896" stroke-width="1"/>
<text x="919.6" y="438.0" font-size="14.5" fill="none" stroke="#a9bccb" stroke-opacity="0.5" stroke-width="2.2">200</text>
<text x="919.6" y="438.0" font-size="14.5" fill="#3a3f5c" stroke="#3a3f5c" stroke-width="0.25">200</text>
<line x1="894" x2="915" y1="494.6" y2="494.6" stroke="#6d7896" stroke-width="1"/>
<text x="919.6" y="499.7" font-size="14.5" fill="none" stroke="#a9bccb" stroke-opacity="0.5" stroke-width="2.2">150</text>
<text x="919.6" y="499.7" font-size="14.5" fill="#3a3f5c" stroke="#3a3f5c" stroke-width="0.25">150</text>
<line x1="894" x2="915" y1="556.2" y2="556.2" stroke="#6d7896" stroke-width="1"/>
<text x="919.6" y="561.3" font-size="14.5" fill="none" stroke="#a9bccb" stroke-opacity="0.5" stroke-width="2.2">100</text>
<text x="919.6" y="561.3" font-size="14.5" fill="#3a3f5c" stroke="#3a3f5c" stroke-width="0.25">100</text>
<line x1="894" x2="915" y1="617.9" y2="617.9" stroke="#6d7896" stroke-width="1"/>
<text x="919.6" y="623.0" font-size="14.5" fill="none" stroke="#a9bccb" stroke-opacity="0.5" stroke-width="2.2">50</text>
<text x="919.6" y="623.0" font-size="14.5" fill="#3a3f5c" stroke="#3a3f5c" stroke-width="0.25">50</text>
<line x1="894" x2="915" y1="679.5" y2="679.5" stroke="#6d7896" stroke-width="1"/>
<text x="919.6" y="684.6" font-size="14.5" fill="none" stroke="#a9bccb" stroke-opacity="0.5" stroke-width="2.2">0</text>
<text x="919.6" y="684.6" font-size="14.5" fill="#3a3f5c" stroke="#3a3f5c" stroke-width="0.25">0</text>
<line x1="894" x2="915" y1="741.2" y2="741.2" stroke="#6d7896" stroke-width="1"/>
<text x="919.6" y="746.3" font-size="14.5" fill="none" stroke="#a9bccb" stroke-opacity="0.5" stroke-width="2.2">-50</text>
<text x="919.6" y="746.3" font-size="14.5" fill="#3a3f5c" stroke="#3a3f5c" stroke-width="0.25">-50</text>
<text x="65.3" y="94.8" font-size="19" font-weight="bold" fill="none" stroke="#dfe4e8" stroke-opacity="0.4" stroke-width="2.2">a</text>
<text x="65.3" y="94.8" font-size="19" font-weight="bold" fill="#261e2e" stroke="#261e2e" stroke-width="0.3">a</text>
<text x="65.3" y="441" font-size="19" font-weight="bold" fill="none" stroke="#dfe4e8" stroke-opacity="0.4" stroke-width="2.2">b</text>
<text x="65.3" y="441" font-size="19" font-weight="bold" fill="#261e2e" stroke="#261e2e" stroke-width="0.3">b</text>
<text x="65.3" y="782.5" font-size="19" font-weight="bold" fill="none" stroke="#dfe4e8" stroke-opacity="0.4" stroke-width="2.2">c</text>
<text x="65.3" y="782.5" font-size="19" font-weight="bold" fill="#261e2e" stroke="#261e2e" stroke-width="0.3">c</text>
<text x="1064.2" y="75" font-size="19" font-weight="bold" fill="none" stroke="#dfe4e8" stroke-opacity="0.4" stroke-width="2.2">a</text>
<text x="1064.2" y="75" font-size="19" font-weight="bold" fill="#261e2e" stroke="#261e2e" stroke-width="0.3">a</text>
<text x="1516.5" y="75" font-size="19" font-weight="bold" fill="none" stroke="#dfe4e8" stroke-opacity="0.4" stroke-width="2.2">b</text>
<text x="1516.5" y="75" font-size="19" font-weight="bold" fill="#261e2e" stroke="#261e2e" stroke-width="0.3">b</text>
<text x="1064.2" y="354.7" font-size="19" font-weight="bold" fill="none" stroke="#dfe4e8" stroke-opacity="0.4" stroke-width="2.2">c</text>
<text x="1064.2" y="354.7" font-size="19" font-weight="bold" fill="#261e2e" stroke="#261e2e" stroke-width="0.3">c</text>
<text x="1516.5" y="355" font-size="19" font-weight="bold" fill="none" stroke="#dfe4e8" stroke-opacity="0.4" stroke-width="2.2">d</text>
<text x="1516.5" y="355" font-size="19" font-weight="bold" fill="#261e2e" stroke="#261e2e" stroke-width="0.3">d</text>
<text x="1064.2" y="619.6" font-size="19" font-weight="bold" fill="none" stroke="#dfe4e8" stroke-opacity="0.4" stroke-width="2.2">e</text>
<text x="1064.2" y="619.6" font-size="19" font-weight="bold" fill="#261e2e" stroke="#261e2e" stroke-width="0.3">e</text>
<rect x="708.6" y="1029" width="13" height="13.5" fill="#e8523f" stroke="#7f8fa3" stroke-width="1.2"/>
<rect x="708.6" y="1048" width="13" height="13" fill="#2f7fae" stroke="#7f8fa3" stroke-width="1.2"/>
<text x="727.5" y="1041.8" font-size="16" font-weight="bold" fill="none" stroke="#7f93aa" stroke-opacity="0.65" stroke-width="2.4" textLength="129.5" lengthAdjust="spacingAndGlyphs">Natural regeneration</text>
<text x="727.5" y="1041.8" font-size="16" font-weight="bold" fill="#3a3450" textLength="129.5" lengthAdjust="spacingAndGlyphs">Natural regeneration</text>
<text x="727.5" y="1060.5" font-size="16" font-weight="bold" fill="none" stroke="#7f93aa" stroke-opacity="0.65" stroke-width="2.4" textLength="63" lengthAdjust="spacingAndGlyphs">Plantation</text>
<text x="727.5" y="1060.5" font-size="16" font-weight="bold" fill="#3a3450" textLength="63" lengthAdjust="spacingAndGlyphs">Plantation</text>
<path d="M1821.5 619 L1821.5 623.5 L1823.5 624.5 L1850 626 Q1890 629.5 1910 629 Q1918 627.5 1921 624.5 Q1935 622.5 1945 622 L1977 622 L1977 619Z" fill="#48714d"/>
<path d="M1823.5 624 L1850 625.5 Q1890 629 1910 628.5 Q1918 627 1921 624 Q1935 622 1945 621.5 Q1957 617 1964 612.5 Q1972 616 1976.3 623 L1976.3 884.5 L1823.5 884.5Z" fill="#fff"/>
<rect x="1828" y="627" width="21" height="12.8" fill="#cc1f1f"/>
<rect x="1828" y="639.5" width="21" height="11.3" fill="#d8352a"/>
<rect x="1828" y="650.5" width="21" height="11.3" fill="#e25a42"/>
<rect x="1828" y="661.5" width="21" height="11.8" fill="#f7c49a"/>
<rect x="1828" y="673" width="21" height="23.8" fill="#f7e3b7"/>
<rect x="1828" y="696.5" width="21" height="22.1" fill="#aabfc2"/>
<rect x="1828" y="718.3" width="21" height="36.0" fill="#d8dfc6"/>
<rect x="1828" y="754" width="21" height="34.9" fill="#aabfc4"/>
<rect x="1828" y="788.6" width="21" height="34.3" fill="#7da3bf"/>
<rect x="1828" y="822.6" width="21" height="32.8" fill="#5a8cb3"/>
<path d="M1853 639.1 L1865 639.1" stroke="#2a2630" stroke-width="1.6"/><path d="M1850.5 639.1 l6.5 -3.6 v7.2z" fill="#1c1a22"/>
<text x="1868" y="642.9" font-size="11.5" fill="#2f3040">Top 5%</text>
<path d="M1853 650.1 L1874.5 650.1" stroke="#2a2630" stroke-width="1.6"/><path d="M1849.5 650.1 l6.5 -3.6 v7.2z" fill="#1c1a22"/>
<text x="1878" y="654.1" font-size="11.5" fill="#2f3040">10%</text>
<path d="M1853 661.1 L1874.5 661.1" stroke="#2a2630" stroke-width="1.6"/><path d="M1849.5 661.1 l6.5 -3.6 v7.2z" fill="#1c1a22"/>
<text x="1878" y="665.1" font-size="11.5" fill="#2f3040">15%</text>
<path d="M1853 672.6 L1874.5 672.6" stroke="#2a2630" stroke-width="1.6"/><path d="M1849.5 672.6 l6.5 -3.6 v7.2z" fill="#1c1a22"/>
<text x="1878" y="676.6" font-size="11.5" fill="#2f3040">20%</text>
<path d="M1853 696.1 L1874.5 696.1" stroke="#2a2630" stroke-width="1.6"/><path d="M1849.5 696.1 l6.5 -3.6 v7.2z" fill="#1c1a22"/>
<text x="1878" y="700.1" font-size="11.5" fill="#2f3040">30%</text>
<path d="M1853 717.9 L1874.5 717.9" stroke="#2a2630" stroke-width="1.6"/><path d="M1849.5 717.9 l6.5 -3.6 v7.2z" fill="#1c1a22"/>
<text x="1878" y="721.9" font-size="11.5" fill="#2f3040">40%</text>
<path d="M1853 753.6 L1874.5 753.6" stroke="#2a2630" stroke-width="1.6"/><path d="M1849.5 753.6 l6.5 -3.6 v7.2z" fill="#1c1a22"/>
<text x="1878" y="757.6" font-size="11.5" fill="#2f3040">55%</text>
<path d="M1853 788.2 L1874.5 788.2" stroke="#2a2630" stroke-width="1.6"/><path d="M1849.5 788.2 l6.5 -3.6 v7.2z" fill="#1c1a22"/>
<text x="1878" y="792.2" font-size="11.5" fill="#2f3040">70%</text>
<path d="M1853 822.2 L1874.5 822.2" stroke="#2a2630" stroke-width="1.6"/><path d="M1849.5 822.2 l6.5 -3.6 v7.2z" fill="#1c1a22"/>
<text x="1878" y="826.2" font-size="11.5" fill="#2f3040">85%</text>
<path d="M1853 854.7 L1874.5 854.7" stroke="#2a2630" stroke-width="1.6"/><path d="M1849.5 854.7 l6.5 -3.6 v7.2z" fill="#1c1a22"/>
<text x="1878" y="858.7" font-size="11.5" fill="#2f3040">100%</text>
<path d="M1919.5 633 L1919.5 850" stroke="#4a4650" stroke-width="1.7"/><path d="M1919.5 626.5 l-4 9 h8z M1919.5 856.5 l-4 -9 h8z" fill="#1c1a22"/>
<text x="1929" y="635.5" font-size="12" fill="#2f3040" textLength="42" lengthAdjust="spacingAndGlyphs">Highest</text>
<text x="1931.5" y="854" font-size="12" fill="#2f3040" textLength="39" lengthAdjust="spacingAndGlyphs">Lowest</text>
<rect x="1828" y="867.5" width="21.5" height="11" fill="#fff" stroke="#777" stroke-width="1.2"/>
<text x="1860" y="876.5" font-size="11.5" fill="#2f3040" textLength="100" lengthAdjust="spacingAndGlyphs">Current vegetation</text>
</svg></body></html>
